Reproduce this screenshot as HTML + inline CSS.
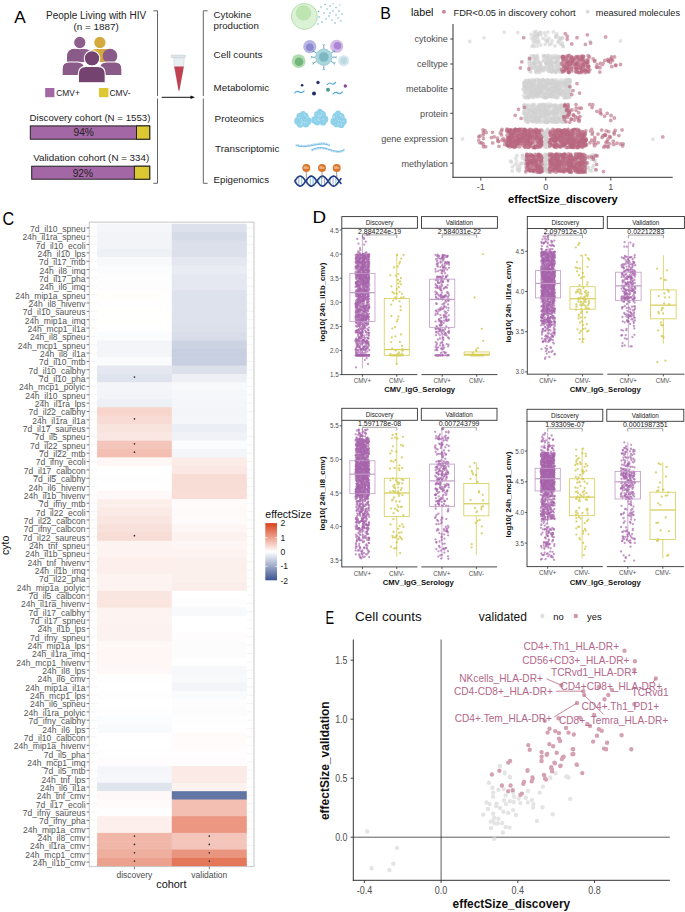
<!DOCTYPE html>
<html><head><meta charset="utf-8"><style>
html,body{margin:0;padding:0;background:#fff;}
svg{display:block;font-family:"Liberation Sans", sans-serif;}
</style></head><body>
<svg width="685" height="912" viewBox="0 0 685 912">
<rect width="685" height="912" fill="#fff"/>
<text x="14.2" y="23.2" font-size="17.2" text-anchor="start" fill="#000" >A</text>
<text x="96.1" y="19.2" font-size="10.0" text-anchor="middle" fill="#222" >People Living with HIV</text>
<text x="96.2" y="29.6" font-size="9.9" text-anchor="middle" fill="#222" >(n = 1887)</text>
<path d="M67.0 62.0 V56.4 Q67.0 48.9 74.5 48.9 H84.5 Q92.0 48.9 92.0 56.4 V62.0 Z" fill="#8e5e8c" />
<path d="M89.0 62.0 V56.4 Q89.0 48.9 96.5 48.9 H105.0 Q112.5 48.9 112.5 56.4 V62.0 Z" fill="#d5a93c" />
<circle cx="79.80" cy="42.50" r="6.20" fill="#8e5e8c" stroke="#fff" stroke-width="1.1"/>
<circle cx="99.90" cy="42.50" r="6.20" fill="#d5a93c" stroke="#fff" stroke-width="1.1"/>
<circle cx="74.60" cy="56.00" r="7.30" fill="#8a5a88" />
<circle cx="110.00" cy="56.00" r="7.30" fill="#8a5a88" />
<path d="M62.1 75.5 V69.0 Q62.1 62.0 69.1 62.0 H77.5 Q84.5 62.0 84.5 69.0 V75.5 Z" fill="#8a5a88" stroke="#fff" stroke-width="1.1"/>
<path d="M99.5 75.5 V69.0 Q99.5 62.0 106.5 62.0 H114.9 Q121.9 62.0 121.9 69.0 V75.5 Z" fill="#8a5a88" stroke="#fff" stroke-width="1.1"/>
<circle cx="92.00" cy="58.40" r="7.70" fill="#744370" stroke="#fff" stroke-width="1.1"/>
<path d="M78.4 82.7 V73.9 Q78.4 66.4 85.9 66.4 H97.7 Q105.2 66.4 105.2 73.9 V82.7 Z" fill="#744370" stroke="#fff" stroke-width="1.1"/>
<rect x="45.20" y="88.00" width="9.20" height="9.20" fill="#a467a5" />
<text x="56.3" y="96.0" font-size="8.4" text-anchor="start" fill="#222" >CMV+</text>
<rect x="99.00" y="88.00" width="9.40" height="9.20" fill="#dbc833" />
<text x="109.5" y="96.0" font-size="8.4" text-anchor="start" fill="#222" >CMV-</text>
<text x="90.0" y="120.5" font-size="9.7" text-anchor="middle" fill="#222" >Discovery cohort (N = 1553)</text>
<rect x="30.30" y="125.90" width="119.40" height="13.30" fill="#a467a5" stroke="#222" stroke-width="1"/>
<rect x="136.50" y="125.90" width="13.20" height="13.30" fill="#dbc833" stroke="#222" stroke-width="1"/>
<text x="83.7" y="135.7" font-size="10.2" text-anchor="middle" fill="#222" >94%</text>
<text x="91.2" y="160.8" font-size="9.8" text-anchor="middle" fill="#222" >Validation cohort (N = 334)</text>
<rect x="31.70" y="166.20" width="118.00" height="13.00" fill="#a467a5" stroke="#222" stroke-width="1"/>
<rect x="134.40" y="166.20" width="15.30" height="13.00" fill="#dbc833" stroke="#222" stroke-width="1"/>
<text x="82.9" y="176.5" font-size="10.2" text-anchor="middle" fill="#222" >92%</text>
<path d="M153.3 10.8 H157.5 V96 M157.5 98.5 V183.3 H153.3" fill="none" stroke="#555" stroke-width="0.9"/>
<path d="M173.8 57.6 L184.3 57.6 L183.8 67 L179.3 90.5 L178.6 90.5 L174.3 67 Z" fill="#e9eef1" stroke="#c9d2d6" stroke-width="0.5"/>
<path d="M174.3 66.5 L183.8 66.5 L179.4 90.6 L178.6 90.6 Z" fill="#c0414f"/>
<rect x="171.0" y="55.1" width="14.6" height="2.6" rx="0.8" fill="#dde5ea" stroke="#b9c3c8" stroke-width="0.4"/>
<line x1="161.70" y1="97.30" x2="191.50" y2="97.30" stroke="#111" stroke-width="1.0" />
<path d="M195 97.3 L190.5 95.6 L190.5 99 Z" fill="#111"/>
<path d="M207.6 10.8 H203.3 V96 M203.3 98.5 V183.3 H207.6" fill="none" stroke="#555" stroke-width="0.9"/>
<text x="213.6" y="18.2" font-size="9.7" text-anchor="start" fill="#222" >Cytokine</text>
<text x="213.6" y="28.6" font-size="9.7" text-anchor="start" fill="#222" >production</text>
<text x="213.6" y="58.2" font-size="9.9" text-anchor="start" fill="#222" >Cell counts</text>
<text x="213.6" y="91.3" font-size="9.8" text-anchor="start" fill="#222" >Metabolomic</text>
<text x="214.6" y="121.8" font-size="9.9" text-anchor="start" fill="#222" >Proteomics</text>
<text x="215.1" y="152.3" font-size="9.9" text-anchor="start" fill="#222" >Transcriptomic</text>
<text x="213.6" y="183.4" font-size="9.7" text-anchor="start" fill="#222" >Epigenomics</text>
<circle cx="304.40" cy="16.40" r="13.00" fill="#dcf2d6" stroke="#a9d9a0" stroke-width="0.8"/>
<circle cx="303.50" cy="12.90" r="7.70" fill="#bde4b1" />
<circle cx="318.50" cy="11.50" r="0.75" fill="#56a9c9" />
<circle cx="321.00" cy="7.00" r="0.65" fill="#56a9c9" />
<circle cx="324.00" cy="13.00" r="0.75" fill="#56a9c9" />
<circle cx="327.00" cy="9.00" r="0.65" fill="#56a9c9" />
<circle cx="330.00" cy="6.00" r="0.75" fill="#56a9c9" />
<circle cx="333.00" cy="11.00" r="0.65" fill="#56a9c9" />
<circle cx="336.00" cy="7.50" r="0.65" fill="#56a9c9" />
<circle cx="339.00" cy="11.00" r="0.75" fill="#56a9c9" />
<circle cx="342.00" cy="14.00" r="0.65" fill="#56a9c9" />
<circle cx="319.00" cy="17.00" r="0.75" fill="#56a9c9" />
<circle cx="322.00" cy="22.00" r="0.75" fill="#56a9c9" />
<circle cx="326.00" cy="19.00" r="0.65" fill="#56a9c9" />
<circle cx="329.00" cy="16.00" r="0.75" fill="#56a9c9" />
<circle cx="332.00" cy="20.00" r="0.65" fill="#56a9c9" />
<circle cx="335.00" cy="23.00" r="0.75" fill="#56a9c9" />
<circle cx="338.00" cy="18.00" r="0.65" fill="#56a9c9" />
<circle cx="341.00" cy="21.00" r="0.65" fill="#56a9c9" />
<circle cx="318.00" cy="24.00" r="0.75" fill="#56a9c9" />
<circle cx="330.00" cy="13.00" r="0.65" fill="#56a9c9" />
<circle cx="336.00" cy="15.00" r="0.65" fill="#56a9c9" />
<circle cx="325.00" cy="4.50" r="0.65" fill="#56a9c9" />
<circle cx="333.00" cy="3.80" r="0.55" fill="#56a9c9" />
<circle cx="340.00" cy="5.00" r="0.55" fill="#56a9c9" />
<circle cx="309.80" cy="46.70" r="6.60" fill="#b7b5e4" />
<circle cx="309.80" cy="47.30" r="3.80" fill="#8d89d1" />
<circle cx="336.70" cy="46.30" r="6.50" fill="#d3b9e6" />
<circle cx="337.50" cy="45.80" r="3.80" fill="#a985d3" />
<circle cx="298.60" cy="61.20" r="6.90" fill="#b1dcb0" />
<circle cx="299.00" cy="61.80" r="4.30" fill="#72b67d" />
<circle cx="343.70" cy="60.70" r="5.50" fill="#d3e7ee" />
<circle cx="343.70" cy="60.70" r="3.20" fill="#bcd9e2" />
<line x1="330.90" y1="61.30" x2="333.76" y2="62.95" stroke="#5b9fb4" stroke-width="0.9" />
<line x1="333.76" y1="62.95" x2="335.55" y2="62.79" stroke="#5b9fb4" stroke-width="0.8" />
<line x1="333.76" y1="62.95" x2="334.52" y2="64.58" stroke="#5b9fb4" stroke-width="0.8" />
<line x1="323.80" y1="65.40" x2="323.80" y2="68.70" stroke="#5b9fb4" stroke-width="0.9" />
<line x1="323.80" y1="68.70" x2="324.83" y2="70.17" stroke="#5b9fb4" stroke-width="0.8" />
<line x1="323.80" y1="68.70" x2="322.77" y2="70.17" stroke="#5b9fb4" stroke-width="0.8" />
<line x1="316.70" y1="61.30" x2="313.84" y2="62.95" stroke="#5b9fb4" stroke-width="0.9" />
<line x1="313.84" y1="62.95" x2="313.08" y2="64.58" stroke="#5b9fb4" stroke-width="0.8" />
<line x1="313.84" y1="62.95" x2="312.05" y2="62.79" stroke="#5b9fb4" stroke-width="0.8" />
<line x1="316.70" y1="53.10" x2="313.84" y2="51.45" stroke="#5b9fb4" stroke-width="0.9" />
<line x1="313.84" y1="51.45" x2="312.05" y2="51.61" stroke="#5b9fb4" stroke-width="0.8" />
<line x1="313.84" y1="51.45" x2="313.08" y2="49.82" stroke="#5b9fb4" stroke-width="0.8" />
<line x1="323.80" y1="49.00" x2="323.80" y2="45.70" stroke="#5b9fb4" stroke-width="0.9" />
<line x1="323.80" y1="45.70" x2="322.77" y2="44.23" stroke="#5b9fb4" stroke-width="0.8" />
<line x1="323.80" y1="45.70" x2="324.83" y2="44.23" stroke="#5b9fb4" stroke-width="0.8" />
<line x1="330.90" y1="53.10" x2="333.76" y2="51.45" stroke="#5b9fb4" stroke-width="0.9" />
<line x1="333.76" y1="51.45" x2="334.52" y2="49.82" stroke="#5b9fb4" stroke-width="0.8" />
<line x1="333.76" y1="51.45" x2="335.55" y2="51.61" stroke="#5b9fb4" stroke-width="0.8" />
<line x1="332.00" y1="57.20" x2="335.30" y2="57.20" stroke="#5b9fb4" stroke-width="0.9" />
<line x1="335.30" y1="57.20" x2="336.77" y2="56.17" stroke="#5b9fb4" stroke-width="0.8" />
<line x1="335.30" y1="57.20" x2="336.77" y2="58.23" stroke="#5b9fb4" stroke-width="0.8" />
<line x1="315.60" y1="57.20" x2="312.30" y2="57.20" stroke="#5b9fb4" stroke-width="0.9" />
<line x1="312.30" y1="57.20" x2="310.83" y2="58.23" stroke="#5b9fb4" stroke-width="0.8" />
<line x1="312.30" y1="57.20" x2="310.83" y2="56.17" stroke="#5b9fb4" stroke-width="0.8" />
<circle cx="323.80" cy="57.20" r="8.20" fill="#a9d6dc" stroke="#86c0c9" stroke-width="0.6"/>
<circle cx="323.80" cy="57.00" r="4.80" fill="#7db8c2" />
<circle cx="302.10" cy="85.30" r="1.30" fill="#1d2a6a" />
<circle cx="318.00" cy="82.50" r="1.70" fill="#2c3479" />
<circle cx="314.00" cy="93.50" r="2.00" fill="#1f2d6b" />
<circle cx="328.00" cy="89.70" r="2.00" fill="#4f9a95" />
<circle cx="345.30" cy="86.00" r="1.70" fill="#8a4a93" />
<path d="M294.6 93.0 q2.375 -2.6 4.75 -1 t4.75 -1.2" fill="none" stroke="#4aa5d4" stroke-width="1.1" stroke-linecap="round"/>
<path d="M327.3 84.6 q2.05 -2.6 4.1 -1 t4.1 -1.2" fill="none" stroke="#4aa5d4" stroke-width="1.1" stroke-linecap="round"/>
<path d="M333.0 94.0 q2.375 -2.6 4.75 -1 t4.75 -1.2" fill="none" stroke="#4aa5d4" stroke-width="1.1" stroke-linecap="round"/>
<circle cx="302.97" cy="113.85" r="2.90" fill="#90d2ea" />
<circle cx="300.20" cy="116.58" r="3.80" fill="#90d2ea" />
<circle cx="304.94" cy="116.52" r="3.80" fill="#90d2ea" />
<circle cx="298.20" cy="121.08" r="4.00" fill="#90d2ea" />
<circle cx="307.56" cy="121.12" r="4.00" fill="#90d2ea" />
<circle cx="303.12" cy="121.24" r="5.00" fill="#90d2ea" />
<circle cx="300.11" cy="124.34" r="3.40" fill="#90d2ea" />
<circle cx="305.88" cy="124.09" r="3.40" fill="#90d2ea" />
<circle cx="303.06" cy="118.87" r="0.70" fill="#b9e3f3" />
<circle cx="304.77" cy="114.97" r="0.70" fill="#b9e3f3" />
<circle cx="301.35" cy="119.73" r="0.70" fill="#b9e3f3" />
<circle cx="301.70" cy="124.73" r="0.70" fill="#b9e3f3" />
<circle cx="300.73" cy="121.08" r="0.70" fill="#b9e3f3" />
<circle cx="299.46" cy="117.45" r="0.70" fill="#b9e3f3" />
<circle cx="306.34" cy="122.35" r="0.70" fill="#b9e3f3" />
<circle cx="302.70" cy="120.77" r="0.70" fill="#b9e3f3" />
<circle cx="303.85" cy="119.68" r="0.70" fill="#b9e3f3" />
<circle cx="307.30" cy="117.57" r="0.70" fill="#b9e3f3" />
<circle cx="303.08" cy="121.85" r="0.70" fill="#b9e3f3" />
<circle cx="304.68" cy="122.47" r="0.70" fill="#b9e3f3" />
<circle cx="302.07" cy="123.21" r="0.70" fill="#b9e3f3" />
<circle cx="300.91" cy="124.10" r="0.70" fill="#b9e3f3" />
<circle cx="303.46" cy="120.65" r="0.60" fill="#7fc4e0" />
<circle cx="302.54" cy="119.51" r="0.60" fill="#7fc4e0" />
<circle cx="304.53" cy="117.70" r="0.60" fill="#7fc4e0" />
<circle cx="298.59" cy="119.89" r="0.60" fill="#7fc4e0" />
<circle cx="300.68" cy="118.11" r="0.60" fill="#7fc4e0" />
<circle cx="302.88" cy="119.77" r="0.60" fill="#7fc4e0" />
<circle cx="302.96" cy="118.30" r="0.60" fill="#7fc4e0" />
<circle cx="299.86" cy="120.58" r="0.60" fill="#7fc4e0" />
<circle cx="319.91" cy="111.53" r="2.90" fill="#90d2ea" />
<circle cx="317.66" cy="114.75" r="3.80" fill="#90d2ea" />
<circle cx="322.14" cy="114.66" r="3.80" fill="#90d2ea" />
<circle cx="315.18" cy="120.00" r="4.00" fill="#90d2ea" />
<circle cx="324.26" cy="119.13" r="4.00" fill="#90d2ea" />
<circle cx="319.95" cy="118.90" r="5.00" fill="#90d2ea" />
<circle cx="317.21" cy="122.11" r="3.40" fill="#90d2ea" />
<circle cx="323.04" cy="122.19" r="3.40" fill="#90d2ea" />
<circle cx="322.11" cy="112.75" r="0.70" fill="#b9e3f3" />
<circle cx="314.85" cy="115.96" r="0.70" fill="#b9e3f3" />
<circle cx="315.39" cy="120.85" r="0.70" fill="#b9e3f3" />
<circle cx="315.10" cy="114.11" r="0.70" fill="#b9e3f3" />
<circle cx="319.83" cy="117.70" r="0.70" fill="#b9e3f3" />
<circle cx="318.28" cy="115.37" r="0.70" fill="#b9e3f3" />
<circle cx="319.26" cy="117.86" r="0.70" fill="#b9e3f3" />
<circle cx="318.72" cy="116.02" r="0.70" fill="#b9e3f3" />
<circle cx="318.14" cy="119.49" r="0.70" fill="#b9e3f3" />
<circle cx="318.92" cy="120.66" r="0.70" fill="#b9e3f3" />
<circle cx="323.07" cy="119.57" r="0.70" fill="#b9e3f3" />
<circle cx="316.55" cy="113.80" r="0.70" fill="#b9e3f3" />
<circle cx="320.28" cy="116.21" r="0.70" fill="#b9e3f3" />
<circle cx="321.61" cy="115.07" r="0.70" fill="#b9e3f3" />
<circle cx="321.47" cy="122.45" r="0.60" fill="#7fc4e0" />
<circle cx="316.01" cy="115.19" r="0.60" fill="#7fc4e0" />
<circle cx="317.80" cy="117.07" r="0.60" fill="#7fc4e0" />
<circle cx="322.34" cy="116.42" r="0.60" fill="#7fc4e0" />
<circle cx="319.90" cy="117.58" r="0.60" fill="#7fc4e0" />
<circle cx="324.96" cy="115.37" r="0.60" fill="#7fc4e0" />
<circle cx="321.85" cy="118.12" r="0.60" fill="#7fc4e0" />
<circle cx="317.15" cy="113.74" r="0.60" fill="#7fc4e0" />
<circle cx="337.99" cy="113.36" r="2.90" fill="#90d2ea" />
<circle cx="336.12" cy="116.64" r="3.80" fill="#90d2ea" />
<circle cx="340.84" cy="116.83" r="3.80" fill="#90d2ea" />
<circle cx="334.43" cy="121.44" r="4.00" fill="#90d2ea" />
<circle cx="342.79" cy="121.22" r="4.00" fill="#90d2ea" />
<circle cx="338.45" cy="120.54" r="5.00" fill="#90d2ea" />
<circle cx="336.55" cy="123.95" r="3.40" fill="#90d2ea" />
<circle cx="341.23" cy="124.65" r="3.40" fill="#90d2ea" />
<circle cx="340.65" cy="115.57" r="0.70" fill="#b9e3f3" />
<circle cx="338.30" cy="119.56" r="0.70" fill="#b9e3f3" />
<circle cx="337.75" cy="124.10" r="0.70" fill="#b9e3f3" />
<circle cx="341.18" cy="124.43" r="0.70" fill="#b9e3f3" />
<circle cx="342.51" cy="116.93" r="0.70" fill="#b9e3f3" />
<circle cx="338.36" cy="120.39" r="0.70" fill="#b9e3f3" />
<circle cx="334.45" cy="117.31" r="0.70" fill="#b9e3f3" />
<circle cx="338.94" cy="119.38" r="0.70" fill="#b9e3f3" />
<circle cx="342.93" cy="121.19" r="0.70" fill="#b9e3f3" />
<circle cx="338.72" cy="123.34" r="0.70" fill="#b9e3f3" />
<circle cx="338.61" cy="119.35" r="0.70" fill="#b9e3f3" />
<circle cx="340.50" cy="120.73" r="0.70" fill="#b9e3f3" />
<circle cx="339.70" cy="116.82" r="0.70" fill="#b9e3f3" />
<circle cx="333.52" cy="116.95" r="0.70" fill="#b9e3f3" />
<circle cx="335.83" cy="118.16" r="0.60" fill="#7fc4e0" />
<circle cx="339.16" cy="115.84" r="0.60" fill="#7fc4e0" />
<circle cx="340.71" cy="118.63" r="0.60" fill="#7fc4e0" />
<circle cx="338.46" cy="119.23" r="0.60" fill="#7fc4e0" />
<circle cx="339.30" cy="117.39" r="0.60" fill="#7fc4e0" />
<circle cx="342.28" cy="119.82" r="0.60" fill="#7fc4e0" />
<circle cx="337.12" cy="122.27" r="0.60" fill="#7fc4e0" />
<circle cx="338.96" cy="119.72" r="0.60" fill="#7fc4e0" />
<path d="M295.50 145.30 L296.25 145.48 L297.00 145.67 L297.75 145.85 L298.50 146.03 L299.25 146.22 L300.00 146.40 L300.71 146.43 L301.43 146.46 L302.14 146.49 L302.86 146.51 L303.57 146.54 L304.29 146.57 L305.00 146.60 L305.71 146.51 L306.43 146.43 L307.14 146.34 L307.86 146.26 L308.57 146.17 L309.29 146.09 L310.00 146.00 L310.71 145.86 L311.43 145.71 L312.14 145.57 L312.86 145.43 L313.57 145.29 L314.29 145.14 L315.00 145.00 L315.71 144.89 L316.43 144.77 L317.14 144.66 L317.86 144.54 L318.57 144.43 L319.29 144.31 L320.00 144.20 L320.80 144.16 L321.60 144.12 L322.40 144.08 L323.20 144.04 L324.00 144.00 L324.75 144.15 L325.50 144.30 L326.25 144.45 L327.00 144.60 L327.83 145.00 L328.67 145.40 L329.50 145.80" fill="none" stroke="#4ea8dc" stroke-width="0.9" stroke-linejoin="round"/>
<path d="M297.00 145.67v-1.70M298.50 146.03v-1.70M300.00 146.40v-1.70M301.43 146.46v-1.70M302.86 146.51v-1.70M304.29 146.57v-1.70M305.71 146.51v-1.70M307.14 146.34v-1.70M308.57 146.17v-1.70M310.00 146.00v-1.70M311.43 145.71v-1.70M312.86 145.43v-1.70M314.29 145.14v-1.70M315.71 144.89v-1.70M317.14 144.66v-1.70M318.57 144.43v-1.70M320.00 144.20v-1.70M321.60 144.12v-1.70M323.20 144.04v-1.70M324.75 144.15v-1.70M326.25 144.45v-1.70M327.83 145.00v-1.70M329.50 145.80v-1.70" stroke="#62b4e2" stroke-width="0.6" fill="none"/>
<path d="M311.00 150.20 L311.75 149.85 L312.50 149.50 L313.25 149.15 L314.00 148.80 L314.80 148.58 L315.60 148.36 L316.40 148.14 L317.20 147.92 L318.00 147.70 L318.80 147.68 L319.60 147.66 L320.40 147.64 L321.20 147.62 L322.00 147.60 L322.80 147.74 L323.60 147.88 L324.40 148.02 L325.20 148.16 L326.00 148.30 L326.80 148.56 L327.60 148.82 L328.40 149.08 L329.20 149.34 L330.00 149.60 L330.80 149.84 L331.60 150.08 L332.40 150.32 L333.20 150.56 L334.00 150.80 L334.80 150.92 L335.60 151.04 L336.40 151.16 L337.20 151.28 L338.00 151.40 L338.75 151.30 L339.50 151.20 L340.25 151.10 L341.00 151.00 L341.70 150.68 L342.40 150.36 L343.10 150.04 L343.80 149.72 L344.50 149.40" fill="none" stroke="#4ea8dc" stroke-width="0.9" stroke-linejoin="round"/>
<path d="M312.50 149.50v1.70M314.00 148.80v1.70M315.60 148.36v1.70M317.20 147.92v1.70M318.80 147.68v1.70M320.40 147.64v1.70M322.00 147.60v1.70M323.60 147.88v1.70M325.20 148.16v1.70M326.80 148.56v1.70M328.40 149.08v1.70M330.00 149.60v1.70M331.60 150.08v1.70M333.20 150.56v1.70M334.80 150.92v1.70M336.40 151.16v1.70M338.00 151.40v1.70M339.50 151.20v1.70M341.00 151.00v1.70M342.40 150.36v1.70M343.80 149.72v1.70" stroke="#62b4e2" stroke-width="0.6" fill="none"/>
<line x1="296.00" y1="183.02" x2="296.00" y2="179.18" stroke="#5aa7d6" stroke-width="0.8" />
<line x1="298.85" y1="185.76" x2="298.85" y2="176.44" stroke="#9b86c9" stroke-width="0.8" />
<line x1="301.70" y1="185.64" x2="301.70" y2="176.56" stroke="#5fc0c8" stroke-width="0.8" />
<line x1="304.55" y1="182.75" x2="304.55" y2="179.45" stroke="#5aa7d6" stroke-width="0.8" />
<line x1="307.40" y1="178.85" x2="307.40" y2="183.35" stroke="#9b86c9" stroke-width="0.8" />
<line x1="310.25" y1="176.32" x2="310.25" y2="185.88" stroke="#5fc0c8" stroke-width="0.8" />
<line x1="313.10" y1="176.72" x2="313.10" y2="185.48" stroke="#5aa7d6" stroke-width="0.8" />
<line x1="315.95" y1="179.80" x2="315.95" y2="182.40" stroke="#9b86c9" stroke-width="0.8" />
<line x1="318.80" y1="183.67" x2="318.80" y2="178.53" stroke="#5fc0c8" stroke-width="0.8" />
<line x1="321.65" y1="185.97" x2="321.65" y2="176.23" stroke="#5aa7d6" stroke-width="0.8" />
<line x1="324.50" y1="185.29" x2="324.50" y2="176.91" stroke="#9b86c9" stroke-width="0.8" />
<line x1="327.35" y1="182.05" x2="327.35" y2="180.15" stroke="#5fc0c8" stroke-width="0.8" />
<line x1="330.20" y1="178.23" x2="330.20" y2="183.97" stroke="#5aa7d6" stroke-width="0.8" />
<line x1="333.05" y1="176.16" x2="333.05" y2="186.04" stroke="#9b86c9" stroke-width="0.8" />
<line x1="335.90" y1="177.11" x2="335.90" y2="185.09" stroke="#5fc0c8" stroke-width="0.8" />
<line x1="338.75" y1="180.51" x2="338.75" y2="181.69" stroke="#5aa7d6" stroke-width="0.8" />
<path d="M294.6 181.1 L295.4 182.2 L296.2 183.2 L296.9 184.2 L297.7 185.0 L298.5 185.6 L299.3 185.9 L300.1 186.1 L300.8 186.0 L301.6 185.7 L302.4 185.1 L303.2 184.4 L304.0 183.5 L304.7 182.5 L305.5 181.4 L306.3 180.3 L307.1 179.3 L307.9 178.3 L308.6 177.5 L309.4 176.8 L310.2 176.3 L311.0 176.1 L311.8 176.1 L312.5 176.4 L313.3 176.9 L314.1 177.6 L314.9 178.4 L315.7 179.4 L316.4 180.5 L317.2 181.6 L318.0 182.6 L318.8 183.6 L319.6 184.5 L320.3 185.2 L321.1 185.7 L321.9 186.0 L322.7 186.1 L323.5 185.9 L324.2 185.5 L325.0 184.9 L325.8 184.0 L326.6 183.1 L327.4 182.0 L328.1 180.9 L328.9 179.9 L329.7 178.8 L330.5 177.9 L331.3 177.1 L332.0 176.6 L332.8 176.2 L333.6 176.1 L334.4 176.2 L335.2 176.6 L335.9 177.1 L336.7 177.9 L337.5 178.8 L338.3 179.9 L339.1 180.9 L339.8 182.0 L340.6 183.1 L341.4 184.0" fill="none" stroke="#1e3a8a" stroke-width="1.6"/>
<path d="M294.6 181.1 L295.4 180.0 L296.2 179.0 L296.9 178.0 L297.7 177.2 L298.5 176.6 L299.3 176.3 L300.1 176.1 L300.8 176.2 L301.6 176.5 L302.4 177.1 L303.2 177.8 L304.0 178.7 L304.7 179.7 L305.5 180.8 L306.3 181.9 L307.1 182.9 L307.9 183.9 L308.6 184.7 L309.4 185.4 L310.2 185.9 L311.0 186.1 L311.8 186.1 L312.5 185.8 L313.3 185.3 L314.1 184.6 L314.9 183.8 L315.7 182.8 L316.4 181.7 L317.2 180.6 L318.0 179.6 L318.8 178.6 L319.6 177.7 L320.3 177.0 L321.1 176.5 L321.9 176.2 L322.7 176.1 L323.5 176.3 L324.2 176.7 L325.0 177.3 L325.8 178.2 L326.6 179.1 L327.4 180.2 L328.1 181.3 L328.9 182.3 L329.7 183.4 L330.5 184.3 L331.3 185.1 L332.0 185.6 L332.8 186.0 L333.6 186.1 L334.4 186.0 L335.2 185.6 L335.9 185.1 L336.7 184.3 L337.5 183.4 L338.3 182.3 L339.1 181.3 L339.8 180.2 L340.6 179.1 L341.4 178.2" fill="none" stroke="#23407f" stroke-width="1.6"/>
<line x1="306.30" y1="171.50" x2="306.30" y2="178.50" stroke="#555" stroke-width="0.6" />
<circle cx="306.30" cy="167.90" r="4.00" fill="#d9772e" />
<text x="306.3" y="169.4" font-size="3.6" text-anchor="middle" fill="#fbe7d6" >Me</text>
<line x1="322.00" y1="171.50" x2="322.00" y2="178.50" stroke="#555" stroke-width="0.6" />
<circle cx="322.00" cy="167.90" r="4.00" fill="#d9772e" />
<text x="322.0" y="169.4" font-size="3.6" text-anchor="middle" fill="#fbe7d6" >Me</text>
<line x1="336.70" y1="171.50" x2="336.70" y2="178.50" stroke="#555" stroke-width="0.6" />
<circle cx="336.70" cy="167.90" r="4.00" fill="#d9772e" />
<text x="336.7" y="169.4" font-size="3.6" text-anchor="middle" fill="#fbe7d6" >Me</text>
<text x="380.3" y="19.2" font-size="17.4" textLength="10.6" lengthAdjust="spacingAndGlyphs">B</text>
<text x="410.9" y="15.7" font-size="10.7" text-anchor="start" fill="#111" >label</text>
<circle cx="443.90" cy="11.80" r="2.00" fill="#c98aa0" />
<text x="453.5" y="15.5" font-size="9.25" text-anchor="start" fill="#222" >FDR&lt;0.05 in discovery cohort</text>
<circle cx="587.60" cy="11.80" r="2.00" fill="#dcdcdc" />
<text x="595.8" y="15.5" font-size="9.15" text-anchor="start" fill="#222" >measured molecules</text>
<path d="M528.3 93.9h0M549.9 94.3h0M531.6 116.9h0M557.0 84.3h0M533.6 120.3h0M547.1 96.7h0M529.6 66.4h0M530.1 114.2h0M532.1 114.8h0M531.3 55.8h0M561.2 70.6h0M530.2 119.2h0M556.1 108.9h0M549.5 44.7h0M528.8 109.7h0M546.4 141.9h0M560.9 88.8h0M554.7 113.9h0M564.3 121.2h0M552.8 110.8h0M539.3 109.6h0M563.7 109.3h0M556.9 120.2h0M547.4 141.6h0M517.8 32.6h0M589.9 155.7h0M526.5 163.2h0M541.2 105.1h0M559.4 94.5h0M564.7 109.3h0M540.5 32.3h0M530.8 83.1h0M544.4 157.5h0M532.4 96.8h0M549.2 71.1h0M562.9 91.3h0M539.8 84.5h0M561.8 90.5h0M549.0 80.8h0M560.8 72.3h0M557.3 108.3h0M537.9 58.2h0M533.2 118.3h0M539.4 109.9h0M532.9 64.2h0M537.3 57.0h0M558.7 118.8h0M544.7 55.8h0M527.0 95.6h0M551.7 72.1h0M563.7 107.6h0M553.2 108.4h0M555.9 113.8h0M462.6 138.9h0M524.6 82.7h0M560.8 170.4h0M538.6 42.2h0M565.1 87.9h0M529.0 86.3h0M591.5 170.9h0M552.3 95.7h0M550.7 104.5h0M530.3 113.9h0M541.1 34.8h0M556.0 88.0h0M546.3 171.5h0M563.8 115.9h0M546.4 69.1h0M534.7 35.0h0M535.5 66.3h0M545.7 114.8h0M549.5 120.9h0M540.4 81.2h0M528.7 110.0h0M532.9 112.4h0M561.3 86.7h0M526.1 118.1h0M543.7 104.4h0M551.2 60.9h0M543.7 132.2h0M556.7 110.1h0M653.0 139.2h0M559.0 157.1h0M527.2 94.5h0M539.5 92.3h0M552.8 87.6h0M554.4 109.0h0M516.9 155.4h0M555.7 122.2h0M569.1 97.4h0M556.8 83.0h0M566.2 79.8h0M548.2 80.2h0M556.5 84.0h0M548.9 81.9h0M543.5 97.1h0M551.2 80.7h0M526.4 116.4h0M546.3 133.1h0M569.8 81.3h0M539.0 118.6h0M566.2 80.1h0M562.0 95.0h0M560.8 69.3h0M553.8 119.0h0M556.4 71.0h0M546.1 58.1h0M548.3 60.4h0M535.4 159.6h0M556.8 110.2h0M541.2 111.6h0M551.3 118.4h0M561.8 108.7h0M532.1 113.9h0M544.1 132.9h0M532.4 120.3h0M510.5 161.1h0M531.5 66.4h0M549.6 108.2h0M528.9 97.3h0M537.3 69.6h0M544.7 121.1h0M563.6 113.4h0M545.2 67.2h0M528.9 113.8h0M546.1 62.9h0M544.3 80.6h0M546.2 136.2h0M547.6 110.5h0M519.0 171.0h0M546.0 87.0h0M547.7 109.5h0M538.3 93.3h0M527.7 94.0h0M525.1 85.2h0M534.8 63.2h0M559.7 56.8h0M544.3 137.7h0M555.5 111.1h0M557.5 69.2h0M570.8 155.0h0M548.7 113.7h0M538.6 88.5h0M517.5 170.1h0M528.4 121.0h0M565.6 83.0h0M545.8 113.1h0M542.2 85.3h0M558.3 89.5h0M537.1 119.2h0M564.2 106.3h0M539.3 71.1h0M530.6 92.1h0M544.5 134.5h0M547.7 130.6h0M566.0 85.3h0M533.3 85.8h0M538.4 79.8h0M558.7 58.8h0M555.9 155.7h0M547.0 95.0h0M530.0 91.0h0M538.5 82.7h0M594.8 160.6h0M564.1 94.7h0M545.5 164.7h0M546.3 155.0h0M531.7 84.2h0M546.6 122.5h0M533.0 118.8h0M525.4 92.5h0M536.5 86.6h0M546.6 155.7h0M547.6 139.2h0M565.0 118.6h0M539.8 69.0h0M563.7 114.5h0M544.3 166.5h0M535.2 58.2h0M533.5 56.1h0M549.7 64.5h0M541.2 90.3h0M524.3 109.7h0M577.2 163.3h0M547.4 81.7h0M525.5 108.9h0M524.9 83.8h0M551.1 89.4h0M555.3 83.7h0M530.0 85.1h0M547.7 41.2h0M528.9 94.6h0M530.7 155.6h0M536.0 119.9h0M542.1 116.1h0M545.3 68.5h0M537.8 106.9h0M526.7 107.5h0M545.5 83.2h0M534.3 117.1h0M542.1 88.1h0M540.0 83.0h0M561.5 166.2h0M547.6 106.3h0M551.5 105.4h0M532.6 104.5h0M565.7 96.9h0M555.2 114.8h0M540.6 120.4h0M532.4 56.0h0M563.7 91.0h0M563.0 94.6h0M563.2 119.8h0M535.1 88.7h0M558.1 109.7h0M543.3 70.8h0M535.4 113.5h0M568.1 86.8h0M577.0 162.3h0M549.5 171.7h0M541.4 85.5h0M547.5 58.8h0M531.8 163.2h0M531.9 95.9h0M569.6 93.9h0M557.1 118.5h0M542.6 112.1h0M556.0 114.8h0M552.9 67.5h0M535.8 71.0h0M519.9 167.2h0M545.2 44.3h0M534.5 94.1h0M554.7 97.0h0M577.7 165.7h0M556.1 96.7h0M520.7 163.5h0M545.1 169.6h0M546.3 93.4h0M550.1 82.6h0M555.4 62.4h0M526.5 89.6h0M536.8 33.6h0M531.6 82.2h0M547.3 112.6h0M534.4 81.1h0M531.3 64.8h0M529.2 81.0h0M549.1 96.1h0M541.9 112.4h0M551.7 70.0h0M562.3 93.5h0M565.0 90.3h0M549.8 110.9h0M549.0 38.2h0M549.3 112.6h0M558.2 83.3h0M545.0 163.0h0M525.0 106.2h0M539.2 85.2h0M563.6 93.6h0M545.4 143.2h0M534.2 104.5h0M545.3 169.4h0M570.2 160.8h0M556.2 72.5h0M569.1 81.9h0M561.0 94.8h0" stroke="#d1d1d1" stroke-width="3.8" stroke-linecap="round" fill="none" stroke-opacity="0.6"/>
<path d="M542.9 112.8h0M559.2 67.9h0M552.0 71.8h0M534.0 108.1h0M564.1 83.6h0M524.7 97.7h0M553.5 112.5h0M537.0 113.3h0M541.7 83.8h0M534.5 120.2h0M547.5 155.1h0M540.6 171.2h0M536.5 118.3h0M546.6 156.2h0M536.7 119.7h0M554.7 71.2h0M557.5 91.7h0M536.2 96.7h0M538.3 80.4h0M556.2 35.4h0M570.0 82.1h0M560.4 121.7h0M546.5 91.4h0M534.2 80.7h0M544.5 32.8h0M484.0 37.8h0M548.9 71.3h0M554.3 121.6h0M529.1 97.6h0M550.4 112.6h0M543.7 87.5h0M534.9 58.8h0M558.8 110.1h0M515.9 158.5h0M620.5 41.0h0M539.5 95.7h0M534.3 109.1h0M524.2 91.0h0M525.8 119.5h0M564.5 104.2h0M532.6 95.4h0M546.4 119.5h0M570.3 92.1h0M511.5 162.2h0M569.4 82.2h0M545.2 111.7h0M554.7 105.4h0M529.5 71.1h0M537.9 92.6h0M557.0 84.0h0M558.7 111.1h0M547.7 114.2h0M562.8 46.3h0M556.0 92.0h0M569.6 90.6h0M529.8 92.5h0M547.5 156.7h0M543.8 132.6h0M531.5 108.4h0M534.3 84.0h0M551.6 64.0h0M542.0 94.2h0M558.0 86.0h0M537.0 35.0h0M550.1 111.7h0M556.0 89.4h0M532.8 95.6h0M541.3 114.0h0M528.4 121.4h0M549.5 106.3h0M539.2 112.0h0M553.0 112.2h0M541.7 83.8h0M558.9 111.6h0M560.0 119.8h0M555.9 62.6h0M562.2 122.3h0M535.2 121.4h0M547.2 138.7h0M533.9 35.9h0M524.3 113.3h0M534.7 117.5h0M555.5 89.0h0M523.7 105.3h0M526.0 86.8h0M567.8 168.8h0M562.2 43.0h0M524.9 86.8h0M569.0 85.5h0M524.2 91.0h0M537.9 117.0h0M567.3 84.0h0M544.5 59.3h0M537.8 61.3h0M541.3 83.6h0M531.0 117.6h0M550.4 92.2h0M544.3 58.4h0M567.5 86.0h0M530.6 110.5h0M554.7 117.2h0M544.1 115.9h0M557.9 158.3h0M545.1 85.2h0M541.5 95.0h0M538.3 68.0h0M538.7 40.6h0M557.6 163.8h0M567.3 82.2h0M543.4 107.5h0M527.3 83.6h0M570.1 86.7h0M531.8 89.5h0M523.1 89.4h0M536.0 91.9h0M553.0 69.4h0M560.0 111.5h0M552.1 40.8h0M592.7 167.3h0M552.2 97.0h0M554.9 93.0h0M546.2 140.5h0M516.6 161.8h0M547.4 171.6h0M561.8 106.0h0M525.0 161.7h0M539.1 69.9h0M563.8 121.1h0M544.1 94.7h0M548.0 89.1h0M540.8 92.7h0M537.0 167.1h0M546.9 164.4h0M543.6 133.2h0M593.8 155.5h0M531.2 84.1h0M540.0 63.5h0M568.6 79.6h0M529.8 86.5h0M553.0 113.6h0M554.4 90.6h0M538.9 69.1h0M540.7 70.8h0M535.9 62.5h0M541.9 111.0h0M540.6 84.7h0M530.0 83.2h0M550.1 58.9h0M564.3 92.5h0M553.0 86.7h0M558.0 97.6h0M538.7 79.9h0M588.9 158.1h0M565.1 110.1h0M534.1 46.6h0M528.3 122.2h0M536.8 121.7h0M566.2 97.7h0M540.3 83.4h0M539.3 92.2h0M543.7 115.6h0M590.0 41.3h0M551.1 58.8h0M560.6 161.3h0M538.4 114.4h0M557.5 108.4h0M557.3 111.9h0M552.9 84.5h0M525.2 120.0h0M556.6 65.9h0M541.5 86.2h0M547.7 121.5h0M539.7 117.3h0M566.3 97.2h0M543.5 60.1h0M535.4 62.8h0M544.6 116.8h0M541.6 86.1h0M536.9 39.2h0M557.0 65.3h0M557.2 122.0h0M537.6 113.1h0M544.7 93.1h0M543.9 89.1h0M546.3 112.8h0M569.3 169.0h0M560.4 64.3h0M587.0 167.3h0M550.6 156.0h0M534.4 112.9h0M548.8 88.3h0M554.8 111.8h0M533.7 36.4h0M559.0 93.2h0M531.1 106.9h0M543.6 96.0h0M560.4 44.0h0M549.1 90.9h0M560.2 121.8h0M519.6 170.0h0M522.9 155.6h0M547.4 160.2h0M551.5 84.6h0M554.8 85.7h0M532.0 120.9h0M554.6 57.5h0M536.3 89.5h0M539.1 115.1h0M525.0 159.4h0M569.8 170.9h0M543.8 168.2h0M535.5 91.7h0M525.6 88.5h0M540.7 116.1h0M524.7 113.5h0M549.2 63.9h0M550.0 89.4h0M549.4 66.7h0M527.5 113.3h0M547.0 89.8h0M545.6 62.8h0M518.0 165.3h0M558.6 89.2h0M539.3 87.2h0M530.8 95.3h0M545.7 35.5h0M543.2 80.8h0M528.7 88.0h0M545.8 135.4h0M547.5 130.0h0M528.7 80.8h0M543.2 94.5h0M554.5 155.3h0M536.4 121.9h0M554.8 83.7h0M531.6 68.4h0M570.2 81.6h0M527.2 86.1h0M524.7 107.1h0M552.6 93.1h0M595.6 170.0h0M552.9 71.0h0M539.4 106.3h0M550.8 96.7h0M543.7 55.7h0M545.9 110.3h0M529.5 57.7h0M537.7 88.6h0M561.2 79.7h0M593.0 156.7h0M534.1 32.1h0M562.4 43.7h0M553.9 80.5h0M560.9 82.2h0M548.0 32.1h0M545.4 169.0h0M542.8 109.9h0M533.0 86.2h0M548.0 83.8h0M527.9 92.4h0M545.0 157.8h0M531.6 116.0h0M543.0 94.2h0M567.3 97.6h0M542.9 38.3h0M542.4 80.7h0M540.3 90.0h0M544.2 80.9h0" stroke="#d1d1d1" stroke-width="3.8" stroke-linecap="round" fill="none" stroke-opacity="0.6"/>
<path d="M523.5 83.3h0M551.8 114.2h0M528.1 86.3h0M540.5 122.4h0M560.2 88.9h0M564.0 119.8h0M562.8 90.3h0M596.3 155.3h0M533.5 86.9h0M531.6 81.8h0M551.1 71.2h0M555.8 37.4h0M548.4 55.5h0M560.6 107.0h0M554.3 85.1h0M531.0 91.6h0M530.5 110.2h0M547.8 65.9h0M539.3 91.4h0M535.5 58.3h0M532.5 88.0h0M547.7 141.5h0M541.4 106.8h0M556.2 67.3h0M541.3 159.7h0M536.6 92.9h0M565.4 89.8h0M555.9 86.1h0M554.4 121.6h0M544.3 114.9h0M545.2 139.4h0M528.4 87.7h0M552.5 115.4h0M551.3 120.4h0M549.7 66.2h0M556.8 108.1h0M564.1 97.7h0M556.1 70.1h0M525.2 117.0h0M554.2 90.9h0M563.1 116.0h0M551.4 116.4h0M545.9 136.2h0M524.6 113.1h0M525.9 105.8h0M564.8 114.4h0M528.1 82.0h0M544.1 108.3h0M546.4 62.5h0M533.9 84.9h0M545.7 67.9h0M593.6 165.5h0M548.4 64.1h0M549.4 114.1h0M531.0 91.3h0M567.8 93.6h0M529.6 162.9h0M536.3 91.2h0M531.6 83.7h0M558.2 80.9h0M529.4 60.0h0M562.5 93.9h0M569.9 88.9h0M553.2 86.4h0M544.4 137.4h0M555.2 108.7h0M558.4 56.8h0M533.0 62.8h0M554.9 58.3h0M588.3 168.6h0M529.4 109.6h0M553.8 118.1h0M556.5 108.6h0M540.1 91.5h0M557.4 82.6h0M546.8 111.5h0M551.4 56.4h0M537.0 109.1h0M536.6 95.5h0M517.5 168.5h0M529.2 61.5h0M552.8 65.4h0M535.1 66.1h0M536.0 119.6h0M541.3 96.5h0M545.5 146.8h0M544.5 166.9h0M538.3 86.5h0M540.1 118.4h0M556.3 79.8h0M559.6 106.0h0M549.9 96.1h0M554.9 108.9h0M524.1 111.6h0M562.5 82.8h0M531.8 79.7h0M525.9 107.1h0M557.6 107.3h0M556.6 82.7h0M553.4 31.9h0M547.0 142.5h0M542.0 116.7h0M545.0 111.9h0M538.4 105.0h0M526.2 114.8h0M549.6 115.4h0M533.2 41.0h0M546.5 132.6h0M538.7 67.1h0M556.7 59.3h0M546.6 160.8h0M590.0 170.3h0M560.4 88.4h0M543.5 106.0h0M528.4 158.3h0M533.8 88.3h0M552.7 121.4h0M543.1 115.2h0M559.6 63.4h0M548.9 60.2h0M540.4 66.1h0M543.7 143.9h0M534.2 90.1h0M545.8 168.9h0M551.9 83.7h0M562.7 37.4h0M558.1 85.2h0M527.3 122.2h0M529.4 116.6h0M528.9 89.3h0M537.2 46.0h0M539.0 34.2h0M558.3 66.8h0M532.9 91.0h0M580.0 165.0h0M533.4 97.6h0M554.6 93.9h0M524.2 85.8h0M542.0 106.1h0M540.1 93.3h0M531.9 88.0h0M541.7 96.4h0M523.9 85.5h0M553.7 163.3h0M539.3 166.5h0M562.8 95.1h0M535.2 59.3h0M544.3 108.4h0M541.2 80.7h0M540.2 115.0h0M554.9 83.9h0M551.5 68.7h0M565.5 84.0h0M560.9 38.5h0M557.7 105.9h0M525.0 82.2h0M554.2 94.3h0M561.4 116.3h0M541.7 94.9h0M548.8 117.7h0M555.2 92.4h0M552.7 84.4h0M547.1 142.1h0M582.8 162.3h0M551.4 92.6h0M544.1 162.1h0M529.1 111.9h0M548.1 94.3h0M542.1 91.5h0M533.6 112.4h0M552.6 62.1h0M545.2 122.2h0M545.7 134.9h0M522.0 163.4h0M538.2 118.7h0M526.2 87.9h0M564.6 92.8h0M529.5 58.8h0M553.8 62.4h0M504.2 32.2h0M558.7 85.0h0M555.1 72.0h0M560.6 92.9h0M558.9 118.9h0M538.5 93.6h0M543.9 164.3h0M547.1 70.1h0M551.4 65.5h0M469.7 41.5h0M558.8 116.8h0M553.5 80.1h0M548.8 121.8h0M569.9 80.0h0M545.9 146.5h0M535.8 154.2h0M544.4 60.8h0M550.8 121.4h0M530.9 71.9h0M543.9 93.6h0M533.8 43.8h0M528.6 82.7h0M567.7 90.6h0M544.9 146.8h0M557.1 114.0h0M546.8 68.7h0M537.9 110.5h0M541.9 69.2h0M536.8 165.0h0M547.3 156.3h0M524.4 111.8h0M540.2 32.3h0M547.2 121.5h0M544.3 162.5h0M545.0 110.4h0M535.5 94.1h0M544.7 163.6h0M554.3 108.4h0M534.3 155.9h0M528.1 117.8h0M594.8 161.0h0M541.2 122.3h0M546.9 86.7h0M544.6 68.0h0M547.7 84.3h0M562.2 90.7h0M533.8 40.3h0M540.3 85.6h0M541.2 104.3h0M533.1 105.5h0M549.4 114.9h0M547.2 147.4h0M535.0 94.2h0M553.2 168.8h0M534.0 121.0h0M563.2 167.9h0M565.5 109.8h0M539.4 117.5h0M548.5 89.2h0M565.9 89.5h0M530.2 90.1h0M543.8 119.2h0M542.1 95.4h0M544.1 165.3h0M556.7 61.4h0M525.5 92.2h0M564.1 90.3h0M535.0 56.5h0M563.3 46.7h0M533.3 63.9h0M545.3 97.7h0M541.1 93.8h0M536.4 110.2h0M551.7 158.3h0M525.7 117.2h0M547.0 132.6h0M562.5 94.1h0M533.3 80.1h0M544.8 116.1h0M535.2 109.3h0M555.3 82.7h0M544.6 89.3h0M558.2 70.5h0M535.9 118.9h0M547.4 57.9h0M553.5 111.8h0M537.8 109.2h0M552.9 116.8h0M569.8 82.1h0" stroke="#d1d1d1" stroke-width="3.8" stroke-linecap="round" fill="none" stroke-opacity="0.6"/>
<path d="M540.2 82.2h0M528.7 80.2h0M568.2 79.4h0M569.7 171.9h0M542.5 87.0h0M544.2 136.4h0M515.0 164.7h0M533.6 85.1h0M528.1 165.4h0M544.4 113.0h0M538.0 118.6h0M560.9 112.5h0M528.5 94.8h0M512.4 166.8h0M546.2 134.0h0M560.8 66.7h0M557.5 62.0h0M532.4 91.7h0M546.8 82.7h0M529.7 117.2h0M539.6 120.6h0M585.1 168.8h0M565.0 104.5h0M563.9 118.2h0M534.6 37.8h0M564.4 118.3h0M565.2 116.7h0M537.7 87.6h0M564.8 86.4h0M532.3 68.0h0M548.4 107.0h0M565.3 82.0h0M542.0 115.5h0M549.3 63.1h0M556.1 116.0h0M533.5 57.9h0M558.3 90.5h0M526.7 105.1h0M545.6 147.0h0M552.4 69.5h0M564.0 83.2h0M563.1 165.3h0M538.9 93.4h0M542.6 79.7h0M557.0 115.9h0M565.4 106.6h0M557.0 94.8h0M569.3 84.9h0M555.9 114.3h0M551.3 80.0h0M527.3 97.5h0M539.8 88.6h0M547.3 122.1h0M562.3 106.7h0M533.3 92.1h0M537.6 63.5h0M524.5 95.9h0M527.8 116.7h0M566.1 79.8h0M544.9 134.0h0M568.2 82.6h0M529.8 86.7h0M530.0 109.8h0M565.8 95.4h0M562.7 113.4h0M591.4 159.5h0M536.0 31.4h0M546.1 97.7h0M550.8 80.2h0M537.1 96.4h0M527.8 95.9h0M533.1 105.9h0M537.4 88.7h0M523.9 88.5h0M526.5 96.1h0M559.0 57.0h0M551.2 90.3h0M524.2 85.9h0M540.1 106.6h0M544.4 164.8h0M547.7 80.4h0M552.4 122.2h0M544.0 97.0h0M535.1 114.7h0M561.2 105.1h0M560.4 94.0h0M525.8 89.5h0M562.8 85.9h0M533.0 120.0h0M551.3 43.6h0M526.7 109.1h0M536.6 95.1h0M562.4 91.4h0M562.0 169.1h0M546.6 138.3h0M535.1 41.2h0M536.0 72.7h0M545.3 86.1h0M549.9 96.0h0M557.7 57.6h0M535.8 116.6h0M539.5 66.9h0M555.4 71.0h0M553.6 112.4h0M548.0 108.8h0M559.7 88.2h0M526.8 82.8h0M546.5 122.1h0M540.9 115.4h0M557.3 165.8h0M540.2 87.9h0M545.6 55.6h0M569.6 86.6h0M560.5 159.7h0M563.9 117.3h0M530.6 93.5h0M549.4 91.3h0M560.4 64.4h0M555.2 87.8h0M559.4 159.9h0M523.5 88.6h0M538.6 118.1h0M531.8 38.4h0M543.4 56.4h0M534.6 118.7h0M567.4 97.4h0M538.7 96.5h0M540.4 109.6h0M526.1 80.7h0M545.5 155.3h0M528.5 106.3h0M559.4 92.7h0M592.5 154.9h0M539.3 72.7h0M545.3 109.5h0M549.2 62.0h0M555.5 106.0h0M537.3 71.2h0M534.5 90.0h0M560.8 86.6h0M550.9 88.0h0M533.8 116.1h0M543.9 165.8h0M526.0 121.3h0M547.1 41.5h0M570.2 91.9h0M541.9 86.0h0M536.3 82.3h0M559.6 106.9h0M535.2 117.3h0M553.1 81.1h0M545.4 111.1h0M565.5 94.4h0M546.4 104.5h0M544.9 120.7h0M547.8 121.6h0M558.6 41.2h0M556.1 105.1h0M539.1 71.4h0M562.0 44.4h0M544.8 107.7h0M546.7 80.1h0M534.7 113.7h0M546.0 139.9h0M534.9 94.3h0M574.0 160.5h0M558.9 83.9h0M523.8 95.2h0M569.1 80.2h0M542.3 86.5h0M543.8 110.7h0M534.6 61.7h0M552.9 62.4h0M561.0 82.1h0M562.3 158.4h0M552.8 83.0h0M526.2 157.3h0M559.3 110.7h0M531.8 121.5h0M546.4 108.8h0M557.9 69.2h0M539.5 63.4h0M552.6 118.8h0M557.5 85.2h0M555.7 87.1h0M537.1 110.7h0M540.7 91.6h0M568.0 85.3h0M547.4 144.6h0M544.3 114.4h0M549.2 83.8h0M537.7 86.0h0M537.8 35.2h0M568.6 90.4h0M545.9 131.1h0M553.1 68.8h0M532.2 83.6h0M532.2 110.5h0M539.9 110.6h0M563.3 165.5h0M554.6 87.1h0M537.7 121.2h0M552.5 89.1h0M556.3 65.0h0M524.9 106.1h0M536.1 64.5h0M542.0 67.2h0M549.4 62.3h0M527.0 108.9h0M547.0 121.2h0M547.9 117.8h0M529.2 63.5h0M554.4 116.5h0M546.0 97.7h0M551.0 165.9h0M546.7 130.3h0M540.8 85.1h0M551.8 70.3h0M546.2 131.2h0M560.4 38.5h0M548.8 89.7h0M546.8 64.3h0M540.4 84.2h0M559.4 112.7h0M557.5 96.0h0M565.0 121.0h0M543.8 133.7h0M529.0 87.6h0M551.7 92.2h0M546.0 113.2h0M549.7 94.7h0M554.9 96.3h0M533.5 55.9h0M543.8 121.7h0M559.6 63.9h0M560.0 82.4h0M532.0 108.1h0M557.3 56.0h0M548.2 104.2h0M533.6 112.8h0M546.5 114.5h0M535.7 70.1h0M554.6 95.3h0M554.9 90.5h0M537.8 35.4h0M529.2 81.5h0M563.7 105.6h0M566.7 87.3h0M558.4 119.5h0M532.1 46.2h0M548.7 116.7h0M545.8 155.7h0M525.9 86.5h0M524.3 82.5h0M552.1 58.4h0M546.2 170.9h0M547.5 57.6h0M524.7 104.7h0M539.7 87.3h0M563.1 105.7h0M551.9 105.3h0M539.2 112.1h0M537.0 92.2h0M526.0 87.0h0M560.0 121.3h0M537.2 55.5h0M547.9 60.8h0M549.8 67.8h0" stroke="#d1d1d1" stroke-width="3.8" stroke-linecap="round" fill="none" stroke-opacity="0.6"/>
<path d="M551.6 121.0h0M536.2 91.2h0M527.5 85.6h0M550.0 87.1h0M561.7 121.1h0M543.2 69.9h0M554.4 105.2h0M555.8 87.7h0M545.5 118.0h0M522.4 158.0h0M537.8 86.9h0M535.3 114.5h0M547.2 63.8h0M569.9 96.7h0M534.6 84.9h0M548.6 55.8h0M552.3 96.0h0M552.2 112.5h0M555.1 71.2h0M529.0 164.9h0M547.5 80.0h0M540.3 67.2h0M556.6 90.9h0M549.7 154.3h0M559.8 118.5h0M532.6 111.7h0M547.3 141.6h0M542.6 81.8h0M547.4 159.3h0M563.4 122.1h0M546.0 107.6h0M539.5 116.2h0M557.7 93.7h0M512.2 170.9h0M562.2 109.4h0M547.2 144.6h0M546.8 167.5h0M540.4 91.1h0M527.2 84.6h0M541.7 69.1h0M552.4 56.5h0M538.5 84.1h0M533.5 121.6h0M548.9 68.5h0M553.6 83.3h0M533.1 63.2h0M533.5 90.1h0M529.3 113.0h0M561.0 114.8h0M538.7 113.8h0M546.0 110.6h0M544.7 162.3h0M533.2 88.0h0M550.9 119.7h0M545.0 154.1h0M555.7 119.0h0M544.2 155.4h0M540.6 167.9h0M543.9 68.6h0M538.1 117.2h0M550.0 85.5h0M540.3 156.6h0M563.9 115.5h0M523.8 113.2h0M542.5 69.1h0M536.1 108.8h0M560.5 109.8h0M577.3 160.5h0M562.3 108.4h0M537.8 155.0h0M540.1 114.7h0M546.7 137.6h0M552.2 121.2h0M535.6 90.2h0M546.1 165.3h0M525.7 115.6h0M545.5 82.6h0M564.7 113.8h0M556.5 108.9h0M531.1 59.3h0M550.5 61.2h0M580.8 171.0h0M545.7 105.5h0M551.6 89.9h0M550.2 95.5h0M560.5 105.2h0M560.4 118.2h0M536.7 107.5h0M543.6 170.1h0M564.1 83.0h0M537.6 86.7h0M536.2 94.7h0M527.0 118.1h0M542.5 87.4h0M531.6 86.8h0M556.0 36.3h0M535.1 94.3h0M564.2 167.6h0M564.3 83.7h0M558.2 60.8h0M567.4 86.5h0M543.5 79.7h0M564.3 155.7h0M543.9 159.8h0M532.6 91.0h0M555.2 56.4h0M531.6 63.0h0M543.7 104.7h0M552.6 92.1h0M540.7 116.4h0M560.6 83.8h0M567.9 95.9h0M559.3 92.9h0M559.5 40.6h0M548.4 112.9h0M528.2 97.6h0M525.0 158.8h0M526.4 119.3h0M543.0 85.7h0M547.2 93.9h0M558.0 70.6h0M556.8 34.0h0M529.9 65.8h0M534.8 114.9h0M557.0 85.4h0M559.0 57.6h0M547.3 91.3h0M568.8 94.6h0M539.0 61.9h0M536.7 67.9h0M525.6 111.8h0M570.2 80.6h0M555.0 109.6h0M550.7 113.2h0M544.5 134.3h0M547.4 40.4h0M563.8 112.4h0M575.7 156.2h0M547.4 114.1h0M555.9 59.4h0M536.8 118.1h0M569.9 167.6h0M549.7 64.4h0M556.3 97.8h0M555.4 113.1h0M535.3 110.7h0M558.2 42.2h0M538.5 80.6h0M529.0 89.8h0M534.6 67.8h0M542.4 105.7h0M555.9 111.5h0M563.2 118.0h0M529.5 96.0h0M547.0 133.8h0M556.6 84.2h0M537.0 122.2h0M522.4 155.5h0M545.3 87.0h0M547.4 121.1h0M546.1 122.3h0M534.2 88.4h0M524.8 85.8h0M558.4 37.2h0M546.3 64.1h0M556.3 89.6h0M554.9 82.1h0M556.6 157.9h0M543.3 86.6h0M539.8 105.3h0M545.8 166.0h0M528.6 119.4h0M545.6 39.9h0M530.5 81.7h0M535.9 107.2h0M547.7 129.4h0M565.4 85.1h0M564.3 80.4h0M552.4 93.5h0M541.7 84.9h0M531.4 81.4h0M526.5 97.6h0M548.5 96.9h0M541.1 65.2h0M551.9 65.2h0M546.3 89.8h0M594.5 155.7h0M567.5 94.7h0M554.9 45.9h0M524.3 118.3h0M546.0 107.5h0M593.5 159.4h0M525.5 80.6h0M525.4 81.4h0M557.8 90.4h0M537.0 58.7h0M557.3 122.0h0M546.0 140.8h0M533.9 110.1h0M542.5 87.8h0M528.9 120.2h0M530.8 115.6h0M542.9 84.6h0M543.8 143.2h0M536.4 71.7h0M564.8 97.7h0M560.8 63.2h0M550.4 83.6h0M543.1 110.2h0M562.0 38.7h0M542.1 92.3h0M527.0 83.9h0M531.8 86.0h0M537.8 88.9h0M525.0 114.6h0M560.4 57.3h0M532.1 95.6h0M539.7 109.4h0M549.9 82.0h0M544.2 105.5h0M545.6 121.8h0M526.8 111.3h0M561.0 107.1h0M538.1 121.2h0M534.5 120.7h0M584.0 157.9h0M541.1 62.5h0M537.7 37.4h0M588.6 167.4h0M562.4 105.5h0M530.7 114.9h0M562.1 112.5h0M547.6 169.0h0M554.4 110.0h0M537.9 87.2h0M567.0 91.7h0M533.6 93.1h0M561.0 117.5h0M545.3 160.1h0M537.0 42.6h0M536.1 79.7h0M550.0 106.4h0M536.7 95.9h0M546.1 156.4h0M534.0 84.1h0M563.7 157.6h0M530.9 34.5h0M539.4 110.7h0M526.9 109.6h0M565.0 154.0h0M540.7 45.0h0M556.7 112.2h0M556.9 81.9h0M545.0 93.2h0M552.8 90.8h0M529.1 105.1h0M536.4 92.5h0M546.4 83.7h0M549.6 84.3h0M554.2 55.7h0M551.6 64.4h0M529.5 88.7h0M560.0 71.4h0M545.0 96.6h0M526.3 113.8h0M530.6 90.8h0M536.9 85.7h0M546.2 81.6h0" stroke="#d1d1d1" stroke-width="3.8" stroke-linecap="round" fill="none" stroke-opacity="0.6"/>
<path d="M564.0 70.5h0M536.9 159.8h0M603.5 171.6h0M515.7 143.2h0M516.3 141.6h0M560.4 141.4h0M517.3 131.7h0M551.0 161.0h0M605.6 36.9h0M559.9 146.5h0M560.1 164.6h0M538.7 154.4h0M574.5 162.8h0M557.1 164.6h0M521.8 61.8h0M566.7 65.1h0M588.1 69.5h0M530.6 154.7h0M575.8 57.5h0M563.1 63.3h0M554.3 135.2h0M588.7 66.5h0M528.9 138.0h0M572.2 62.0h0M573.7 129.6h0M550.5 133.9h0M559.6 161.9h0M622.1 129.9h0M583.5 56.6h0M573.1 63.6h0M560.3 135.4h0M541.9 168.2h0M561.6 141.6h0M582.6 169.8h0M550.3 143.3h0M579.5 171.9h0M525.6 147.2h0M615.2 130.4h0M572.9 57.8h0M577.7 68.5h0M552.9 129.3h0M579.6 160.9h0M557.7 129.7h0M509.1 132.4h0M582.4 59.0h0M532.6 156.2h0M568.2 72.3h0M562.4 57.2h0M569.7 134.0h0M509.6 136.9h0M576.0 104.6h0M565.3 136.6h0M557.0 130.1h0M582.0 140.6h0M510.0 140.5h0M564.1 130.1h0M573.1 90.6h0M566.9 141.1h0M579.8 138.1h0M520.9 138.5h0M531.2 167.3h0M567.1 163.3h0M526.7 154.5h0M541.4 157.3h0M518.6 133.9h0M567.4 68.6h0M563.0 60.7h0M551.6 134.3h0M536.9 139.7h0M514.1 130.1h0M518.2 143.1h0M559.4 130.0h0M586.4 70.6h0M523.3 138.2h0M534.6 169.7h0M567.9 142.1h0M568.9 137.2h0M552.3 156.3h0M535.5 162.2h0M592.7 104.7h0M583.6 138.6h0M555.5 135.7h0M584.8 158.7h0M566.3 168.2h0M539.1 155.2h0M550.1 159.4h0M563.3 136.9h0M610.4 137.3h0M571.4 172.1h0M536.9 132.1h0M569.6 112.2h0M519.7 129.9h0M521.4 139.5h0M567.4 164.6h0M575.5 166.6h0M566.3 147.5h0M569.0 115.0h0M552.2 161.6h0M581.1 142.5h0M528.6 130.7h0M572.4 131.1h0M528.9 69.0h0M568.4 131.8h0M565.7 68.4h0M579.6 166.5h0M526.7 156.0h0M575.5 116.9h0M538.5 139.6h0M575.5 164.2h0M513.9 139.5h0M514.3 142.6h0M562.7 156.8h0M577.2 133.1h0M567.5 110.8h0M570.2 161.8h0M615.5 65.1h0M552.9 130.6h0M541.4 140.4h0M552.5 160.7h0M585.1 72.6h0M557.2 161.0h0M562.0 142.6h0M506.9 139.3h0M513.6 133.4h0M555.9 161.0h0M536.9 157.3h0M571.5 166.1h0M557.8 170.8h0M563.4 57.4h0M570.6 136.5h0M550.7 132.1h0M528.6 164.0h0M559.5 169.9h0M522.1 130.7h0M620.5 64.5h0M507.1 139.4h0M602.1 137.4h0M505.3 140.8h0M554.9 134.5h0M512.7 137.0h0M576.7 169.3h0M586.6 144.9h0M530.0 143.0h0M536.9 169.8h0M532.1 135.0h0M530.7 146.1h0M575.2 141.7h0M564.8 161.9h0M541.9 171.0h0M511.3 143.3h0M511.9 141.6h0M557.1 139.3h0M540.7 161.8h0M539.6 169.6h0M515.7 132.9h0M526.2 167.3h0M601.7 130.1h0M540.3 140.3h0M533.3 170.1h0M534.7 169.5h0M531.3 163.4h0M540.7 159.2h0M567.4 115.5h0M526.0 131.0h0M565.3 162.6h0M538.4 138.0h0M526.5 140.2h0M569.9 64.8h0M607.9 139.2h0M576.8 63.7h0M563.7 56.7h0M529.6 154.3h0M550.1 135.4h0M579.2 72.5h0M559.3 166.6h0M563.2 171.7h0M567.3 162.9h0M565.8 63.5h0M564.6 168.0h0M538.1 157.9h0M605.7 135.1h0M553.3 169.4h0M586.3 139.5h0M500.3 133.0h0M583.9 137.5h0M557.9 165.9h0M566.2 68.5h0M539.1 131.9h0M507.0 135.2h0M528.0 169.2h0M551.3 154.1h0M578.0 134.0h0M573.2 166.0h0M520.9 130.8h0M573.3 143.7h0M526.5 139.4h0M540.9 168.2h0M557.4 145.1h0M581.4 139.1h0M585.2 172.2h0M571.8 164.9h0M517.3 136.3h0M528.7 134.5h0M563.8 67.1h0M576.5 139.2h0M572.9 167.3h0M587.2 62.6h0M537.3 139.0h0M568.3 160.1h0M562.8 145.9h0M508.0 140.5h0M518.1 140.9h0M538.7 166.1h0M520.9 143.7h0M506.9 143.8h0M520.9 142.7h0M580.2 160.3h0M507.7 135.2h0M541.1 142.7h0M534.5 157.9h0M566.0 134.4h0M561.2 132.0h0M533.7 147.2h0M572.3 147.2h0M535.3 156.7h0M540.3 168.3h0M555.2 145.2h0M562.9 155.9h0M521.9 129.2h0M557.4 168.3h0M562.6 137.1h0M569.3 165.0h0M552.6 138.8h0M535.6 157.3h0M523.3 141.0h0M570.3 162.6h0M566.6 109.1h0M511.5 138.3h0M582.1 146.2h0M571.1 155.8h0M563.6 60.6h0M527.7 140.3h0M584.1 171.8h0M564.8 144.7h0M564.9 145.0h0M539.2 146.3h0M595.8 155.6h0M533.6 131.1h0M510.0 134.4h0M561.1 154.9h0M574.4 163.9h0M537.4 141.0h0M589.8 104.5h0M518.3 130.0h0M564.8 165.6h0M566.3 167.2h0M562.2 163.4h0M570.3 144.4h0M549.4 142.4h0M567.5 139.6h0M515.1 129.5h0M614.4 118.0h0M555.7 141.3h0M573.5 163.9h0M593.4 157.2h0M563.7 116.9h0M541.3 140.2h0M552.5 133.7h0M566.4 169.4h0M578.1 135.6h0M501.4 131.2h0M582.6 56.6h0M536.4 165.2h0M567.5 131.3h0M526.9 134.7h0M524.7 129.5h0M550.3 155.3h0M518.4 139.7h0M538.3 133.7h0M584.9 159.7h0M523.0 145.7h0" stroke="#b8657f" stroke-width="3.8" stroke-linecap="round" fill="none" stroke-opacity="0.6"/>
<path d="M558.9 167.1h0M574.4 170.3h0M537.0 169.7h0M537.3 130.8h0M552.6 162.8h0M563.5 132.3h0M575.3 159.3h0M514.5 130.9h0M516.6 137.3h0M551.9 169.0h0M534.1 143.0h0M569.8 122.2h0M574.1 145.4h0M561.7 63.5h0M533.8 133.4h0M541.9 141.7h0M583.2 64.7h0M579.9 155.0h0M609.7 136.3h0M570.0 157.0h0M508.3 145.4h0M537.0 169.2h0M509.1 138.3h0M585.4 164.9h0M580.1 132.6h0M568.3 132.1h0M572.4 143.4h0M541.8 145.2h0M580.0 116.6h0M580.1 65.1h0M580.6 165.5h0M523.0 137.2h0M561.8 167.7h0M529.6 132.1h0M551.9 138.5h0M534.0 141.2h0M584.7 140.4h0M581.8 56.2h0M527.0 154.4h0M511.5 131.6h0M586.1 139.2h0M579.0 141.6h0M536.8 134.2h0M584.5 142.8h0M572.4 166.3h0M555.5 146.0h0M533.5 161.9h0M613.3 141.1h0M530.7 145.7h0M511.7 132.2h0M554.1 158.0h0M570.8 154.5h0M556.5 159.1h0M511.8 130.1h0M568.9 72.5h0M581.2 67.4h0M576.4 154.2h0M583.3 62.6h0M533.2 147.5h0M604.6 134.8h0M541.9 171.5h0M562.0 64.3h0M583.3 62.0h0M570.1 62.3h0M517.7 134.8h0M581.1 63.4h0M549.8 156.1h0M516.2 129.7h0M539.1 155.4h0M611.1 115.5h0M581.0 169.5h0M568.1 104.4h0M556.2 154.3h0M576.4 66.3h0M507.7 138.0h0M557.4 137.7h0M586.9 70.9h0M514.4 139.0h0M524.7 145.3h0M554.5 146.1h0M550.6 170.7h0M525.8 136.1h0M534.7 139.9h0M580.6 162.6h0M537.7 147.3h0M558.5 162.0h0M572.5 144.6h0M594.8 137.7h0M549.5 142.1h0M520.4 67.9h0M581.4 146.3h0M510.9 136.0h0M557.9 169.9h0M556.6 144.9h0M584.8 162.5h0M559.0 134.5h0M531.9 136.0h0M509.6 137.7h0M580.8 65.2h0M575.7 67.7h0M541.9 157.8h0M592.5 132.1h0M522.9 137.7h0M507.2 144.5h0M581.7 159.5h0M575.2 158.8h0M526.5 160.0h0M541.0 171.7h0M541.8 130.2h0M514.2 145.5h0M573.6 139.0h0M576.1 170.4h0M570.7 157.0h0M508.0 137.5h0M567.0 62.7h0M568.2 113.1h0M562.5 56.4h0M577.9 162.8h0M533.6 159.8h0M552.9 140.0h0M564.6 145.5h0M580.3 156.5h0M527.6 135.9h0M585.1 144.6h0M583.7 138.1h0M579.1 168.4h0M513.1 135.3h0M538.0 167.8h0M520.0 138.6h0M511.3 137.3h0M549.6 168.6h0M573.4 141.3h0M511.0 135.0h0M511.4 131.0h0M569.6 144.6h0M540.0 167.6h0M531.8 143.3h0M590.6 130.9h0M564.5 66.6h0M573.5 66.9h0M530.3 133.5h0M577.6 59.2h0M567.0 133.9h0M568.1 162.7h0M589.4 56.9h0M572.9 142.6h0M571.9 159.4h0M561.4 133.2h0M554.3 168.4h0M512.0 135.6h0M530.9 156.2h0M537.7 170.2h0M579.4 59.4h0M555.3 169.8h0M576.1 154.4h0M553.4 136.4h0M518.5 141.7h0M526.1 139.0h0M610.8 120.5h0M532.7 139.6h0M511.6 146.4h0M559.3 135.2h0M591.7 129.5h0M512.0 137.7h0M608.7 131.6h0M516.2 131.0h0M552.0 160.8h0M581.5 167.9h0M565.5 68.7h0M564.1 138.3h0M511.8 131.4h0M565.5 105.7h0M539.6 138.9h0M580.7 170.2h0M559.8 154.5h0M566.4 59.1h0M508.1 129.7h0M570.2 171.2h0M584.2 70.8h0M577.6 155.2h0M585.7 163.7h0M558.5 169.5h0M531.5 131.7h0M576.3 65.2h0M580.1 154.6h0M522.8 134.5h0M580.9 65.8h0M584.5 140.3h0M570.3 64.8h0M515.3 131.7h0M564.5 171.7h0M533.0 131.9h0M516.4 146.4h0M516.6 137.4h0M526.7 135.0h0M611.7 58.9h0M578.2 171.8h0M562.9 156.9h0M537.0 130.8h0M529.5 170.8h0M582.7 135.6h0M561.6 131.0h0M532.0 132.3h0M541.4 156.0h0M510.5 144.8h0M571.2 161.2h0M515.2 115.3h0M578.7 112.7h0M536.5 129.7h0M517.7 144.4h0M541.6 136.6h0M579.2 146.3h0M539.7 171.7h0M611.7 56.9h0M554.8 131.7h0M570.3 140.3h0M569.4 166.0h0M539.1 166.9h0M567.9 169.2h0M528.7 144.6h0M549.8 146.5h0M571.2 147.4h0M582.5 159.8h0M578.8 72.6h0M514.8 143.9h0M601.1 113.9h0M583.0 160.5h0M563.6 154.7h0M530.2 162.3h0M597.1 155.9h0M608.6 61.0h0M551.4 156.9h0M567.7 138.3h0M536.4 163.2h0M533.3 157.2h0M576.3 159.0h0M536.9 165.7h0M569.5 55.5h0M583.5 61.7h0M508.0 130.2h0M536.6 132.0h0M537.5 169.5h0M569.1 67.8h0M533.6 171.5h0M581.6 157.0h0M516.7 140.2h0M569.8 110.7h0M518.5 142.7h0M569.9 160.5h0M512.3 135.9h0M524.3 131.9h0M558.9 166.7h0M568.9 147.0h0M571.8 145.0h0M607.2 146.5h0M570.5 164.2h0M555.4 134.6h0M531.5 155.3h0M568.0 135.9h0M574.6 59.1h0M577.0 163.3h0M508.4 145.4h0M575.7 71.6h0M550.0 172.2h0M550.6 133.5h0M576.5 167.3h0M578.2 145.9h0M511.8 141.7h0M574.1 132.9h0M554.8 139.4h0M535.8 141.1h0M555.4 165.7h0M509.0 142.1h0M581.4 59.4h0M521.8 137.8h0M567.2 36.2h0M566.7 134.2h0M579.6 93.1h0M568.6 114.4h0M563.4 141.9h0" stroke="#b8657f" stroke-width="3.8" stroke-linecap="round" fill="none" stroke-opacity="0.6"/>
<path d="M581.3 108.2h0M566.6 156.4h0M561.6 170.2h0M574.3 163.8h0M513.2 136.9h0M560.2 137.7h0M565.2 154.4h0M560.6 158.9h0M528.3 140.5h0M532.4 155.5h0M519.8 133.5h0M511.2 133.7h0M578.0 139.8h0M558.8 158.3h0M577.4 147.6h0M519.1 136.3h0M577.3 132.5h0M524.8 133.3h0M529.3 146.6h0M555.3 135.9h0M577.7 142.6h0M491.3 137.6h0M509.0 145.2h0M561.1 142.3h0M563.3 157.3h0M553.4 130.9h0M568.5 141.5h0M540.2 155.5h0M577.5 130.7h0M594.4 145.7h0M573.5 157.6h0M520.4 141.0h0M567.0 56.2h0M580.1 156.1h0M539.5 168.6h0M594.5 61.2h0M578.3 140.4h0M580.6 169.4h0M555.2 168.8h0M506.9 129.2h0M560.2 156.3h0M581.0 135.4h0M557.6 132.3h0M570.2 156.5h0M564.1 145.0h0M526.5 143.6h0M525.8 171.8h0M556.5 164.3h0M556.3 147.3h0M573.5 144.8h0M578.9 162.8h0M583.5 66.2h0M579.9 133.9h0M532.0 136.5h0M572.1 167.3h0M558.9 167.7h0M509.9 138.9h0M577.0 83.6h0M579.6 165.6h0M554.8 130.1h0M573.8 133.7h0M570.0 165.4h0M582.3 138.5h0M567.4 160.8h0M531.0 136.5h0M537.3 130.5h0M526.8 160.6h0M596.0 169.7h0M569.9 162.3h0M534.9 166.1h0M609.2 143.7h0M584.5 69.6h0M519.9 139.6h0M571.9 136.4h0M485.7 146.7h0M573.7 140.6h0M531.4 131.3h0M553.3 171.3h0M536.2 156.6h0M587.5 66.4h0M596.5 67.3h0M572.2 130.9h0M561.8 132.7h0M582.0 138.0h0M579.1 59.6h0M571.4 119.0h0M519.3 139.0h0M515.5 146.2h0M535.1 154.6h0M538.3 169.8h0M534.5 147.4h0M578.2 168.7h0M585.7 140.4h0M578.4 143.8h0M552.7 138.9h0M527.7 143.3h0M517.1 143.0h0M515.0 129.7h0M567.6 130.4h0M551.1 163.3h0M582.2 155.3h0M538.0 160.8h0M574.9 167.5h0M540.6 146.5h0M529.3 160.6h0M559.7 167.0h0M576.3 72.0h0M568.6 166.8h0M530.3 156.2h0M582.6 64.5h0M567.2 39.3h0M565.2 134.8h0M540.3 167.4h0M573.1 61.7h0M532.4 170.6h0M558.3 156.4h0M550.5 131.1h0M510.9 143.0h0M564.6 129.8h0M552.0 143.7h0M518.3 130.1h0M571.8 94.6h0M575.6 169.8h0M539.6 138.7h0M567.3 169.4h0M519.6 130.4h0M583.6 164.7h0M578.5 157.6h0M524.1 134.8h0M541.3 159.4h0M586.3 62.9h0M565.9 143.2h0M581.6 72.5h0M531.1 161.5h0M567.9 109.5h0M532.7 132.7h0M509.4 130.7h0M555.5 167.9h0M580.5 164.3h0M538.5 130.9h0M580.8 156.0h0M571.7 57.0h0M536.5 136.8h0M554.9 155.9h0M585.4 145.6h0M584.2 165.8h0M584.1 134.5h0M572.4 139.0h0M539.2 141.2h0M606.0 142.5h0M538.4 171.4h0M569.5 134.3h0M588.6 66.4h0M541.0 145.1h0M507.7 145.5h0M536.3 159.5h0M567.9 162.5h0M563.5 56.7h0M558.2 138.2h0M528.1 147.2h0M553.9 144.9h0M524.4 131.5h0M571.2 171.7h0M662.8 136.9h0M551.0 162.5h0M538.3 160.9h0M587.8 66.6h0M525.3 143.5h0M557.5 168.5h0M523.1 143.2h0M512.2 134.7h0M530.2 136.0h0M568.4 166.3h0M568.4 62.3h0M591.7 140.1h0M558.6 163.3h0M507.7 141.1h0M588.2 55.7h0M533.0 160.9h0M565.5 157.2h0M551.8 140.7h0M577.8 117.7h0M556.1 159.6h0M573.8 59.9h0M539.6 140.1h0M560.0 165.9h0M525.0 129.7h0M540.5 154.8h0M513.1 141.7h0M536.1 169.6h0M584.0 66.9h0M582.1 163.1h0M583.3 60.6h0M583.3 136.0h0M527.3 166.2h0M559.6 131.8h0M540.7 138.9h0M534.8 135.7h0M584.2 163.8h0M559.9 171.1h0M536.3 131.3h0M559.2 133.8h0M558.3 162.0h0M563.4 158.0h0M519.7 129.9h0M536.1 160.4h0M538.8 158.5h0M554.3 135.1h0M569.9 135.7h0M614.2 134.1h0M567.8 170.2h0M537.2 156.5h0M553.2 141.1h0M507.1 131.5h0M572.6 136.9h0M588.0 59.5h0M554.9 141.7h0M582.0 58.6h0M593.1 58.8h0M522.1 135.4h0M509.9 140.4h0M571.0 142.5h0M579.7 162.9h0M533.6 164.0h0M526.0 163.9h0M536.0 168.7h0M567.9 169.0h0M568.9 159.6h0M559.9 134.0h0M510.0 138.5h0M557.2 139.6h0M539.4 169.0h0M540.1 172.1h0M578.4 170.7h0M575.6 68.6h0M510.5 136.6h0M566.9 164.6h0M537.6 137.9h0M515.5 129.9h0M538.8 139.6h0M577.0 37.7h0M538.0 143.8h0M537.5 158.4h0M554.5 146.8h0M524.3 107.3h0M561.2 164.8h0M568.0 162.9h0M550.3 139.5h0M581.7 69.9h0M577.5 135.6h0M483.4 132.8h0M567.4 137.4h0M563.1 159.1h0M575.3 142.5h0M574.4 168.4h0M553.6 144.6h0M577.9 146.8h0M571.7 58.2h0M563.7 158.2h0M595.5 144.4h0M552.1 164.6h0M517.0 142.1h0M570.0 157.8h0M569.4 139.7h0M576.2 56.6h0M572.5 144.0h0M483.2 143.9h0M529.9 129.5h0M559.5 166.0h0M620.6 144.0h0M576.9 129.3h0M535.1 147.6h0M592.2 134.3h0M599.8 72.1h0M560.8 131.1h0M529.9 162.6h0M516.3 130.6h0M539.3 137.9h0M604.9 146.0h0M528.1 162.9h0" stroke="#b8657f" stroke-width="3.8" stroke-linecap="round" fill="none" stroke-opacity="0.6"/>
<path d="M567.9 163.7h0M580.5 68.6h0M576.3 147.0h0M576.6 147.3h0M579.4 65.2h0M554.6 137.9h0M568.7 64.6h0M583.6 136.3h0M559.8 140.4h0M573.2 114.8h0M615.9 65.5h0M561.7 130.7h0M578.4 63.2h0M532.7 159.6h0M563.4 71.1h0M617.0 143.2h0M582.6 165.6h0M562.3 154.7h0M580.2 141.7h0M572.9 160.7h0M567.3 163.2h0M610.5 62.6h0M550.1 163.1h0M567.2 61.3h0M513.4 144.0h0M555.9 155.1h0M577.7 154.1h0M590.6 43.0h0M569.7 161.9h0M602.5 64.4h0M573.2 167.6h0M536.5 166.3h0M581.8 71.3h0M529.8 136.4h0M539.1 141.1h0M569.4 72.2h0M561.3 135.0h0M600.2 112.7h0M539.8 142.0h0M510.5 146.6h0M564.5 119.6h0M580.2 165.0h0M527.8 166.1h0M557.6 160.7h0M584.5 160.9h0M481.4 142.9h0M562.7 144.7h0M523.3 131.4h0M514.0 141.6h0M540.0 167.7h0M534.8 147.1h0M528.5 161.4h0M562.8 158.3h0M585.8 130.8h0M508.7 131.1h0M582.3 141.8h0M600.0 67.7h0M585.5 162.7h0M549.3 154.2h0M569.0 164.5h0M575.4 129.8h0M558.2 157.2h0M536.2 137.6h0M584.1 140.3h0M582.4 167.6h0M583.8 142.4h0M583.5 146.0h0M581.0 146.5h0M532.8 140.6h0M512.7 142.7h0M578.2 143.7h0M520.3 142.6h0M554.7 157.3h0M563.7 66.3h0M527.2 141.1h0M585.1 167.1h0M526.9 136.6h0M583.8 154.4h0M527.9 155.6h0M563.3 132.3h0M564.4 156.5h0M569.9 166.0h0M523.1 137.5h0M553.7 134.0h0M573.6 140.8h0M527.0 143.2h0M562.4 135.3h0M515.0 131.6h0M604.6 116.2h0M564.1 160.6h0M529.1 139.4h0M515.5 135.3h0M583.0 131.8h0M551.5 159.4h0M622.6 145.9h0M584.6 155.7h0M566.1 121.8h0M582.5 147.3h0M603.1 63.3h0M585.5 139.8h0M522.5 139.0h0M565.3 68.3h0M502.0 129.4h0M550.5 140.2h0M584.7 69.3h0M569.3 157.6h0M584.2 65.1h0M568.0 147.4h0M567.9 140.4h0M550.7 139.9h0M520.9 143.1h0M581.8 156.1h0M582.1 145.1h0M514.7 146.7h0M527.4 163.7h0M573.2 129.8h0M523.2 133.0h0M563.4 170.9h0M572.1 144.5h0M550.2 166.5h0M576.3 157.3h0M571.2 60.0h0M575.8 154.5h0M572.1 130.9h0M581.2 164.4h0M556.9 166.7h0M576.8 146.2h0M529.5 169.4h0M536.9 172.2h0M539.8 130.1h0M576.2 108.1h0M563.8 140.5h0M519.5 146.8h0M571.1 161.6h0M525.7 132.7h0M571.4 60.3h0M526.2 132.1h0M540.9 161.5h0M569.1 139.4h0M509.8 131.3h0M575.2 169.2h0M572.2 61.2h0M518.5 109.3h0M529.5 132.7h0M576.6 172.0h0M613.9 144.6h0M583.8 133.1h0M611.8 66.7h0M557.8 140.4h0M509.7 146.9h0M514.3 136.2h0M578.3 119.9h0M571.6 134.5h0M579.3 65.1h0M554.8 146.8h0M613.2 143.9h0M553.9 141.0h0M553.9 164.2h0M565.1 134.8h0M577.1 146.6h0M509.5 138.0h0M564.2 116.9h0M554.9 135.1h0M618.9 135.6h0M515.9 129.7h0M566.5 60.2h0M552.7 166.5h0M538.0 144.9h0M556.6 154.1h0M577.7 147.4h0M520.2 144.4h0M539.2 166.8h0M556.1 146.8h0M569.5 171.2h0M565.0 158.8h0M576.1 110.3h0M584.2 162.2h0M562.6 160.4h0M583.7 156.8h0M521.1 138.4h0M575.4 154.1h0M563.9 143.5h0M575.5 171.4h0M584.9 170.8h0M593.4 159.0h0M564.5 106.0h0M556.7 131.4h0M578.7 156.4h0M581.2 141.6h0M570.7 134.2h0M527.2 141.6h0M535.0 161.7h0M568.2 170.4h0M549.9 160.1h0M600.4 63.5h0M603.8 147.2h0M568.2 106.2h0M575.6 130.1h0M570.9 134.0h0M511.7 140.8h0M573.9 143.9h0M562.6 71.5h0M530.4 143.6h0M504.7 144.7h0M569.7 160.5h0M571.1 146.1h0M504.5 141.2h0M582.4 165.7h0M550.6 143.8h0M568.7 166.0h0M550.2 145.0h0M572.0 168.2h0M524.6 142.7h0M575.8 64.3h0M532.2 142.5h0M569.3 160.5h0M536.1 160.6h0M565.7 58.0h0M513.1 137.0h0M561.0 161.6h0M483.4 146.7h0M579.0 130.4h0M527.9 139.0h0M571.9 139.6h0M579.9 134.8h0M584.3 145.9h0M568.0 163.5h0M532.5 164.7h0M558.5 137.8h0M566.7 170.8h0M539.8 172.2h0M526.0 143.7h0M540.5 143.6h0M510.7 129.7h0M574.8 147.4h0M529.9 138.2h0M584.7 136.0h0M582.0 142.0h0M558.4 164.5h0M497.5 138.2h0M572.2 141.8h0M592.1 107.6h0M584.1 140.5h0M569.5 167.6h0M583.6 143.1h0M513.3 135.8h0M530.8 160.9h0M566.7 143.3h0M538.0 155.8h0M517.9 139.3h0M561.5 139.4h0M585.1 64.3h0M585.4 169.0h0M582.5 172.1h0M554.0 145.1h0M558.0 131.1h0M596.9 111.3h0M562.8 58.7h0M598.0 134.1h0M586.4 62.4h0M569.2 112.7h0M528.2 140.6h0M533.7 130.5h0M554.9 132.7h0M555.1 142.7h0M555.1 145.3h0M563.1 142.7h0M521.1 118.3h0M607.1 141.6h0M571.5 69.2h0M540.5 134.3h0M555.4 139.3h0M570.2 163.2h0M540.3 144.0h0M535.2 132.2h0M570.8 145.2h0M568.9 171.5h0M557.7 154.2h0M508.8 145.9h0M508.2 140.1h0" stroke="#b8657f" stroke-width="3.8" stroke-linecap="round" fill="none" stroke-opacity="0.6"/>
<path d="M567.5 117.3h0M526.4 169.9h0M507.5 145.5h0M612.7 60.6h0M508.8 137.8h0M553.8 165.8h0M579.2 121.3h0M561.8 163.5h0M525.9 132.6h0M577.3 171.0h0M540.7 165.7h0M507.8 142.7h0M549.2 169.7h0M585.4 132.9h0M535.0 137.9h0M558.2 164.9h0M519.0 129.5h0M580.0 162.3h0M529.9 163.6h0M577.4 143.0h0M524.6 129.7h0M531.3 137.3h0M577.3 164.1h0M539.6 132.6h0M563.7 60.0h0M576.5 143.5h0M530.7 161.4h0M560.8 139.3h0M540.9 170.3h0M535.4 137.4h0M575.8 65.7h0M578.8 144.5h0M515.8 139.1h0M516.9 142.4h0M571.2 168.5h0M541.7 171.0h0M528.3 139.3h0M529.5 58.7h0M517.7 131.7h0M585.4 44.4h0M536.1 132.4h0M483.2 135.1h0M527.8 157.0h0M557.9 135.9h0M581.0 136.9h0M557.7 163.9h0M582.5 162.1h0M506.9 130.3h0M558.0 136.8h0M567.2 117.0h0M578.2 68.2h0M513.4 132.7h0M583.4 56.4h0M583.9 171.3h0M567.2 66.8h0M527.8 145.2h0M565.7 169.9h0M509.6 130.7h0M529.5 143.6h0M550.0 164.4h0M564.7 139.7h0M537.5 135.8h0M576.0 62.1h0M577.1 162.4h0M575.7 141.7h0M525.2 137.3h0M580.3 162.6h0M554.4 140.7h0M527.1 145.0h0M550.1 167.6h0M578.1 56.3h0M539.3 164.5h0M525.4 140.6h0M501.6 134.9h0M559.2 165.3h0M574.6 140.1h0M576.3 169.8h0M533.5 170.9h0M559.7 139.5h0M585.3 155.7h0M607.9 59.4h0M509.1 145.3h0M537.5 164.6h0M556.0 167.3h0M525.9 141.1h0M528.9 132.9h0M569.8 86.6h0M527.0 142.3h0M556.8 166.5h0M580.1 60.5h0M507.4 143.1h0M528.6 166.7h0M528.3 134.9h0M494.2 136.8h0M529.4 144.2h0M585.7 140.6h0M573.7 146.6h0M553.1 166.3h0M579.4 120.1h0M573.4 157.4h0M521.1 134.6h0M555.0 162.3h0M566.3 156.2h0M536.6 146.7h0M555.9 161.6h0M578.5 168.2h0M614.1 132.3h0M517.0 140.3h0M518.7 131.9h0M525.2 141.8h0M552.3 158.8h0M562.2 155.1h0M530.3 160.7h0M510.8 134.5h0M562.8 71.8h0M478.8 140.5h0M530.8 137.3h0M614.6 56.9h0M572.0 109.9h0M523.7 37.7h0M503.4 138.7h0M555.3 158.6h0M570.9 146.9h0M510.7 140.5h0M582.0 154.3h0M561.4 140.0h0M582.6 163.2h0M514.1 147.4h0M571.4 61.6h0M568.2 170.3h0M530.4 131.3h0M566.5 110.6h0M607.2 113.3h0M559.3 162.3h0M564.2 143.8h0M539.0 156.4h0M571.4 57.3h0M563.2 162.5h0M534.8 166.0h0M485.0 130.7h0M582.0 157.1h0M564.3 130.6h0M549.7 163.6h0M541.7 161.0h0M555.6 154.6h0M587.6 157.1h0M530.6 159.9h0M520.9 134.8h0M528.3 138.9h0M570.2 59.8h0M582.5 140.2h0M552.4 170.0h0M572.5 159.4h0M540.3 165.2h0M573.9 144.0h0M523.8 137.4h0M561.8 136.0h0M577.6 66.3h0M539.5 139.3h0M535.6 146.4h0M560.8 146.0h0M558.5 170.8h0M579.8 170.3h0M575.1 166.5h0M571.7 162.9h0M528.6 147.4h0M571.8 44.0h0M532.9 166.9h0M480.0 135.9h0M582.2 135.0h0M582.5 162.2h0M571.0 166.1h0M594.9 60.7h0M575.5 157.3h0M541.1 139.1h0M535.1 136.4h0M535.9 137.2h0M498.5 141.5h0M531.6 129.6h0M575.5 135.9h0M587.4 163.0h0M578.7 164.1h0M535.7 129.4h0M581.4 161.5h0M585.7 143.7h0M510.1 134.6h0M571.2 119.3h0M563.6 133.5h0M531.3 170.7h0M526.4 131.1h0M551.8 154.9h0M551.7 154.4h0M479.8 142.7h0M523.9 135.6h0M588.4 71.7h0M541.0 141.8h0M549.8 132.8h0M581.5 70.9h0M572.2 135.5h0M568.2 140.8h0M576.6 135.7h0M564.5 70.8h0M530.4 170.8h0M563.8 132.6h0M557.8 160.2h0M565.6 130.2h0M585.3 143.8h0M530.2 130.0h0M571.7 138.3h0M578.4 147.1h0M566.1 68.5h0M581.7 137.5h0M556.0 159.1h0M555.0 162.6h0M569.0 142.1h0M574.3 120.0h0M486.2 132.6h0M533.6 156.8h0M514.9 147.0h0M568.2 71.1h0M578.5 157.0h0M529.5 169.3h0M518.2 138.2h0M565.8 157.1h0M532.0 166.8h0M559.7 164.4h0M554.9 137.1h0M511.6 145.5h0M532.8 163.6h0M564.4 157.1h0M528.3 139.4h0M584.7 140.3h0M584.1 145.4h0M577.9 136.5h0M564.9 154.5h0M555.3 168.0h0M569.8 161.4h0M533.5 136.9h0M574.9 64.6h0M588.2 62.2h0M554.2 140.5h0M577.3 135.6h0M520.2 139.1h0M567.5 133.4h0M562.9 136.0h0M538.1 134.3h0M526.3 142.7h0M576.8 169.0h0M515.4 129.3h0M575.6 139.8h0M529.6 163.8h0M530.1 139.8h0M510.9 134.7h0M540.8 140.8h0M587.8 67.0h0M575.3 160.6h0M528.0 163.2h0M566.9 132.1h0M551.2 166.0h0M593.9 142.9h0M577.0 146.4h0M591.1 157.0h0M492.7 142.9h0M499.0 146.3h0M532.4 162.1h0M564.9 140.3h0M517.2 143.6h0M550.6 161.6h0M539.5 165.3h0M531.3 161.9h0M557.5 131.9h0M559.0 146.2h0M578.8 154.4h0M531.1 160.1h0M580.0 172.2h0M581.0 140.7h0M582.1 142.9h0M581.7 158.9h0M569.0 155.6h0M539.4 132.1h0" stroke="#b8657f" stroke-width="3.8" stroke-linecap="round" fill="none" stroke-opacity="0.6"/>
<path d="M478.8 136.8h0M583.6 141.1h0M559.1 156.1h0M522.9 140.5h0M512.3 134.1h0M571.6 63.6h0M529.7 136.1h0M551.0 138.8h0M519.8 135.7h0M524.7 146.9h0M518.5 141.5h0M594.6 140.4h0M552.8 158.7h0M570.9 157.0h0M559.5 145.9h0M558.5 135.0h0M556.2 165.3h0M577.9 57.3h0M568.6 154.0h0M573.1 144.6h0M492.5 132.3h0M571.6 160.3h0M569.9 160.6h0M577.8 163.8h0M585.1 158.7h0M568.8 62.7h0M556.1 169.3h0M553.0 159.0h0M519.1 130.6h0M583.4 157.9h0M558.4 165.2h0M541.5 137.6h0M559.7 136.8h0M572.0 133.7h0M565.0 143.4h0M555.5 154.8h0M604.8 60.4h0M606.3 130.8h0M582.5 172.0h0M538.2 143.1h0M580.7 154.8h0M610.8 58.9h0M583.8 167.9h0M588.6 71.9h0M564.2 167.2h0M483.0 130.0h0M585.2 61.9h0M531.6 142.8h0M596.6 164.4h0M514.0 133.1h0M573.9 139.3h0M565.1 104.9h0M532.1 159.9h0M523.2 130.0h0M573.4 159.4h0M532.1 170.3h0M600.5 109.8h0M573.4 147.4h0M559.5 130.2h0M538.0 167.9h0M541.4 141.8h0M508.4 145.2h0M574.5 166.4h0M516.9 135.7h0M516.0 142.5h0M564.0 165.6h0M574.9 129.3h0M578.2 142.5h0M582.5 139.9h0M569.1 57.8h0M581.2 169.0h0M562.1 145.5h0M538.5 154.3h0M510.1 133.6h0M574.1 166.6h0M579.9 158.0h0M585.7 140.6h0M587.3 60.6h0M566.8 158.8h0M553.0 135.2h0M566.3 163.5h0M582.6 141.7h0M510.8 142.1h0M565.8 143.2h0M579.3 108.1h0M568.5 70.7h0M541.6 168.6h0M581.5 133.0h0M581.2 132.3h0M565.0 140.0h0M557.4 130.4h0M524.5 132.9h0M571.7 134.3h0M584.3 168.7h0M535.3 146.2h0M582.0 164.4h0M526.4 141.0h0M581.0 57.0h0M553.8 146.0h0M567.8 67.8h0M556.9 161.4h0M536.8 131.4h0M569.3 169.7h0M562.3 163.1h0M581.5 140.1h0M586.4 61.3h0M501.9 140.2h0M563.5 163.2h0M537.1 132.4h0M562.9 161.2h0M573.7 115.3h0M571.7 142.8h0M598.1 142.7h0M513.9 142.0h0M573.3 141.7h0M583.3 168.4h0M538.3 164.4h0M569.9 169.1h0M560.4 144.7h0M569.8 172.2h0M597.5 66.9h0M513.1 131.8h0M583.2 143.0h0M576.3 69.0h0M539.7 168.3h0M583.7 63.6h0M584.7 140.0h0M582.8 66.2h0M578.0 169.6h0M497.8 140.9h0M568.1 129.3h0M529.3 158.8h0M608.3 61.1h0M541.2 144.2h0M578.8 130.1h0M550.1 161.5h0M534.7 147.5h0M578.9 172.3h0M521.7 138.8h0M581.7 161.9h0M577.3 62.6h0M563.4 158.8h0M571.7 167.3h0M516.8 144.1h0M569.9 144.0h0M563.7 166.6h0M528.5 163.5h0M567.8 140.1h0M527.9 158.8h0M510.3 130.3h0M527.1 130.3h0M557.5 130.4h0M572.0 70.9h0M560.6 139.5h0M563.0 170.2h0M561.4 69.6h0M531.8 155.4h0M582.2 131.7h0M568.0 139.8h0M526.6 156.7h0M536.6 163.5h0M566.0 63.9h0M565.6 140.3h0M578.4 57.1h0M570.4 137.7h0M540.9 167.8h0M570.6 131.4h0M575.4 138.6h0M540.4 140.3h0M566.4 160.5h0M565.4 132.1h0M522.6 137.1h0M483.5 138.6h0M556.8 154.6h0M576.3 158.7h0M563.3 137.1h0M521.5 130.5h0M554.1 137.7h0M521.2 134.5h0M576.9 163.9h0M581.8 170.0h0M518.2 143.6h0M564.7 138.2h0M568.6 157.8h0M566.0 143.3h0M560.5 162.5h0M529.0 170.2h0M554.0 162.6h0M528.5 141.6h0M509.1 138.0h0M570.4 154.8h0M538.5 131.5h0M571.7 146.4h0M522.7 138.2h0M550.3 170.8h0M563.8 154.4h0M571.2 67.9h0M567.6 161.8h0M551.2 165.0h0M555.7 140.2h0M560.9 144.1h0M556.0 172.2h0M561.0 171.3h0M623.2 143.8h0M554.8 163.7h0M520.4 141.0h0M564.0 165.9h0M526.6 156.4h0M608.5 146.9h0M554.9 138.0h0M585.4 60.2h0M580.0 139.2h0M582.6 58.4h0M556.0 156.1h0M534.8 137.9h0M565.3 33.6h0M554.0 158.0h0M603.0 135.9h0M533.4 170.2h0M538.1 171.6h0M567.9 107.4h0M529.0 135.1h0M586.5 71.7h0M512.6 146.2h0M590.0 142.7h0M515.9 141.0h0M569.6 140.3h0M550.9 135.4h0M559.5 161.1h0M530.0 136.9h0M522.3 139.0h0M589.9 69.8h0M585.0 134.5h0M536.3 164.1h0M538.2 159.9h0M540.1 136.0h0M558.5 159.6h0M553.4 154.7h0M568.1 56.0h0M578.4 154.8h0M604.9 135.5h0M561.3 133.4h0M581.1 67.6h0M551.9 145.3h0M528.1 158.4h0M533.2 160.8h0M577.3 71.1h0M534.8 161.6h0M535.5 132.2h0M510.5 139.5h0M553.4 159.9h0M579.1 144.6h0M572.2 131.9h0M571.8 163.9h0M560.3 147.0h0M525.8 134.8h0M584.1 171.7h0M573.0 59.8h0M568.2 61.6h0M567.6 133.5h0M587.8 65.2h0M540.3 171.2h0M574.5 137.6h0M587.4 34.8h0M519.9 129.4h0M539.6 146.8h0M536.8 135.4h0M524.9 133.7h0M554.7 169.9h0M597.0 64.7h0M539.5 165.6h0M579.2 141.7h0M541.9 164.1h0M576.4 64.1h0M529.8 137.6h0M553.6 164.7h0M580.1 154.0h0M571.8 130.5h0M568.5 135.3h0M557.5 144.0h0" stroke="#b8657f" stroke-width="3.8" stroke-linecap="round" fill="none" stroke-opacity="0.6"/>
<line x1="453.00" y1="24.00" x2="453.00" y2="177.80" stroke="#333" stroke-width="1.0" />
<line x1="452.50" y1="177.30" x2="672.70" y2="177.30" stroke="#333" stroke-width="1.0" />
<line x1="450.20" y1="39.00" x2="453.00" y2="39.00" stroke="#333" stroke-width="0.9" />
<text x="447.9" y="42.4" font-size="9.1" text-anchor="end" fill="#4d4d4d" >cytokine</text>
<line x1="450.20" y1="64.00" x2="453.00" y2="64.00" stroke="#333" stroke-width="0.9" />
<text x="447.9" y="67.4" font-size="9.1" text-anchor="end" fill="#4d4d4d" >celltype</text>
<line x1="450.20" y1="88.60" x2="453.00" y2="88.60" stroke="#333" stroke-width="0.9" />
<text x="447.9" y="92.0" font-size="9.1" text-anchor="end" fill="#4d4d4d" >metabolite</text>
<line x1="450.20" y1="113.30" x2="453.00" y2="113.30" stroke="#333" stroke-width="0.9" />
<text x="447.9" y="116.7" font-size="9.1" text-anchor="end" fill="#4d4d4d" >protein</text>
<line x1="450.20" y1="138.40" x2="453.00" y2="138.40" stroke="#333" stroke-width="0.9" />
<text x="447.9" y="141.8" font-size="9.1" text-anchor="end" fill="#4d4d4d" >gene expression</text>
<line x1="450.20" y1="163.20" x2="453.00" y2="163.20" stroke="#333" stroke-width="0.9" />
<text x="447.9" y="166.6" font-size="9.1" text-anchor="end" fill="#4d4d4d" >methylation</text>
<line x1="480.80" y1="177.30" x2="480.80" y2="180.60" stroke="#333" stroke-width="0.9" />
<text x="480.8" y="190.0" font-size="9.1" text-anchor="middle" fill="#4d4d4d" >-1</text>
<line x1="545.80" y1="177.30" x2="545.80" y2="180.60" stroke="#333" stroke-width="0.9" />
<text x="545.8" y="190.0" font-size="9.1" text-anchor="middle" fill="#4d4d4d" >0</text>
<line x1="610.80" y1="177.30" x2="610.80" y2="180.60" stroke="#333" stroke-width="0.9" />
<text x="610.8" y="190.0" font-size="9.1" text-anchor="middle" fill="#4d4d4d" >1</text>
<text x="562.9" y="203.4" font-size="11.1" text-anchor="middle" fill="#000" font-weight="bold" >effectSize_discovery</text>
<text x="2.6" y="224.9" font-size="18" textLength="11.6" lengthAdjust="spacingAndGlyphs">C</text>
<line x1="89.20" y1="227.87" x2="254.00" y2="227.87" stroke="#ebebeb" stroke-width="0.55" />
<line x1="89.20" y1="236.22" x2="254.00" y2="236.22" stroke="#ebebeb" stroke-width="0.55" />
<line x1="89.20" y1="244.56" x2="254.00" y2="244.56" stroke="#ebebeb" stroke-width="0.55" />
<line x1="89.20" y1="252.91" x2="254.00" y2="252.91" stroke="#ebebeb" stroke-width="0.55" />
<line x1="89.20" y1="261.25" x2="254.00" y2="261.25" stroke="#ebebeb" stroke-width="0.55" />
<line x1="89.20" y1="269.60" x2="254.00" y2="269.60" stroke="#ebebeb" stroke-width="0.55" />
<line x1="89.20" y1="277.94" x2="254.00" y2="277.94" stroke="#ebebeb" stroke-width="0.55" />
<line x1="89.20" y1="286.29" x2="254.00" y2="286.29" stroke="#ebebeb" stroke-width="0.55" />
<line x1="89.20" y1="294.63" x2="254.00" y2="294.63" stroke="#ebebeb" stroke-width="0.55" />
<line x1="89.20" y1="302.98" x2="254.00" y2="302.98" stroke="#ebebeb" stroke-width="0.55" />
<line x1="89.20" y1="311.32" x2="254.00" y2="311.32" stroke="#ebebeb" stroke-width="0.55" />
<line x1="89.20" y1="319.67" x2="254.00" y2="319.67" stroke="#ebebeb" stroke-width="0.55" />
<line x1="89.20" y1="328.01" x2="254.00" y2="328.01" stroke="#ebebeb" stroke-width="0.55" />
<line x1="89.20" y1="336.36" x2="254.00" y2="336.36" stroke="#ebebeb" stroke-width="0.55" />
<line x1="89.20" y1="344.70" x2="254.00" y2="344.70" stroke="#ebebeb" stroke-width="0.55" />
<line x1="89.20" y1="353.05" x2="254.00" y2="353.05" stroke="#ebebeb" stroke-width="0.55" />
<line x1="89.20" y1="361.39" x2="254.00" y2="361.39" stroke="#ebebeb" stroke-width="0.55" />
<line x1="89.20" y1="369.74" x2="254.00" y2="369.74" stroke="#ebebeb" stroke-width="0.55" />
<line x1="89.20" y1="378.08" x2="254.00" y2="378.08" stroke="#ebebeb" stroke-width="0.55" />
<line x1="89.20" y1="386.43" x2="254.00" y2="386.43" stroke="#ebebeb" stroke-width="0.55" />
<line x1="89.20" y1="394.77" x2="254.00" y2="394.77" stroke="#ebebeb" stroke-width="0.55" />
<line x1="89.20" y1="403.12" x2="254.00" y2="403.12" stroke="#ebebeb" stroke-width="0.55" />
<line x1="89.20" y1="411.46" x2="254.00" y2="411.46" stroke="#ebebeb" stroke-width="0.55" />
<line x1="89.20" y1="419.81" x2="254.00" y2="419.81" stroke="#ebebeb" stroke-width="0.55" />
<line x1="89.20" y1="428.15" x2="254.00" y2="428.15" stroke="#ebebeb" stroke-width="0.55" />
<line x1="89.20" y1="436.50" x2="254.00" y2="436.50" stroke="#ebebeb" stroke-width="0.55" />
<line x1="89.20" y1="444.84" x2="254.00" y2="444.84" stroke="#ebebeb" stroke-width="0.55" />
<line x1="89.20" y1="453.19" x2="254.00" y2="453.19" stroke="#ebebeb" stroke-width="0.55" />
<line x1="89.20" y1="461.53" x2="254.00" y2="461.53" stroke="#ebebeb" stroke-width="0.55" />
<line x1="89.20" y1="469.88" x2="254.00" y2="469.88" stroke="#ebebeb" stroke-width="0.55" />
<line x1="89.20" y1="478.22" x2="254.00" y2="478.22" stroke="#ebebeb" stroke-width="0.55" />
<line x1="89.20" y1="486.57" x2="254.00" y2="486.57" stroke="#ebebeb" stroke-width="0.55" />
<line x1="89.20" y1="494.91" x2="254.00" y2="494.91" stroke="#ebebeb" stroke-width="0.55" />
<line x1="89.20" y1="503.26" x2="254.00" y2="503.26" stroke="#ebebeb" stroke-width="0.55" />
<line x1="89.20" y1="511.60" x2="254.00" y2="511.60" stroke="#ebebeb" stroke-width="0.55" />
<line x1="89.20" y1="519.95" x2="254.00" y2="519.95" stroke="#ebebeb" stroke-width="0.55" />
<line x1="89.20" y1="528.29" x2="254.00" y2="528.29" stroke="#ebebeb" stroke-width="0.55" />
<line x1="89.20" y1="536.64" x2="254.00" y2="536.64" stroke="#ebebeb" stroke-width="0.55" />
<line x1="89.20" y1="544.98" x2="254.00" y2="544.98" stroke="#ebebeb" stroke-width="0.55" />
<line x1="89.20" y1="553.33" x2="254.00" y2="553.33" stroke="#ebebeb" stroke-width="0.55" />
<line x1="89.20" y1="561.67" x2="254.00" y2="561.67" stroke="#ebebeb" stroke-width="0.55" />
<line x1="89.20" y1="570.02" x2="254.00" y2="570.02" stroke="#ebebeb" stroke-width="0.55" />
<line x1="89.20" y1="578.36" x2="254.00" y2="578.36" stroke="#ebebeb" stroke-width="0.55" />
<line x1="89.20" y1="586.71" x2="254.00" y2="586.71" stroke="#ebebeb" stroke-width="0.55" />
<line x1="89.20" y1="595.05" x2="254.00" y2="595.05" stroke="#ebebeb" stroke-width="0.55" />
<line x1="89.20" y1="603.40" x2="254.00" y2="603.40" stroke="#ebebeb" stroke-width="0.55" />
<line x1="89.20" y1="611.74" x2="254.00" y2="611.74" stroke="#ebebeb" stroke-width="0.55" />
<line x1="89.20" y1="620.09" x2="254.00" y2="620.09" stroke="#ebebeb" stroke-width="0.55" />
<line x1="89.20" y1="628.43" x2="254.00" y2="628.43" stroke="#ebebeb" stroke-width="0.55" />
<line x1="89.20" y1="636.78" x2="254.00" y2="636.78" stroke="#ebebeb" stroke-width="0.55" />
<line x1="89.20" y1="645.12" x2="254.00" y2="645.12" stroke="#ebebeb" stroke-width="0.55" />
<line x1="89.20" y1="653.47" x2="254.00" y2="653.47" stroke="#ebebeb" stroke-width="0.55" />
<line x1="89.20" y1="661.81" x2="254.00" y2="661.81" stroke="#ebebeb" stroke-width="0.55" />
<line x1="89.20" y1="670.16" x2="254.00" y2="670.16" stroke="#ebebeb" stroke-width="0.55" />
<line x1="89.20" y1="678.50" x2="254.00" y2="678.50" stroke="#ebebeb" stroke-width="0.55" />
<line x1="89.20" y1="686.85" x2="254.00" y2="686.85" stroke="#ebebeb" stroke-width="0.55" />
<line x1="89.20" y1="695.19" x2="254.00" y2="695.19" stroke="#ebebeb" stroke-width="0.55" />
<line x1="89.20" y1="703.54" x2="254.00" y2="703.54" stroke="#ebebeb" stroke-width="0.55" />
<line x1="89.20" y1="711.88" x2="254.00" y2="711.88" stroke="#ebebeb" stroke-width="0.55" />
<line x1="89.20" y1="720.23" x2="254.00" y2="720.23" stroke="#ebebeb" stroke-width="0.55" />
<line x1="89.20" y1="728.57" x2="254.00" y2="728.57" stroke="#ebebeb" stroke-width="0.55" />
<line x1="89.20" y1="736.92" x2="254.00" y2="736.92" stroke="#ebebeb" stroke-width="0.55" />
<line x1="89.20" y1="745.26" x2="254.00" y2="745.26" stroke="#ebebeb" stroke-width="0.55" />
<line x1="89.20" y1="753.61" x2="254.00" y2="753.61" stroke="#ebebeb" stroke-width="0.55" />
<line x1="89.20" y1="761.95" x2="254.00" y2="761.95" stroke="#ebebeb" stroke-width="0.55" />
<line x1="89.20" y1="770.30" x2="254.00" y2="770.30" stroke="#ebebeb" stroke-width="0.55" />
<line x1="89.20" y1="778.64" x2="254.00" y2="778.64" stroke="#ebebeb" stroke-width="0.55" />
<line x1="89.20" y1="786.99" x2="254.00" y2="786.99" stroke="#ebebeb" stroke-width="0.55" />
<line x1="89.20" y1="795.33" x2="254.00" y2="795.33" stroke="#ebebeb" stroke-width="0.55" />
<line x1="89.20" y1="803.68" x2="254.00" y2="803.68" stroke="#ebebeb" stroke-width="0.55" />
<line x1="89.20" y1="812.02" x2="254.00" y2="812.02" stroke="#ebebeb" stroke-width="0.55" />
<line x1="89.20" y1="820.37" x2="254.00" y2="820.37" stroke="#ebebeb" stroke-width="0.55" />
<line x1="89.20" y1="828.71" x2="254.00" y2="828.71" stroke="#ebebeb" stroke-width="0.55" />
<line x1="89.20" y1="837.06" x2="254.00" y2="837.06" stroke="#ebebeb" stroke-width="0.55" />
<line x1="89.20" y1="845.40" x2="254.00" y2="845.40" stroke="#ebebeb" stroke-width="0.55" />
<line x1="89.20" y1="853.75" x2="254.00" y2="853.75" stroke="#ebebeb" stroke-width="0.55" />
<line x1="89.20" y1="862.09" x2="254.00" y2="862.09" stroke="#ebebeb" stroke-width="0.55" />
<rect x="97.10" y="223.70" width="75.20" height="8.95" fill="#f5f6f9" />
<rect x="171.80" y="223.70" width="75.00" height="8.95" fill="#dde1ec" />
<rect x="97.10" y="232.04" width="75.20" height="8.95" fill="#f2f4f8" />
<rect x="171.80" y="232.04" width="75.00" height="8.95" fill="#d6dbe8" />
<rect x="97.10" y="240.39" width="75.20" height="8.95" fill="#f2f4f8" />
<rect x="171.80" y="240.39" width="75.00" height="8.95" fill="#dce0eb" />
<rect x="97.10" y="248.73" width="75.20" height="8.95" fill="#edf0f5" />
<rect x="171.80" y="248.73" width="75.00" height="8.95" fill="#dce0eb" />
<rect x="97.10" y="257.08" width="75.20" height="8.95" fill="#f8f9fb" />
<rect x="171.80" y="257.08" width="75.00" height="8.95" fill="#e4e7ef" />
<rect x="97.10" y="265.43" width="75.20" height="8.95" fill="#fbfcfd" />
<rect x="171.80" y="265.43" width="75.00" height="8.95" fill="#e9ecf3" />
<rect x="97.10" y="273.77" width="75.20" height="8.95" fill="#fdfdfe" />
<rect x="171.80" y="273.77" width="75.00" height="8.95" fill="#e5e8f0" />
<rect x="97.10" y="282.12" width="75.20" height="8.95" fill="#fdfdfe" />
<rect x="171.80" y="282.12" width="75.00" height="8.95" fill="#e5e8f0" />
<rect x="97.10" y="290.46" width="75.20" height="8.95" fill="#fffefd" />
<rect x="171.80" y="290.46" width="75.00" height="8.95" fill="#dee2ec" />
<rect x="97.10" y="298.81" width="75.20" height="8.95" fill="#fffefe" />
<rect x="171.80" y="298.81" width="75.00" height="8.95" fill="#dee2ec" />
<rect x="97.10" y="307.15" width="75.20" height="8.95" fill="#fffffe" />
<rect x="171.80" y="307.15" width="75.00" height="8.95" fill="#dee2ec" />
<rect x="97.10" y="315.50" width="75.20" height="8.95" fill="#fffffe" />
<rect x="171.80" y="315.50" width="75.00" height="8.95" fill="#dee2ec" />
<rect x="97.10" y="323.84" width="75.20" height="8.95" fill="#ffffff" />
<rect x="171.80" y="323.84" width="75.00" height="8.95" fill="#dce0eb" />
<rect x="97.10" y="332.19" width="75.20" height="8.95" fill="#fbfcfd" />
<rect x="171.80" y="332.19" width="75.00" height="8.95" fill="#d8dde9" />
<rect x="97.10" y="340.53" width="75.20" height="8.95" fill="#f3f5f8" />
<rect x="171.80" y="340.53" width="75.00" height="8.95" fill="#ccd3e2" />
<rect x="97.10" y="348.88" width="75.20" height="8.95" fill="#f3f5f8" />
<rect x="171.80" y="348.88" width="75.00" height="8.95" fill="#c8cfe0" />
<rect x="97.10" y="357.22" width="75.20" height="8.95" fill="#fafbfc" />
<rect x="171.80" y="357.22" width="75.00" height="8.95" fill="#c8cfe0" />
<rect x="97.10" y="365.56" width="75.20" height="8.95" fill="#e5e8f0" />
<rect x="171.80" y="365.56" width="75.00" height="8.95" fill="#dce0eb" />
<rect x="97.10" y="373.91" width="75.20" height="8.95" fill="#dfe3ed" />
<rect x="171.80" y="373.91" width="75.00" height="8.95" fill="#eef0f6" />
<rect x="97.10" y="382.25" width="75.20" height="8.95" fill="#f3f5f8" />
<rect x="171.80" y="382.25" width="75.00" height="8.95" fill="#f8f9fb" />
<rect x="97.10" y="390.60" width="75.20" height="8.95" fill="#f2f4f8" />
<rect x="171.80" y="390.60" width="75.00" height="8.95" fill="#f6f7fa" />
<rect x="97.10" y="398.94" width="75.20" height="8.95" fill="#edf0f5" />
<rect x="171.80" y="398.94" width="75.00" height="8.95" fill="#f4f6f9" />
<rect x="97.10" y="407.29" width="75.20" height="8.95" fill="#f7d4cc" />
<rect x="171.80" y="407.29" width="75.00" height="8.95" fill="#f3f5f8" />
<rect x="97.10" y="415.63" width="75.20" height="8.95" fill="#f8dbd4" />
<rect x="171.80" y="415.63" width="75.00" height="8.95" fill="#f5f6f9" />
<rect x="97.10" y="423.98" width="75.20" height="8.95" fill="#f9e3dd" />
<rect x="171.80" y="423.98" width="75.00" height="8.95" fill="#ebeef4" />
<rect x="97.10" y="432.33" width="75.20" height="8.95" fill="#fae7e3" />
<rect x="171.80" y="432.33" width="75.00" height="8.95" fill="#f0f2f7" />
<rect x="97.10" y="440.67" width="75.20" height="8.95" fill="#f4c6bb" />
<rect x="171.80" y="440.67" width="75.00" height="8.95" fill="#fbfcfd" />
<rect x="97.10" y="449.01" width="75.20" height="8.95" fill="#f2bfb2" />
<rect x="171.80" y="449.01" width="75.00" height="8.95" fill="#f3f5f8" />
<rect x="97.10" y="457.36" width="75.20" height="8.95" fill="#fef7f6" />
<rect x="171.80" y="457.36" width="75.00" height="8.95" fill="#fbece8" />
<rect x="97.10" y="465.71" width="75.20" height="8.95" fill="#ffffff" />
<rect x="171.80" y="465.71" width="75.00" height="8.95" fill="#fbe8e4" />
<rect x="97.10" y="474.05" width="75.20" height="8.95" fill="#fefefe" />
<rect x="171.80" y="474.05" width="75.00" height="8.95" fill="#f8ddd6" />
<rect x="97.10" y="482.39" width="75.20" height="8.95" fill="#ffffff" />
<rect x="171.80" y="482.39" width="75.00" height="8.95" fill="#f8ddd6" />
<rect x="97.10" y="490.74" width="75.20" height="8.95" fill="#fef9f8" />
<rect x="171.80" y="490.74" width="75.00" height="8.95" fill="#f9ded7" />
<rect x="97.10" y="499.09" width="75.20" height="8.95" fill="#fceeeb" />
<rect x="171.80" y="499.09" width="75.00" height="8.95" fill="#fefbfa" />
<rect x="97.10" y="507.43" width="75.20" height="8.95" fill="#fbeae6" />
<rect x="171.80" y="507.43" width="75.00" height="8.95" fill="#fefaf9" />
<rect x="97.10" y="515.78" width="75.20" height="8.95" fill="#fae6e1" />
<rect x="171.80" y="515.78" width="75.00" height="8.95" fill="#fefbfa" />
<rect x="97.10" y="524.12" width="75.20" height="8.95" fill="#f9e1db" />
<rect x="171.80" y="524.12" width="75.00" height="8.95" fill="#fdf6f4" />
<rect x="97.10" y="532.47" width="75.20" height="8.95" fill="#f8ddd6" />
<rect x="171.80" y="532.47" width="75.00" height="8.95" fill="#fcf2ef" />
<rect x="97.10" y="540.81" width="75.20" height="8.95" fill="#fdf3f0" />
<rect x="171.80" y="540.81" width="75.00" height="8.95" fill="#fdf6f4" />
<rect x="97.10" y="549.15" width="75.20" height="8.95" fill="#fdf4f1" />
<rect x="171.80" y="549.15" width="75.00" height="8.95" fill="#fdf4f1" />
<rect x="97.10" y="557.50" width="75.20" height="8.95" fill="#fcefec" />
<rect x="171.80" y="557.50" width="75.00" height="8.95" fill="#fcf0ed" />
<rect x="97.10" y="565.85" width="75.20" height="8.95" fill="#fcefec" />
<rect x="171.80" y="565.85" width="75.00" height="8.95" fill="#fcf0ed" />
<rect x="97.10" y="574.19" width="75.20" height="8.95" fill="#fdf3f0" />
<rect x="171.80" y="574.19" width="75.00" height="8.95" fill="#fcf0ed" />
<rect x="97.10" y="582.54" width="75.20" height="8.95" fill="#fdf4f1" />
<rect x="171.80" y="582.54" width="75.00" height="8.95" fill="#fbede9" />
<rect x="97.10" y="590.88" width="75.20" height="8.95" fill="#fae6e1" />
<rect x="171.80" y="590.88" width="75.00" height="8.95" fill="#ffffff" />
<rect x="97.10" y="599.23" width="75.20" height="8.95" fill="#fae5df" />
<rect x="171.80" y="599.23" width="75.00" height="8.95" fill="#fdfdfe" />
<rect x="97.10" y="607.57" width="75.20" height="8.95" fill="#fdf3f0" />
<rect x="171.80" y="607.57" width="75.00" height="8.95" fill="#f8f9fb" />
<rect x="97.10" y="615.91" width="75.20" height="8.95" fill="#fdf3f0" />
<rect x="171.80" y="615.91" width="75.00" height="8.95" fill="#ffffff" />
<rect x="97.10" y="624.26" width="75.20" height="8.95" fill="#fcf2ef" />
<rect x="171.80" y="624.26" width="75.00" height="8.95" fill="#ffffff" />
<rect x="97.10" y="632.61" width="75.20" height="8.95" fill="#fcf2ef" />
<rect x="171.80" y="632.61" width="75.00" height="8.95" fill="#fefcfc" />
<rect x="97.10" y="640.95" width="75.20" height="8.95" fill="#fef8f7" />
<rect x="171.80" y="640.95" width="75.00" height="8.95" fill="#fcfcfd" />
<rect x="97.10" y="649.30" width="75.20" height="8.95" fill="#fef7f6" />
<rect x="171.80" y="649.30" width="75.00" height="8.95" fill="#fcfcfd" />
<rect x="97.10" y="657.64" width="75.20" height="8.95" fill="#fef7f6" />
<rect x="171.80" y="657.64" width="75.00" height="8.95" fill="#fefefe" />
<rect x="97.10" y="665.99" width="75.20" height="8.95" fill="#fef9f8" />
<rect x="171.80" y="665.99" width="75.00" height="8.95" fill="#f7f8fb" />
<rect x="97.10" y="674.33" width="75.20" height="8.95" fill="#fffefe" />
<rect x="171.80" y="674.33" width="75.00" height="8.95" fill="#f8f9fb" />
<rect x="97.10" y="682.67" width="75.20" height="8.95" fill="#ffffff" />
<rect x="171.80" y="682.67" width="75.00" height="8.95" fill="#f3f5f8" />
<rect x="97.10" y="691.02" width="75.20" height="8.95" fill="#fffefe" />
<rect x="171.80" y="691.02" width="75.00" height="8.95" fill="#fafbfc" />
<rect x="97.10" y="699.37" width="75.20" height="8.95" fill="#ffffff" />
<rect x="171.80" y="699.37" width="75.00" height="8.95" fill="#fdfdfe" />
<rect x="97.10" y="707.71" width="75.20" height="8.95" fill="#fefefe" />
<rect x="171.80" y="707.71" width="75.00" height="8.95" fill="#fcfcfd" />
<rect x="97.10" y="716.06" width="75.20" height="8.95" fill="#fbfcfd" />
<rect x="171.80" y="716.06" width="75.00" height="8.95" fill="#fefefe" />
<rect x="97.10" y="724.40" width="75.20" height="8.95" fill="#f9fafc" />
<rect x="171.80" y="724.40" width="75.00" height="8.95" fill="#ffffff" />
<rect x="97.10" y="732.75" width="75.20" height="8.95" fill="#ffffff" />
<rect x="171.80" y="732.75" width="75.00" height="8.95" fill="#fefbfa" />
<rect x="97.10" y="741.09" width="75.20" height="8.95" fill="#ffffff" />
<rect x="171.80" y="741.09" width="75.00" height="8.95" fill="#fefbfa" />
<rect x="97.10" y="749.43" width="75.20" height="8.95" fill="#fefefe" />
<rect x="171.80" y="749.43" width="75.00" height="8.95" fill="#fffdfd" />
<rect x="97.10" y="757.78" width="75.20" height="8.95" fill="#fefcfc" />
<rect x="171.80" y="757.78" width="75.00" height="8.95" fill="#fefcfc" />
<rect x="97.10" y="766.12" width="75.20" height="8.95" fill="#f4f6f9" />
<rect x="171.80" y="766.12" width="75.00" height="8.95" fill="#fbeae6" />
<rect x="97.10" y="774.47" width="75.20" height="8.95" fill="#f6f7fa" />
<rect x="171.80" y="774.47" width="75.00" height="8.95" fill="#fbeae6" />
<rect x="97.10" y="782.82" width="75.20" height="8.95" fill="#e0e4ed" />
<rect x="171.80" y="782.82" width="75.00" height="8.95" fill="#fcf2ef" />
<rect x="97.10" y="791.16" width="75.20" height="8.95" fill="#fef9f8" />
<rect x="171.80" y="791.16" width="75.00" height="8.95" fill="#6276a6" />
<rect x="97.10" y="799.51" width="75.20" height="8.95" fill="#fefbfa" />
<rect x="171.80" y="799.51" width="75.00" height="8.95" fill="#f2bfb2" />
<rect x="97.10" y="807.85" width="75.20" height="8.95" fill="#fffefe" />
<rect x="171.80" y="807.85" width="75.00" height="8.95" fill="#f2bfb2" />
<rect x="97.10" y="816.19" width="75.20" height="8.95" fill="#fcefec" />
<rect x="171.80" y="816.19" width="75.00" height="8.95" fill="#eb9782" />
<rect x="97.10" y="824.54" width="75.20" height="8.95" fill="#fcefec" />
<rect x="171.80" y="824.54" width="75.00" height="8.95" fill="#eb9782" />
<rect x="97.10" y="832.88" width="75.20" height="8.95" fill="#f1b8aa" />
<rect x="171.80" y="832.88" width="75.00" height="8.95" fill="#f4c6bb" />
<rect x="97.10" y="841.23" width="75.20" height="8.95" fill="#f1b8aa" />
<rect x="171.80" y="841.23" width="75.00" height="8.95" fill="#f4c6bb" />
<rect x="97.10" y="849.58" width="75.20" height="8.95" fill="#efaf9f" />
<rect x="171.80" y="849.58" width="75.00" height="8.95" fill="#ea9580" />
<rect x="97.10" y="857.92" width="75.20" height="8.35" fill="#eca08e" />
<rect x="171.80" y="857.92" width="75.00" height="8.35" fill="#e4765a" />
<circle cx="134.45" cy="377.08" r="0.85" fill="#333" />
<circle cx="134.45" cy="418.81" r="0.85" fill="#333" />
<circle cx="134.45" cy="443.84" r="0.85" fill="#333" />
<circle cx="134.45" cy="452.19" r="0.85" fill="#333" />
<circle cx="134.45" cy="535.64" r="0.85" fill="#333" />
<circle cx="134.45" cy="836.06" r="0.85" fill="#333" />
<circle cx="209.30" cy="836.06" r="0.85" fill="#333" />
<circle cx="134.45" cy="844.40" r="0.85" fill="#333" />
<circle cx="209.30" cy="844.40" r="0.85" fill="#333" />
<circle cx="134.45" cy="852.75" r="0.85" fill="#333" />
<circle cx="209.30" cy="852.75" r="0.85" fill="#333" />
<circle cx="134.45" cy="861.09" r="0.85" fill="#333" />
<circle cx="209.30" cy="861.09" r="0.85" fill="#333" />
<rect x="89.2" y="222.1" width="164.8" height="644.6" fill="none" stroke="#b8b8b8" stroke-width="0.8"/>
<line x1="86.60" y1="227.87" x2="89.20" y2="227.87" stroke="#444" stroke-width="0.7" />
<text x="85.6" y="231.8" font-size="8.55" text-anchor="end" fill="#555555" >7d_il10_spneu</text>
<line x1="86.60" y1="236.22" x2="89.20" y2="236.22" stroke="#444" stroke-width="0.7" />
<text x="85.6" y="240.1" font-size="8.55" text-anchor="end" fill="#555555" >24h_il1ra_spneu</text>
<line x1="86.60" y1="244.56" x2="89.20" y2="244.56" stroke="#444" stroke-width="0.7" />
<text x="85.6" y="248.5" font-size="8.55" text-anchor="end" fill="#555555" >7d_il10_ecoli</text>
<line x1="86.60" y1="252.91" x2="89.20" y2="252.91" stroke="#444" stroke-width="0.7" />
<text x="85.6" y="256.8" font-size="8.55" text-anchor="end" fill="#555555" >24h_il10_lps</text>
<line x1="86.60" y1="261.25" x2="89.20" y2="261.25" stroke="#444" stroke-width="0.7" />
<text x="85.6" y="265.2" font-size="8.55" text-anchor="end" fill="#555555" >7d_il17_mtb</text>
<line x1="86.60" y1="269.60" x2="89.20" y2="269.60" stroke="#444" stroke-width="0.7" />
<text x="85.6" y="273.5" font-size="8.55" text-anchor="end" fill="#555555" >24h_il8_imq</text>
<line x1="86.60" y1="277.94" x2="89.20" y2="277.94" stroke="#444" stroke-width="0.7" />
<text x="85.6" y="281.8" font-size="8.55" text-anchor="end" fill="#555555" >7d_il17_pha</text>
<line x1="86.60" y1="286.29" x2="89.20" y2="286.29" stroke="#444" stroke-width="0.7" />
<text x="85.6" y="290.2" font-size="8.55" text-anchor="end" fill="#555555" >24h_il6_imq</text>
<line x1="86.60" y1="294.63" x2="89.20" y2="294.63" stroke="#444" stroke-width="0.7" />
<text x="85.6" y="298.5" font-size="8.55" text-anchor="end" fill="#555555" >24h_mip1a_spneu</text>
<line x1="86.60" y1="302.98" x2="89.20" y2="302.98" stroke="#444" stroke-width="0.7" />
<text x="85.6" y="306.9" font-size="8.55" text-anchor="end" fill="#555555" >24h_il8_hivenv</text>
<line x1="86.60" y1="311.32" x2="89.20" y2="311.32" stroke="#444" stroke-width="0.7" />
<text x="85.6" y="315.2" font-size="8.55" text-anchor="end" fill="#555555" >7d_il10_saureus</text>
<line x1="86.60" y1="319.67" x2="89.20" y2="319.67" stroke="#444" stroke-width="0.7" />
<text x="85.6" y="323.6" font-size="8.55" text-anchor="end" fill="#555555" >24h_mip1a_imq</text>
<line x1="86.60" y1="328.01" x2="89.20" y2="328.01" stroke="#444" stroke-width="0.7" />
<text x="85.6" y="331.9" font-size="8.55" text-anchor="end" fill="#555555" >24h_mcp1_il1a</text>
<line x1="86.60" y1="336.36" x2="89.20" y2="336.36" stroke="#444" stroke-width="0.7" />
<text x="85.6" y="340.3" font-size="8.55" text-anchor="end" fill="#555555" >24h_il8_spneu</text>
<line x1="86.60" y1="344.70" x2="89.20" y2="344.70" stroke="#444" stroke-width="0.7" />
<text x="85.6" y="348.6" font-size="8.55" text-anchor="end" fill="#555555" >24h_mcp1_spneu</text>
<line x1="86.60" y1="353.05" x2="89.20" y2="353.05" stroke="#444" stroke-width="0.7" />
<text x="85.6" y="356.9" font-size="8.55" text-anchor="end" fill="#555555" >24h_il8_il1a</text>
<line x1="86.60" y1="361.39" x2="89.20" y2="361.39" stroke="#444" stroke-width="0.7" />
<text x="85.6" y="365.3" font-size="8.55" text-anchor="end" fill="#555555" >7d_il10_mtb</text>
<line x1="86.60" y1="369.74" x2="89.20" y2="369.74" stroke="#444" stroke-width="0.7" />
<text x="85.6" y="373.6" font-size="8.55" text-anchor="end" fill="#555555" >7d_il10_calbhy</text>
<line x1="86.60" y1="378.08" x2="89.20" y2="378.08" stroke="#444" stroke-width="0.7" />
<text x="85.6" y="382.0" font-size="8.55" text-anchor="end" fill="#555555" >7d_il10_pha</text>
<line x1="86.60" y1="386.43" x2="89.20" y2="386.43" stroke="#444" stroke-width="0.7" />
<text x="85.6" y="390.3" font-size="8.55" text-anchor="end" fill="#555555" >24h_mcp1_polyic</text>
<line x1="86.60" y1="394.77" x2="89.20" y2="394.77" stroke="#444" stroke-width="0.7" />
<text x="85.6" y="398.7" font-size="8.55" text-anchor="end" fill="#555555" >24h_il10_spneu</text>
<line x1="86.60" y1="403.12" x2="89.20" y2="403.12" stroke="#444" stroke-width="0.7" />
<text x="85.6" y="407.0" font-size="8.55" text-anchor="end" fill="#555555" >24h_il1ra_lps</text>
<line x1="86.60" y1="411.46" x2="89.20" y2="411.46" stroke="#444" stroke-width="0.7" />
<text x="85.6" y="415.4" font-size="8.55" text-anchor="end" fill="#555555" >7d_il22_calbhy</text>
<line x1="86.60" y1="419.81" x2="89.20" y2="419.81" stroke="#444" stroke-width="0.7" />
<text x="85.6" y="423.7" font-size="8.55" text-anchor="end" fill="#555555" >24h_il1ra_il1a</text>
<line x1="86.60" y1="428.15" x2="89.20" y2="428.15" stroke="#444" stroke-width="0.7" />
<text x="85.6" y="432.1" font-size="8.55" text-anchor="end" fill="#555555" >7d_il17_saureus</text>
<line x1="86.60" y1="436.50" x2="89.20" y2="436.50" stroke="#444" stroke-width="0.7" />
<text x="85.6" y="440.4" font-size="8.55" text-anchor="end" fill="#555555" >7d_il5_spneu</text>
<line x1="86.60" y1="444.84" x2="89.20" y2="444.84" stroke="#444" stroke-width="0.7" />
<text x="85.6" y="448.7" font-size="8.55" text-anchor="end" fill="#555555" >7d_il22_spneu</text>
<line x1="86.60" y1="453.19" x2="89.20" y2="453.19" stroke="#444" stroke-width="0.7" />
<text x="85.6" y="457.1" font-size="8.55" text-anchor="end" fill="#555555" >7d_il22_mtb</text>
<line x1="86.60" y1="461.53" x2="89.20" y2="461.53" stroke="#444" stroke-width="0.7" />
<text x="85.6" y="465.4" font-size="8.55" text-anchor="end" fill="#555555" >7d_ifny_ecoli</text>
<line x1="86.60" y1="469.88" x2="89.20" y2="469.88" stroke="#444" stroke-width="0.7" />
<text x="85.6" y="473.8" font-size="8.55" text-anchor="end" fill="#555555" >7d_il17_calbcon</text>
<line x1="86.60" y1="478.22" x2="89.20" y2="478.22" stroke="#444" stroke-width="0.7" />
<text x="85.6" y="482.1" font-size="8.55" text-anchor="end" fill="#555555" >7d_il5_calbhy</text>
<line x1="86.60" y1="486.57" x2="89.20" y2="486.57" stroke="#444" stroke-width="0.7" />
<text x="85.6" y="490.5" font-size="8.55" text-anchor="end" fill="#555555" >24h_il6_hivenv</text>
<line x1="86.60" y1="494.91" x2="89.20" y2="494.91" stroke="#444" stroke-width="0.7" />
<text x="85.6" y="498.8" font-size="8.55" text-anchor="end" fill="#555555" >24h_il1b_hivenv</text>
<line x1="86.60" y1="503.26" x2="89.20" y2="503.26" stroke="#444" stroke-width="0.7" />
<text x="85.6" y="507.2" font-size="8.55" text-anchor="end" fill="#555555" >7d_ifny_mtb</text>
<line x1="86.60" y1="511.60" x2="89.20" y2="511.60" stroke="#444" stroke-width="0.7" />
<text x="85.6" y="515.5" font-size="8.55" text-anchor="end" fill="#555555" >7d_il22_ecoli</text>
<line x1="86.60" y1="519.95" x2="89.20" y2="519.95" stroke="#444" stroke-width="0.7" />
<text x="85.6" y="523.8" font-size="8.55" text-anchor="end" fill="#555555" >7d_il22_calbcon</text>
<line x1="86.60" y1="528.29" x2="89.20" y2="528.29" stroke="#444" stroke-width="0.7" />
<text x="85.6" y="532.2" font-size="8.55" text-anchor="end" fill="#555555" >7d_ifny_calbcon</text>
<line x1="86.60" y1="536.64" x2="89.20" y2="536.64" stroke="#444" stroke-width="0.7" />
<text x="85.6" y="540.5" font-size="8.55" text-anchor="end" fill="#555555" >7d_il22_saureus</text>
<line x1="86.60" y1="544.98" x2="89.20" y2="544.98" stroke="#444" stroke-width="0.7" />
<text x="85.6" y="548.9" font-size="8.55" text-anchor="end" fill="#555555" >24h_tnf_spneu</text>
<line x1="86.60" y1="553.33" x2="89.20" y2="553.33" stroke="#444" stroke-width="0.7" />
<text x="85.6" y="557.2" font-size="8.55" text-anchor="end" fill="#555555" >24h_il1b_spneu</text>
<line x1="86.60" y1="561.67" x2="89.20" y2="561.67" stroke="#444" stroke-width="0.7" />
<text x="85.6" y="565.6" font-size="8.55" text-anchor="end" fill="#555555" >24h_tnf_hivenv</text>
<line x1="86.60" y1="570.02" x2="89.20" y2="570.02" stroke="#444" stroke-width="0.7" />
<text x="85.6" y="573.9" font-size="8.55" text-anchor="end" fill="#555555" >24h_il1b_imq</text>
<line x1="86.60" y1="578.36" x2="89.20" y2="578.36" stroke="#444" stroke-width="0.7" />
<text x="85.6" y="582.3" font-size="8.55" text-anchor="end" fill="#555555" >7d_il22_pha</text>
<line x1="86.60" y1="586.71" x2="89.20" y2="586.71" stroke="#444" stroke-width="0.7" />
<text x="85.6" y="590.6" font-size="8.55" text-anchor="end" fill="#555555" >24h_mip1a_polyic</text>
<line x1="86.60" y1="595.05" x2="89.20" y2="595.05" stroke="#444" stroke-width="0.7" />
<text x="85.6" y="599.0" font-size="8.55" text-anchor="end" fill="#555555" >7d_il5_calbcon</text>
<line x1="86.60" y1="603.40" x2="89.20" y2="603.40" stroke="#444" stroke-width="0.7" />
<text x="85.6" y="607.3" font-size="8.55" text-anchor="end" fill="#555555" >24h_il1ra_hivenv</text>
<line x1="86.60" y1="611.74" x2="89.20" y2="611.74" stroke="#444" stroke-width="0.7" />
<text x="85.6" y="615.6" font-size="8.55" text-anchor="end" fill="#555555" >7d_il17_calbhy</text>
<line x1="86.60" y1="620.09" x2="89.20" y2="620.09" stroke="#444" stroke-width="0.7" />
<text x="85.6" y="624.0" font-size="8.55" text-anchor="end" fill="#555555" >7d_il17_spneu</text>
<line x1="86.60" y1="628.43" x2="89.20" y2="628.43" stroke="#444" stroke-width="0.7" />
<text x="85.6" y="632.3" font-size="8.55" text-anchor="end" fill="#555555" >24h_il1b_lps</text>
<line x1="86.60" y1="636.78" x2="89.20" y2="636.78" stroke="#444" stroke-width="0.7" />
<text x="85.6" y="640.7" font-size="8.55" text-anchor="end" fill="#555555" >7d_ifny_spneu</text>
<line x1="86.60" y1="645.12" x2="89.20" y2="645.12" stroke="#444" stroke-width="0.7" />
<text x="85.6" y="649.0" font-size="8.55" text-anchor="end" fill="#555555" >24h_mip1a_lps</text>
<line x1="86.60" y1="653.47" x2="89.20" y2="653.47" stroke="#444" stroke-width="0.7" />
<text x="85.6" y="657.4" font-size="8.55" text-anchor="end" fill="#555555" >24h_il1ra_imq</text>
<line x1="86.60" y1="661.81" x2="89.20" y2="661.81" stroke="#444" stroke-width="0.7" />
<text x="85.6" y="665.7" font-size="8.55" text-anchor="end" fill="#555555" >24h_mcp1_hivenv</text>
<line x1="86.60" y1="670.16" x2="89.20" y2="670.16" stroke="#444" stroke-width="0.7" />
<text x="85.6" y="674.1" font-size="8.55" text-anchor="end" fill="#555555" >24h_il8_lps</text>
<line x1="86.60" y1="678.50" x2="89.20" y2="678.50" stroke="#444" stroke-width="0.7" />
<text x="85.6" y="682.4" font-size="8.55" text-anchor="end" fill="#555555" >24h_il6_cmv</text>
<line x1="86.60" y1="686.85" x2="89.20" y2="686.85" stroke="#444" stroke-width="0.7" />
<text x="85.6" y="690.7" font-size="8.55" text-anchor="end" fill="#555555" >24h_mip1a_il1a</text>
<line x1="86.60" y1="695.19" x2="89.20" y2="695.19" stroke="#444" stroke-width="0.7" />
<text x="85.6" y="699.1" font-size="8.55" text-anchor="end" fill="#555555" >24h_mcp1_lps</text>
<line x1="86.60" y1="703.54" x2="89.20" y2="703.54" stroke="#444" stroke-width="0.7" />
<text x="85.6" y="707.4" font-size="8.55" text-anchor="end" fill="#555555" >24h_il6_spneu</text>
<line x1="86.60" y1="711.88" x2="89.20" y2="711.88" stroke="#444" stroke-width="0.7" />
<text x="85.6" y="715.8" font-size="8.55" text-anchor="end" fill="#555555" >24h_il1ra_polyic</text>
<line x1="86.60" y1="720.23" x2="89.20" y2="720.23" stroke="#444" stroke-width="0.7" />
<text x="85.6" y="724.1" font-size="8.55" text-anchor="end" fill="#555555" >7d_ifny_calbhy</text>
<line x1="86.60" y1="728.57" x2="89.20" y2="728.57" stroke="#444" stroke-width="0.7" />
<text x="85.6" y="732.5" font-size="8.55" text-anchor="end" fill="#555555" >24h_il6_lps</text>
<line x1="86.60" y1="736.92" x2="89.20" y2="736.92" stroke="#444" stroke-width="0.7" />
<text x="85.6" y="740.8" font-size="8.55" text-anchor="end" fill="#555555" >7d_il10_calbcon</text>
<line x1="86.60" y1="745.26" x2="89.20" y2="745.26" stroke="#444" stroke-width="0.7" />
<text x="85.6" y="749.2" font-size="8.55" text-anchor="end" fill="#555555" >24h_mip1a_hivenv</text>
<line x1="86.60" y1="753.61" x2="89.20" y2="753.61" stroke="#444" stroke-width="0.7" />
<text x="85.6" y="757.5" font-size="8.55" text-anchor="end" fill="#555555" >7d_il5_pha</text>
<line x1="86.60" y1="761.95" x2="89.20" y2="761.95" stroke="#444" stroke-width="0.7" />
<text x="85.6" y="765.9" font-size="8.55" text-anchor="end" fill="#555555" >24h_mcp1_imq</text>
<line x1="86.60" y1="770.30" x2="89.20" y2="770.30" stroke="#444" stroke-width="0.7" />
<text x="85.6" y="774.2" font-size="8.55" text-anchor="end" fill="#555555" >7d_il5_mtb</text>
<line x1="86.60" y1="778.64" x2="89.20" y2="778.64" stroke="#444" stroke-width="0.7" />
<text x="85.6" y="782.5" font-size="8.55" text-anchor="end" fill="#555555" >24h_tnf_lps</text>
<line x1="86.60" y1="786.99" x2="89.20" y2="786.99" stroke="#444" stroke-width="0.7" />
<text x="85.6" y="790.9" font-size="8.55" text-anchor="end" fill="#555555" >24h_il6_il1a</text>
<line x1="86.60" y1="795.33" x2="89.20" y2="795.33" stroke="#444" stroke-width="0.7" />
<text x="85.6" y="799.2" font-size="8.55" text-anchor="end" fill="#555555" >24h_tnf_cmv</text>
<line x1="86.60" y1="803.68" x2="89.20" y2="803.68" stroke="#444" stroke-width="0.7" />
<text x="85.6" y="807.6" font-size="8.55" text-anchor="end" fill="#555555" >7d_il17_ecoli</text>
<line x1="86.60" y1="812.02" x2="89.20" y2="812.02" stroke="#444" stroke-width="0.7" />
<text x="85.6" y="815.9" font-size="8.55" text-anchor="end" fill="#555555" >7d_ifny_saureus</text>
<line x1="86.60" y1="820.37" x2="89.20" y2="820.37" stroke="#444" stroke-width="0.7" />
<text x="85.6" y="824.3" font-size="8.55" text-anchor="end" fill="#555555" >7d_ifny_pha</text>
<line x1="86.60" y1="828.71" x2="89.20" y2="828.71" stroke="#444" stroke-width="0.7" />
<text x="85.6" y="832.6" font-size="8.55" text-anchor="end" fill="#555555" >24h_mip1a_cmv</text>
<line x1="86.60" y1="837.06" x2="89.20" y2="837.06" stroke="#444" stroke-width="0.7" />
<text x="85.6" y="841.0" font-size="8.55" text-anchor="end" fill="#555555" >24h_il8_cmv</text>
<line x1="86.60" y1="845.40" x2="89.20" y2="845.40" stroke="#444" stroke-width="0.7" />
<text x="85.6" y="849.3" font-size="8.55" text-anchor="end" fill="#555555" >24h_il1ra_cmv</text>
<line x1="86.60" y1="853.75" x2="89.20" y2="853.75" stroke="#444" stroke-width="0.7" />
<text x="85.6" y="857.6" font-size="8.55" text-anchor="end" fill="#555555" >24h_mcp1_cmv</text>
<line x1="86.60" y1="862.09" x2="89.20" y2="862.09" stroke="#444" stroke-width="0.7" />
<text x="85.6" y="866.0" font-size="8.55" text-anchor="end" fill="#555555" >24h_il1b_cmv</text>
<line x1="134.45" y1="866.70" x2="134.45" y2="869.20" stroke="#444" stroke-width="0.7" />
<text x="134.4" y="877.6" font-size="8.5" text-anchor="middle" fill="#4d4d4d" >discovery</text>
<line x1="209.30" y1="866.70" x2="209.30" y2="869.20" stroke="#444" stroke-width="0.7" />
<text x="209.3" y="877.6" font-size="8.5" text-anchor="middle" fill="#4d4d4d" >validation</text>
<text x="171.4" y="888.2" font-size="10.9" text-anchor="middle" fill="#111" >cohort</text>
<text x="9.4" y="545.4" font-size="10.5" text-anchor="middle" fill="#111" transform="rotate(-90 9.4 545.4)">cyto</text>
<text x="265.3" y="517.8" font-size="10.6" text-anchor="start" fill="#111" >effectSize</text>
<defs><linearGradient id="cg" x1="0" y1="0" x2="0" y2="1"><stop offset="0.00" stop-color="#da421c"/><stop offset="0.05" stop-color="#de5533"/><stop offset="0.10" stop-color="#e16849"/><stop offset="0.15" stop-color="#e57b60"/><stop offset="0.20" stop-color="#e98e77"/><stop offset="0.25" stop-color="#eca08e"/><stop offset="0.30" stop-color="#f0b3a4"/><stop offset="0.35" stop-color="#f4c6bb"/><stop offset="0.40" stop-color="#f8d9d2"/><stop offset="0.45" stop-color="#fbece8"/><stop offset="0.50" stop-color="#ffffff"/><stop offset="0.55" stop-color="#ebeef4"/><stop offset="0.60" stop-color="#d8dde9"/><stop offset="0.65" stop-color="#c4ccde"/><stop offset="0.70" stop-color="#b1bbd3"/><stop offset="0.75" stop-color="#9daac8"/><stop offset="0.80" stop-color="#8998bc"/><stop offset="0.85" stop-color="#7687b1"/><stop offset="0.90" stop-color="#6276a6"/><stop offset="0.95" stop-color="#4f659b"/><stop offset="1.00" stop-color="#3b5490"/></linearGradient></defs>
<rect x="265.30" y="523.10" width="11.70" height="57.20" fill="url(#cg)" />
<text x="280.5" y="526.3" font-size="8.6" text-anchor="start" fill="#222" >2</text>
<line x1="265.30" y1="537.65" x2="267.60" y2="537.65" stroke="#fff" stroke-width="0.6" />
<line x1="274.70" y1="537.65" x2="277.00" y2="537.65" stroke="#fff" stroke-width="0.6" />
<text x="280.5" y="540.6" font-size="8.6" text-anchor="start" fill="#222" >1</text>
<line x1="265.30" y1="552.00" x2="267.60" y2="552.00" stroke="#fff" stroke-width="0.6" />
<line x1="274.70" y1="552.00" x2="277.00" y2="552.00" stroke="#fff" stroke-width="0.6" />
<text x="280.5" y="555.0" font-size="8.6" text-anchor="start" fill="#222" >0</text>
<line x1="265.30" y1="566.35" x2="267.60" y2="566.35" stroke="#fff" stroke-width="0.6" />
<line x1="274.70" y1="566.35" x2="277.00" y2="566.35" stroke="#fff" stroke-width="0.6" />
<text x="280.5" y="569.4" font-size="8.6" text-anchor="start" fill="#222" >-1</text>
<text x="280.5" y="583.7" font-size="8.6" text-anchor="start" fill="#222" >-2</text>
<text x="312.6" y="223.4" font-size="17.4" textLength="13.6" lengthAdjust="spacingAndGlyphs">D</text>
<line x1="362.42" y1="233.86" x2="362.42" y2="273.38" stroke="#c29ac6" stroke-width="0.8"/>
<line x1="362.42" y1="321.58" x2="362.42" y2="368.33" stroke="#c29ac6" stroke-width="0.8"/>
<path d="M362.7 279.4h0M364.6 317.6h0M357.2 273.9h0M361.3 332.5h0M359.8 271.1h0M368.7 261.0h0M358.6 267.2h0M358.2 355.3h0M366.3 272.3h0M359.8 308.4h0M358.1 355.3h0M360.0 274.4h0M366.3 293.6h0M367.0 270.6h0M355.9 262.1h0M363.6 270.1h0M364.1 346.3h0M368.9 276.1h0M357.4 274.8h0M362.7 278.8h0M360.4 343.2h0M358.1 255.8h0M368.9 256.6h0M361.5 274.8h0M364.4 266.4h0M357.7 272.1h0M361.6 331.7h0M366.6 334.6h0M358.6 284.0h0M356.3 308.1h0M362.3 281.9h0M363.9 261.7h0M363.6 343.1h0M365.0 282.7h0M359.8 271.1h0M360.2 355.3h0M363.8 261.3h0M358.7 284.0h0M366.5 313.1h0M356.0 332.5h0M362.3 266.8h0M364.8 290.8h0M355.8 339.5h0M366.3 342.0h0M360.7 291.4h0M364.0 265.2h0M366.9 285.4h0M361.4 341.1h0M365.9 321.1h0M366.3 307.6h0M367.8 282.7h0M361.0 276.7h0M360.0 296.7h0M360.7 281.6h0M361.0 293.7h0M356.1 263.6h0M364.3 327.2h0M356.5 257.6h0M364.4 286.4h0M358.0 274.4h0M360.4 355.3h0M363.0 280.9h0M360.1 289.1h0M360.3 264.0h0M359.2 315.0h0M358.5 339.8h0M359.5 331.2h0M364.4 285.4h0M365.1 355.3h0M363.0 320.1h0M357.3 283.4h0M361.1 335.5h0M357.5 346.7h0M363.5 300.9h0M363.5 349.5h0M355.8 349.7h0M368.4 338.5h0M359.9 302.4h0M357.1 355.3h0M364.8 283.9h0M359.5 297.9h0M367.0 259.6h0M363.7 355.3h0M358.0 313.9h0M360.9 301.1h0M368.0 343.9h0M367.0 268.1h0M367.8 355.3h0M356.5 258.0h0M366.1 311.9h0M367.9 302.1h0M362.8 268.4h0M360.9 328.9h0M360.2 271.8h0M362.3 292.4h0M359.9 341.1h0M358.2 350.3h0M366.6 256.5h0M355.6 272.5h0M358.3 343.9h0M368.0 284.4h0M368.2 299.2h0M362.3 355.3h0M363.7 257.4h0M359.3 355.3h0M363.2 306.0h0M367.9 287.4h0M365.2 308.5h0M364.7 327.4h0M358.8 302.4h0M355.8 310.5h0M362.3 261.8h0M363.3 299.3h0M362.8 318.9h0M359.9 279.1h0M358.7 273.0h0M367.8 269.6h0M359.5 295.1h0M362.8 316.2h0M369.1 265.0h0M365.2 285.4h0M358.8 349.7h0M355.7 340.9h0M366.1 269.7h0M369.0 254.2h0M364.1 301.3h0M359.6 274.8h0M358.2 265.1h0M365.2 264.8h0M359.5 333.0h0M368.4 308.4h0M357.6 294.4h0M361.3 297.8h0M366.4 257.7h0M367.3 313.4h0M360.9 269.6h0M359.6 252.7h0M365.4 252.8h0M357.3 303.4h0M364.6 284.5h0M362.5 274.8h0M358.8 293.2h0M361.3 267.8h0M356.4 317.5h0M362.7 331.6h0M365.1 338.3h0M356.2 282.6h0M361.2 310.2h0M360.5 291.7h0M357.6 276.8h0M362.9 295.3h0M361.8 327.2h0M366.9 323.9h0M365.5 272.6h0M360.5 344.7h0M368.5 264.8h0M361.1 355.3h0M361.5 281.4h0M365.2 330.6h0M361.1 355.3h0M369.2 355.3h0M358.2 282.0h0M359.5 296.0h0M363.7 266.3h0M364.7 260.0h0M365.9 274.2h0M365.8 348.9h0M363.2 273.7h0M355.6 317.2h0M362.5 300.9h0M355.6 255.1h0M356.1 303.4h0M362.2 264.0h0M363.1 296.5h0M368.2 322.2h0M366.4 284.1h0M362.2 341.5h0M359.2 317.5h0M364.7 258.3h0M364.8 316.8h0M367.2 269.6h0M368.8 286.4h0M366.8 325.4h0M362.8 304.0h0M358.0 313.8h0M366.8 316.4h0M357.4 261.6h0M364.8 321.5h0M362.3 261.3h0M364.7 355.3h0M358.8 296.9h0M365.9 273.5h0M369.1 332.8h0M362.9 273.3h0M367.8 310.6h0M361.4 261.6h0M368.8 278.0h0M359.2 303.3h0M357.5 304.1h0M360.8 314.4h0M358.6 345.7h0M368.7 286.4h0M366.9 270.8h0M364.6 298.3h0M368.6 341.8h0M364.1 306.9h0M357.3 312.4h0M361.4 289.2h0M361.4 334.1h0M359.0 309.8h0M364.9 289.6h0M358.3 283.3h0M367.9 315.2h0M362.9 355.3h0M368.2 263.4h0M359.4 314.4h0M361.4 263.7h0M367.9 292.4h0M361.5 355.3h0M365.9 319.6h0M359.4 297.6h0M357.4 305.9h0M357.0 341.3h0M359.3 286.4h0M359.4 296.4h0M361.3 355.3h0M361.9 262.5h0M369.0 313.9h0M365.5 258.4h0M363.9 318.0h0M364.9 355.3h0M359.9 355.3h0M368.4 318.8h0M364.9 295.7h0M368.9 301.7h0M368.0 323.9h0M363.4 258.5h0M368.0 296.6h0M364.8 307.8h0M357.9 290.3h0M365.6 276.9h0M361.6 314.7h0M361.2 275.9h0M361.8 293.6h0M358.2 299.2h0M367.3 282.3h0M365.6 355.3h0M365.0 287.8h0M363.4 285.5h0M361.1 321.0h0M364.4 261.0h0M356.3 286.1h0M366.2 290.8h0M356.8 283.9h0M368.2 284.1h0M361.9 355.3h0M360.0 327.6h0M359.1 289.5h0M359.7 272.5h0M357.1 342.4h0M362.1 310.4h0M365.3 262.5h0M360.4 284.3h0M368.8 283.0h0M365.9 277.9h0M363.6 317.2h0M363.1 282.6h0M364.0 340.5h0M361.1 319.7h0M365.1 309.8h0M360.3 281.7h0M364.9 307.2h0M358.5 278.1h0M361.4 355.3h0M363.9 271.6h0M359.7 259.2h0M358.4 310.9h0M361.1 292.4h0M364.0 311.3h0M356.4 263.7h0M366.8 340.5h0M359.1 259.9h0M358.1 304.3h0M363.3 355.3h0M358.7 289.5h0M363.3 276.9h0M355.6 305.0h0M356.1 283.2h0M357.9 299.9h0M363.1 325.4h0M355.9 255.1h0M356.3 292.6h0M360.7 263.0h0M359.4 355.3h0M357.6 355.3h0M362.5 270.7h0M358.6 277.2h0M358.7 258.8h0M359.7 337.6h0M368.9 327.6h0M359.1 355.3h0M360.7 289.3h0M365.2 355.3h0M363.3 316.8h0M359.7 355.3h0M368.7 271.7h0M356.1 330.8h0M360.8 283.0h0M360.2 272.6h0M363.9 272.7h0M366.4 343.0h0M367.3 305.4h0M356.1 348.1h0M368.8 260.0h0M368.5 355.3h0M360.2 321.0h0M362.0 291.6h0M368.5 344.8h0M356.4 341.7h0M361.7 314.9h0M365.7 286.9h0M359.0 262.2h0M364.9 256.6h0M366.2 307.4h0M367.1 274.0h0M359.0 319.9h0M362.4 254.7h0M357.1 286.8h0M361.0 274.1h0M366.3 262.3h0M368.2 263.6h0M364.2 305.5h0M361.3 275.1h0M361.4 275.5h0M360.0 248.1h0M366.9 341.7h0M367.9 256.6h0M360.1 292.9h0M367.1 268.4h0M366.2 283.1h0M367.8 317.3h0M358.5 329.4h0M368.1 267.2h0M364.6 265.0h0M365.5 273.6h0M357.5 267.7h0M355.7 312.3h0M365.5 355.3h0M359.2 271.6h0M357.1 355.3h0M366.8 299.3h0" stroke="#a45fa8" stroke-width="2.3" stroke-linecap="round" fill="none" stroke-opacity="0.66"/>
<path d="M356.2 322.8h0M358.5 264.7h0M365.1 271.4h0M356.9 267.5h0M365.2 276.5h0M356.8 355.3h0M362.5 335.2h0M363.8 347.1h0M358.7 286.1h0M363.6 258.2h0M359.6 272.5h0M363.9 353.1h0M359.8 347.5h0M368.1 281.8h0M368.4 338.3h0M358.7 270.2h0M360.4 354.4h0M366.3 323.5h0M359.9 300.6h0M362.1 278.7h0M359.1 280.7h0M362.1 263.1h0M358.6 272.0h0M363.2 298.9h0M359.2 322.4h0M365.0 255.1h0M363.3 296.0h0M361.9 307.2h0M359.5 338.6h0M358.3 261.2h0M363.4 323.3h0M367.7 294.7h0M360.2 316.3h0M355.7 307.0h0M355.9 320.0h0M360.9 334.2h0M357.2 355.3h0M360.5 300.9h0M362.1 352.4h0M368.3 282.5h0M362.3 254.4h0M357.3 321.6h0M357.8 302.6h0M367.5 280.6h0M364.9 257.0h0M356.7 322.6h0M361.5 293.7h0M364.1 254.9h0M365.2 295.4h0M362.3 343.0h0M364.2 340.6h0M368.7 307.9h0M362.4 355.3h0M361.7 303.9h0M357.9 344.1h0M364.0 265.3h0M358.8 329.5h0M367.8 272.9h0M355.6 349.5h0M365.4 275.3h0M368.8 317.0h0M365.4 282.1h0M364.7 314.9h0M356.1 355.3h0M368.6 264.5h0M366.2 332.2h0M365.9 348.8h0M364.1 254.4h0M364.0 308.0h0M364.2 316.6h0M368.5 294.0h0M360.5 287.8h0M357.0 254.4h0M357.2 279.8h0M359.1 270.7h0M363.5 270.2h0M364.3 306.3h0M368.4 307.8h0M357.0 285.3h0M367.6 302.7h0M359.7 355.3h0M362.2 265.1h0M367.4 282.1h0M357.9 355.3h0M359.1 274.1h0M361.8 255.1h0M365.5 311.2h0M365.6 275.0h0M356.9 307.3h0M358.3 335.7h0M368.4 276.2h0M361.8 337.2h0M367.2 313.7h0M365.8 342.1h0M358.0 288.4h0M363.5 262.0h0M356.5 271.3h0M360.6 350.5h0M368.6 261.8h0M365.0 271.8h0M360.8 281.0h0M358.9 273.3h0M360.7 274.5h0M358.4 319.7h0M364.1 282.9h0M359.5 306.3h0M365.0 263.7h0M357.2 279.0h0M356.8 285.4h0M368.3 280.7h0M363.4 305.9h0M368.3 270.0h0M358.2 292.1h0M364.8 355.3h0M365.6 319.8h0M365.3 270.2h0M358.9 279.8h0M358.4 355.3h0M363.2 290.4h0M361.3 293.1h0M357.1 257.3h0M360.6 274.2h0M362.9 254.2h0M359.3 279.5h0M367.9 280.9h0M361.3 268.2h0M366.2 355.3h0M365.2 290.2h0M357.4 355.3h0M357.5 308.6h0M364.4 310.3h0M362.3 293.4h0M357.0 305.8h0M365.1 297.7h0M360.4 310.7h0M361.4 278.8h0M361.3 319.4h0M368.7 355.3h0M356.4 304.5h0M359.8 298.0h0M362.1 266.8h0M369.1 288.9h0M365.6 277.6h0M358.8 261.5h0M358.8 329.4h0M362.9 317.2h0M360.1 254.2h0M359.0 355.3h0M358.8 298.3h0M364.4 335.6h0M359.8 276.1h0M358.9 280.4h0M361.6 276.1h0M363.2 272.3h0M366.2 305.9h0M368.8 268.8h0M361.6 297.5h0M363.7 273.8h0M369.1 306.9h0M365.6 315.8h0M367.7 355.3h0M368.2 316.7h0M361.7 269.1h0M361.6 301.2h0M356.5 354.0h0M365.4 351.1h0M359.4 258.9h0M356.8 330.2h0M361.1 255.7h0M358.5 355.3h0M368.7 335.8h0M368.1 275.3h0M356.7 282.6h0M363.6 307.7h0M367.4 269.6h0M360.1 319.8h0M364.5 266.8h0M357.1 340.4h0M357.3 305.4h0M367.1 291.0h0M359.9 257.4h0M365.6 278.0h0M362.1 307.8h0M359.2 274.9h0M369.2 263.3h0M368.6 274.8h0M367.3 283.4h0M358.3 322.5h0M363.9 340.9h0M366.6 287.5h0M355.8 283.0h0M359.1 260.9h0M367.2 276.4h0M362.0 299.3h0M366.9 305.6h0M358.5 262.3h0M368.2 274.2h0M361.0 318.1h0M362.2 267.8h0M368.2 291.5h0M363.8 355.3h0M356.0 300.9h0M367.5 294.1h0M366.8 273.6h0M360.5 320.5h0M355.7 266.6h0M368.7 288.8h0M356.7 346.6h0M359.9 324.7h0M358.0 315.6h0M362.8 301.3h0M360.1 317.9h0M356.3 315.1h0M363.7 318.9h0M363.2 261.2h0M363.0 254.2h0M356.6 309.7h0M363.5 355.3h0M360.7 355.3h0M359.2 255.8h0M357.6 260.6h0M356.6 259.2h0M355.9 331.0h0M366.7 316.0h0M355.6 261.8h0M368.2 268.1h0M364.8 355.3h0M360.6 322.1h0M359.9 263.0h0M357.1 271.9h0M366.1 355.3h0M357.1 275.5h0M366.5 289.8h0M364.1 238.9h0M359.3 279.5h0M365.6 317.9h0M357.2 316.3h0M368.1 297.8h0M362.2 256.6h0M357.6 310.9h0M361.3 297.4h0M363.3 289.7h0M363.2 273.2h0M366.5 291.5h0M366.0 346.2h0M361.1 274.9h0M360.4 295.1h0M369.0 304.3h0M356.1 367.4h0M362.2 262.1h0M357.0 272.1h0M361.3 276.3h0M365.7 298.6h0M360.1 338.6h0M355.6 293.3h0M360.4 276.5h0M361.3 280.1h0M358.3 290.3h0M361.7 355.3h0M368.9 304.1h0M364.0 260.4h0M363.5 301.0h0M360.3 318.3h0M368.2 269.4h0M366.3 355.3h0M368.4 273.2h0M363.3 285.3h0M363.9 327.4h0M357.8 311.8h0M362.3 267.4h0M359.9 263.4h0M361.5 349.2h0M362.1 335.6h0M363.5 355.3h0M367.0 347.6h0M358.4 325.7h0M362.7 265.4h0M366.8 279.5h0M362.9 355.3h0M363.5 280.6h0M361.2 336.4h0M355.9 313.8h0M368.8 308.8h0M368.7 280.7h0M359.2 341.8h0M356.6 355.3h0M358.6 355.3h0M356.1 266.3h0M364.6 254.9h0M363.7 260.8h0M355.9 321.0h0M355.8 331.9h0M367.2 273.4h0M368.3 355.3h0M363.6 291.2h0M365.5 355.3h0M357.6 303.8h0M366.5 258.1h0M365.7 281.7h0M366.1 297.2h0M359.8 311.4h0M367.7 261.4h0M363.8 315.6h0M356.5 278.5h0M357.3 310.1h0M363.5 270.9h0M364.2 303.4h0M357.4 263.0h0M357.4 281.5h0M359.2 277.4h0M365.3 272.2h0M363.1 339.7h0M359.7 261.7h0M364.7 270.0h0M364.5 266.6h0M359.1 290.9h0M367.7 348.3h0M355.9 303.2h0M361.9 278.6h0M368.9 288.7h0M356.6 299.8h0M364.0 325.3h0M362.2 324.4h0M357.9 263.6h0M366.3 318.2h0M355.7 355.3h0M364.2 276.6h0M368.1 292.2h0M363.3 270.7h0M358.3 295.3h0M360.2 249.9h0M360.8 355.3h0M357.4 293.6h0M359.5 289.1h0M362.1 289.9h0M362.5 262.4h0M362.1 266.0h0M363.7 284.7h0M360.6 266.1h0M359.5 322.8h0M362.3 320.4h0M363.6 265.7h0M368.7 255.1h0M358.3 318.5h0M363.4 294.2h0M362.8 307.6h0M358.4 326.2h0M364.5 299.5h0M368.4 276.5h0M361.7 276.5h0M368.0 294.0h0" stroke="#a45fa8" stroke-width="2.3" stroke-linecap="round" fill="none" stroke-opacity="0.66"/>
<path d="M368.1 305.2h0M357.9 274.9h0M363.3 282.0h0M357.2 355.3h0M360.6 312.3h0M360.4 291.2h0M360.6 291.9h0M368.5 271.9h0M357.6 355.3h0M369.2 270.8h0M363.4 306.2h0M367.1 278.2h0M369.3 254.9h0M360.0 268.0h0M360.7 321.6h0M363.5 329.2h0M362.1 320.7h0M368.7 255.5h0M363.7 346.9h0M366.0 280.7h0M361.0 338.7h0M365.1 255.0h0M358.8 303.5h0M369.1 257.2h0M362.9 332.7h0M355.6 340.8h0M368.1 301.2h0M360.1 278.2h0M356.7 355.3h0M358.2 262.9h0M361.5 307.0h0M368.6 333.0h0M368.4 305.8h0M369.0 355.3h0M366.2 355.3h0M367.8 315.8h0M368.0 343.1h0M359.3 301.8h0M363.1 295.2h0M362.0 258.1h0M367.5 355.3h0M359.4 325.7h0M364.3 306.1h0M362.1 282.1h0M366.7 274.4h0M368.5 258.5h0M360.0 259.7h0M356.1 257.5h0M363.4 265.6h0M362.5 302.0h0M357.4 269.2h0M363.4 318.4h0M368.6 320.0h0M357.2 301.9h0M357.6 262.8h0M364.0 295.0h0M360.2 355.3h0M355.9 266.5h0M364.0 317.3h0M360.2 292.7h0M355.9 291.0h0M362.1 258.2h0M357.3 255.0h0M366.8 274.4h0M355.8 258.9h0M359.6 274.6h0M362.1 272.8h0M364.5 255.8h0M367.8 355.3h0M362.2 318.0h0M366.2 305.1h0M362.1 283.8h0M360.0 285.5h0M359.9 333.2h0M358.5 243.7h0M365.9 309.9h0M361.5 275.2h0M361.3 279.9h0M368.9 355.3h0M361.5 269.0h0M364.2 244.6h0M355.6 268.5h0M362.0 320.9h0M369.2 234.4h0M357.6 308.1h0M368.9 355.3h0M366.8 302.8h0M367.1 301.8h0M358.6 281.9h0M357.9 355.3h0M360.1 295.3h0M361.5 309.1h0M366.4 252.3h0M357.8 308.7h0M357.8 332.5h0M356.2 284.0h0M362.7 301.1h0M367.1 254.6h0M361.9 355.3h0M364.0 299.9h0M365.2 294.8h0M364.1 313.5h0M357.6 299.2h0M363.5 308.1h0M363.0 262.2h0M365.4 342.5h0M357.1 307.0h0M365.6 257.0h0M367.1 304.3h0M364.2 264.5h0M355.6 316.0h0M365.0 309.0h0M359.7 355.3h0M365.0 256.8h0M364.4 355.3h0M362.8 286.4h0M356.0 282.2h0M362.3 320.7h0M360.6 272.8h0M360.0 269.6h0M366.3 318.6h0M361.7 334.8h0M359.0 316.8h0M362.1 269.1h0M367.8 346.5h0M357.6 265.3h0M359.5 287.6h0M358.8 285.4h0M368.5 293.2h0M360.6 324.6h0M356.6 260.4h0M365.0 299.1h0M357.3 355.3h0M367.8 296.1h0M364.2 256.4h0M358.9 310.5h0M356.6 325.3h0M368.8 296.3h0M358.4 293.5h0M364.9 355.3h0M362.2 355.3h0M356.7 291.2h0M356.4 283.4h0M361.8 320.4h0M365.4 277.9h0M358.0 291.7h0M359.8 257.7h0M363.7 284.0h0M357.4 285.0h0M365.3 284.2h0M364.1 321.0h0M368.1 256.3h0M357.5 269.6h0M364.6 292.3h0M357.3 354.8h0M361.5 334.2h0M365.8 268.1h0M369.1 307.9h0M366.3 252.7h0M368.7 292.8h0M365.6 344.6h0M363.7 256.7h0M356.2 277.1h0M359.3 299.9h0M362.6 272.7h0M362.6 277.7h0M359.0 309.5h0M369.2 278.1h0M368.5 257.8h0M364.7 255.3h0M356.1 312.2h0M366.7 358.2h0M361.3 349.7h0M356.2 338.6h0M364.5 297.3h0M366.0 286.5h0M366.2 355.3h0M360.8 296.7h0M362.1 284.3h0M357.6 332.0h0M356.3 291.4h0M367.5 298.1h0M360.3 355.3h0M368.5 258.8h0M361.6 300.3h0M363.4 289.3h0M357.7 355.3h0M359.9 305.1h0M363.0 355.3h0M359.6 299.2h0M359.6 258.7h0M364.5 276.2h0M357.5 307.8h0M366.3 307.0h0M358.2 334.3h0M360.2 289.2h0M365.3 269.0h0M361.8 329.8h0M360.8 315.5h0M363.9 315.5h0M364.3 263.8h0M360.1 324.5h0M363.0 355.3h0M359.7 260.8h0M355.9 326.2h0M363.2 260.3h0M357.0 296.6h0M357.7 269.7h0M364.4 298.1h0M366.4 355.3h0M365.5 355.3h0M357.4 301.2h0M366.8 355.3h0M365.8 266.3h0M367.6 355.3h0M359.2 315.2h0M367.9 261.6h0M355.9 303.7h0M364.7 261.6h0M364.4 280.0h0M361.7 278.2h0M368.7 346.2h0M357.4 263.1h0M359.3 258.9h0M359.8 267.8h0M359.3 277.7h0M356.1 274.6h0M368.0 273.6h0M359.2 290.8h0M364.2 337.5h0M363.8 286.3h0M362.7 278.8h0M364.9 341.8h0M360.9 272.3h0M365.9 331.9h0M368.5 279.4h0M356.6 316.2h0M359.9 301.8h0M367.6 299.7h0M363.3 349.0h0M369.3 284.7h0M368.8 290.0h0M363.8 281.5h0M365.9 257.5h0M363.7 311.6h0M359.4 355.3h0M362.7 355.3h0M362.9 268.7h0M362.3 294.4h0M368.1 287.0h0M365.7 352.8h0M358.3 341.0h0M366.3 317.4h0M364.1 288.4h0M368.9 290.1h0M363.7 237.7h0M362.3 275.7h0M365.2 275.1h0M356.0 355.3h0M361.4 355.3h0M356.6 296.1h0M362.5 273.9h0M366.1 275.5h0M357.4 293.0h0M364.2 355.3h0M365.5 261.9h0M363.9 275.6h0M366.2 323.3h0M360.9 290.4h0M357.9 293.5h0M363.6 340.2h0M356.1 257.1h0M360.1 303.3h0M360.7 258.1h0M367.4 278.6h0M364.8 277.8h0M369.2 262.3h0M364.8 320.1h0M361.6 344.4h0M359.0 355.3h0M365.3 316.8h0M364.4 355.3h0M367.4 351.3h0M363.9 259.2h0M363.8 296.1h0M357.6 266.0h0M360.2 355.3h0M367.5 270.8h0M356.4 352.5h0M360.1 258.4h0M356.3 355.3h0M368.5 316.5h0M363.0 254.4h0M368.4 279.9h0M356.1 282.1h0M364.7 290.2h0M360.9 274.9h0M368.7 266.5h0M357.8 275.0h0M363.1 355.3h0M365.9 292.8h0M359.9 347.0h0M368.8 293.2h0M362.3 331.7h0M368.5 330.3h0M365.7 317.5h0M357.0 316.5h0M368.5 296.3h0M356.8 257.6h0M367.0 355.3h0M355.9 296.1h0M364.5 261.5h0M356.7 315.3h0M356.3 258.3h0M366.1 278.6h0M367.3 289.9h0M361.0 329.1h0M357.0 310.8h0M356.7 344.8h0M359.0 337.6h0M363.2 278.1h0M367.1 265.0h0M360.8 355.3h0M360.2 299.8h0M357.4 276.3h0M358.7 267.5h0M368.2 286.4h0M358.5 314.6h0M366.0 344.4h0M360.0 294.9h0M360.5 272.1h0M361.7 336.0h0M365.2 283.8h0M369.2 299.0h0M368.1 286.8h0M367.1 310.0h0M359.3 296.1h0M368.0 280.7h0M362.5 267.5h0M359.1 273.0h0M360.7 276.1h0M362.2 314.0h0M368.2 311.2h0M359.7 322.7h0M367.2 341.0h0M356.9 275.2h0M357.2 295.1h0M366.1 297.8h0M366.1 355.3h0M365.2 255.2h0M360.0 254.7h0" stroke="#a45fa8" stroke-width="2.3" stroke-linecap="round" fill="none" stroke-opacity="0.66"/>
<path d="M364.7 323.9h0M356.4 267.0h0M361.4 283.4h0M359.0 314.4h0M359.3 355.3h0M358.0 355.3h0M358.3 351.7h0M367.9 283.2h0M361.7 316.1h0M366.0 349.6h0M358.3 251.5h0M365.1 325.6h0M362.0 316.0h0M357.5 260.4h0M366.2 355.3h0M359.6 292.8h0M360.8 255.4h0M358.6 265.9h0M357.1 256.7h0M363.3 280.5h0M357.4 331.0h0M361.1 258.6h0M366.3 308.7h0M366.3 341.2h0M366.0 278.6h0M357.1 355.3h0M362.4 287.0h0M362.0 263.7h0M366.9 286.1h0M358.6 286.7h0M363.8 288.7h0M363.8 287.8h0M366.6 281.3h0M358.9 347.0h0M358.0 305.4h0M363.4 259.2h0M362.5 310.4h0M368.7 276.2h0M356.1 278.7h0M356.0 317.8h0M358.6 355.3h0M360.8 348.9h0M364.7 347.0h0M359.1 355.3h0M360.2 290.1h0M364.5 259.3h0M366.9 274.3h0M360.7 296.0h0M361.3 269.9h0M358.4 254.6h0M360.8 307.2h0M362.3 265.9h0M366.5 300.1h0M356.5 260.8h0M362.8 259.2h0M367.0 260.0h0M364.9 262.6h0M362.4 284.6h0M356.5 276.0h0M357.2 265.8h0M360.8 301.6h0M363.6 264.8h0M367.0 337.7h0M366.2 270.1h0M357.9 355.3h0M363.9 274.3h0M368.4 272.0h0M359.2 262.1h0M369.0 355.3h0M359.3 337.2h0M363.6 280.0h0M357.1 261.2h0M365.0 312.2h0M363.0 296.6h0M363.2 315.6h0M358.1 301.0h0M363.4 272.6h0M358.4 296.9h0M359.8 300.2h0M358.8 312.4h0M356.6 258.6h0M368.0 332.8h0M357.7 319.5h0M355.6 287.0h0M366.3 280.5h0M362.8 291.3h0M363.7 300.2h0M367.4 277.7h0M357.8 315.6h0M363.5 270.2h0M365.7 241.7h0M363.2 267.2h0M367.0 343.1h0M361.2 301.9h0M368.6 257.0h0M360.4 283.0h0M356.3 343.3h0M363.5 272.6h0M356.4 322.5h0M363.0 349.0h0M356.6 292.7h0M361.6 349.5h0M367.0 273.6h0M366.0 285.2h0M367.2 283.5h0M361.2 319.6h0M358.0 324.0h0M368.1 318.2h0M358.6 330.4h0M367.1 278.6h0M359.4 355.3h0M367.2 328.8h0M364.1 267.0h0M356.1 282.6h0M358.5 305.1h0M368.2 324.2h0M364.7 328.2h0M360.3 283.9h0M360.2 354.8h0M361.1 283.8h0M365.0 327.5h0M369.3 350.0h0M360.2 279.2h0M356.7 289.8h0M360.3 352.5h0M362.9 263.3h0M368.0 279.1h0M365.5 312.0h0M358.9 296.2h0M362.3 280.6h0M358.7 281.5h0M368.5 295.9h0M356.3 292.1h0M358.7 254.4h0M356.3 342.9h0M356.6 317.6h0M367.5 254.6h0M358.6 336.8h0M358.2 352.8h0M364.4 278.3h0M365.0 312.5h0M361.1 355.3h0M359.7 286.5h0M361.6 257.4h0M359.6 262.4h0M364.0 276.3h0M357.5 310.9h0M365.8 290.6h0M358.7 257.2h0M361.6 263.1h0M363.7 308.5h0M356.9 320.8h0M364.0 311.2h0M367.2 265.3h0M358.1 252.3h0M368.3 262.5h0M356.2 277.2h0M355.7 303.6h0M361.9 355.3h0M368.1 294.8h0M360.8 332.3h0M363.6 291.8h0M362.3 284.9h0M360.9 305.9h0M365.8 317.6h0M360.3 289.1h0M356.2 355.3h0M357.8 292.1h0M368.8 267.0h0M363.1 320.0h0M364.8 273.1h0M366.0 280.0h0M368.1 355.3h0M362.0 355.3h0M357.0 355.3h0M366.5 281.3h0M363.2 254.2h0M367.0 265.7h0M360.4 321.4h0M360.5 296.8h0M363.3 355.3h0M360.5 320.5h0M367.4 270.2h0M365.7 283.2h0M369.3 306.7h0M366.7 319.5h0M357.2 285.8h0M361.2 318.3h0M360.0 266.6h0M365.1 274.7h0M363.3 283.1h0M360.9 267.3h0M369.1 279.2h0M363.0 255.2h0M365.3 259.2h0M357.9 289.8h0M363.5 292.7h0M364.2 349.9h0M362.8 298.2h0M367.0 316.2h0M358.7 355.3h0M357.5 283.8h0M364.5 257.7h0M363.2 355.3h0M365.1 292.8h0M368.6 343.9h0M368.3 281.5h0M364.6 280.3h0M362.4 289.5h0M362.1 317.4h0M355.7 318.8h0M368.2 330.0h0M359.5 296.1h0M361.4 278.6h0M359.4 321.1h0M367.3 255.2h0M355.6 275.1h0M359.3 277.5h0M356.4 305.2h0M363.3 274.2h0M365.0 278.1h0M359.1 285.3h0M365.4 262.6h0M357.8 345.8h0M367.2 262.7h0M365.4 283.9h0M360.3 310.3h0M367.1 259.3h0M364.4 268.3h0M367.8 256.9h0M357.8 305.5h0M356.0 258.2h0M357.3 306.3h0M366.2 283.6h0M365.8 278.7h0M368.9 355.3h0M366.5 283.2h0M356.0 294.4h0M358.9 338.3h0M368.5 269.7h0M358.4 301.0h0M359.7 284.6h0M360.8 297.5h0M362.7 340.5h0M360.2 279.1h0M366.2 314.9h0M366.9 288.7h0M368.7 259.3h0M357.8 285.0h0M365.6 294.0h0M359.7 355.3h0M361.7 318.3h0M359.8 289.2h0M361.9 260.0h0M356.5 353.5h0M364.9 360.1h0M367.4 267.5h0M357.3 283.6h0M359.8 355.3h0M362.6 349.0h0M357.7 340.0h0M368.0 270.3h0M356.0 307.2h0M365.4 274.7h0M362.5 261.5h0M365.5 266.6h0M361.4 322.7h0M359.3 355.3h0M368.7 334.9h0M363.6 283.3h0M364.8 278.2h0M368.2 274.4h0M356.5 268.4h0M362.1 257.4h0M361.4 278.5h0M361.9 270.1h0M368.6 281.4h0M360.9 278.6h0M367.3 235.0h0M363.8 259.5h0M360.6 315.1h0M363.0 272.1h0M359.7 354.9h0M359.1 275.4h0M357.5 261.7h0M357.3 238.9h0M359.6 270.1h0M362.5 300.9h0M358.6 332.3h0M363.5 281.1h0M362.9 293.4h0M365.5 279.8h0M361.8 355.3h0M367.0 308.6h0M359.6 326.1h0M364.7 323.2h0M358.3 346.7h0M363.3 293.3h0M368.0 364.0h0M358.9 270.8h0M356.0 351.9h0M361.9 261.1h0M366.4 282.6h0M364.4 282.7h0M357.0 349.9h0M357.4 291.3h0M357.5 355.3h0M357.9 296.6h0M356.9 296.6h0M358.7 295.9h0M362.4 313.6h0M361.8 316.4h0M363.0 312.7h0M362.7 293.6h0M357.2 355.3h0M360.3 276.8h0M363.9 259.7h0M365.9 277.0h0M366.7 292.0h0M367.0 283.1h0M360.7 353.4h0M365.5 263.0h0M356.8 339.6h0M357.1 326.8h0M357.3 266.2h0M361.5 277.7h0M356.9 332.2h0M357.3 312.2h0M366.8 296.9h0M356.3 276.9h0M363.6 289.0h0M358.7 296.9h0M361.6 261.6h0M364.0 282.6h0M362.6 329.5h0M364.0 278.5h0M357.9 316.1h0M367.6 266.9h0M367.7 294.6h0M362.4 355.3h0M356.2 303.1h0M362.0 258.9h0M357.9 281.0h0M368.1 355.3h0M359.0 312.6h0M356.2 355.3h0M362.7 265.2h0M364.2 281.0h0M358.0 261.4h0M367.4 347.8h0M359.6 309.0h0" stroke="#a45fa8" stroke-width="2.3" stroke-linecap="round" fill="none" stroke-opacity="0.66"/>
<rect x="349.88" y="273.38" width="25.09" height="48.20" fill="none" stroke="#c29ac6" stroke-width="0.8"/>
<line x1="349.88" y1="292.66" x2="374.96" y2="292.66" stroke="#c29ac6" stroke-width="1.2"/>
<line x1="396.78" y1="254.10" x2="396.78" y2="298.44" stroke="#d6cc52" stroke-width="0.8"/>
<line x1="396.78" y1="355.32" x2="396.78" y2="364.00" stroke="#d6cc52" stroke-width="0.8"/>
<path d="M397.8 319.5h0M402.0 345.8h0M395.5 336.4h0M393.5 355.3h0M400.7 310.2h0M393.6 355.3h0M397.4 355.3h0M392.0 355.3h0M402.2 354.6h0M398.4 316.4h0M397.0 321.4h0M395.0 327.2h0M396.3 355.3h0M395.1 355.3h0M398.6 355.3h0M395.8 350.4h0M398.6 353.6h0M399.3 263.7h0M401.9 293.8h0M398.1 355.3h0M397.9 266.5h0M391.1 304.6h0M402.7 354.9h0M390.4 353.9h0M390.0 355.3h0M399.6 291.8h0M398.0 355.3h0M400.9 284.3h0M398.3 283.4h0M397.0 255.0h0M392.8 355.3h0M394.1 267.5h0M399.3 355.3h0M402.6 350.6h0M398.4 274.1h0M398.0 279.8h0M400.0 355.3h0M395.1 355.3h0M396.9 355.3h0M398.9 287.1h0M392.3 328.6h0M399.5 301.3h0M396.1 298.9h0M401.0 278.2h0M400.4 355.3h0M396.7 355.3h0M399.0 355.3h0M403.5 297.2h0M394.2 355.3h0M392.5 292.2h0M396.6 293.5h0M399.6 355.3h0M402.9 355.3h0M398.3 355.3h0M395.5 355.3h0M402.2 349.5h0M394.3 355.3h0M397.0 355.3h0M399.9 342.0h0M395.8 275.8h0M401.1 297.7h0M402.0 350.1h0M402.3 350.8h0M390.3 275.3h0M395.3 297.5h0M396.7 289.1h0M398.9 352.5h0M403.6 255.0h0M402.7 355.3h0M393.2 300.7h0M400.1 281.5h0M391.3 286.3h0M400.6 306.6h0M391.2 342.1h0M401.5 355.3h0M396.5 364.0h0M400.3 355.3h0M397.2 354.3h0M401.8 353.6h0M394.2 355.3h0M391.4 316.0h0M398.2 355.3h0M391.3 355.3h0M392.2 348.7h0M390.0 355.3h0M396.5 355.3h0M396.8 355.3h0M400.9 334.4h0M399.9 261.9h0M401.2 258.6h0M398.3 355.3h0M390.9 355.3h0M393.9 293.4h0M391.8 337.3h0" stroke="#c7bd2c" stroke-width="2.3" stroke-linecap="round" fill="none" stroke-opacity="0.66"/>
<rect x="384.24" y="298.44" width="25.09" height="56.88" fill="none" stroke="#d6cc52" stroke-width="0.8"/>
<line x1="384.24" y1="349.54" x2="409.32" y2="349.54" stroke="#d6cc52" stroke-width="1.2"/>
<line x1="442.20" y1="254.10" x2="442.20" y2="279.16" stroke="#c29ac6" stroke-width="0.8"/>
<line x1="442.20" y1="327.36" x2="442.20" y2="355.32" stroke="#c29ac6" stroke-width="0.8"/>
<path d="M441.8 278.5h0M445.9 352.6h0M442.7 296.1h0M442.0 270.4h0M443.7 288.8h0M442.3 308.8h0M435.4 291.6h0M440.9 352.8h0M439.4 276.9h0M435.7 294.6h0M441.4 296.5h0M445.0 355.3h0M442.3 304.3h0M439.8 286.5h0M436.8 348.1h0M447.9 297.0h0M443.8 330.6h0M439.6 355.3h0M443.7 315.2h0M440.3 355.3h0M444.0 331.8h0M437.1 261.8h0M439.5 258.3h0M441.3 348.4h0M436.6 292.7h0M444.5 296.6h0M441.1 355.3h0M446.2 277.6h0M438.1 283.0h0M435.7 271.5h0M437.6 311.9h0M440.7 342.9h0M444.8 265.8h0M445.2 295.5h0M440.7 298.9h0M437.2 350.2h0M447.2 269.6h0M443.8 271.3h0M442.0 257.7h0M438.5 299.3h0M448.5 300.3h0M448.8 355.3h0M442.3 299.5h0M435.5 269.1h0M447.5 262.1h0M447.4 275.5h0M439.1 255.9h0M437.4 260.8h0M449.0 262.8h0M440.3 328.9h0M444.9 332.8h0M440.9 309.7h0M442.2 355.3h0M448.0 331.9h0M446.1 319.3h0M446.6 316.9h0M444.7 264.1h0M435.4 291.8h0M440.6 262.5h0M448.9 264.7h0M436.1 331.9h0M448.6 307.8h0M442.3 265.3h0M436.0 296.9h0M438.7 355.3h0M438.0 339.7h0M448.1 281.5h0M448.7 355.1h0M443.3 339.8h0M437.0 327.2h0M447.1 292.5h0M439.4 283.0h0M444.2 320.7h0M443.2 260.3h0M443.5 304.2h0M438.4 309.3h0M442.7 255.9h0" stroke="#a45fa8" stroke-width="2.3" stroke-linecap="round" fill="none" stroke-opacity="0.66"/>
<path d="M442.8 329.9h0M438.2 347.3h0M439.6 331.0h0M444.1 288.0h0M435.6 355.3h0M441.6 284.5h0M446.3 301.8h0M448.2 355.3h0M447.0 256.9h0M444.3 334.7h0M436.0 259.4h0M443.0 344.8h0M438.0 282.5h0M444.3 303.1h0M442.2 271.2h0M438.2 263.3h0M447.8 292.4h0M448.5 263.1h0M438.9 355.3h0M445.6 301.5h0M438.3 256.7h0M440.2 289.5h0M447.6 285.2h0M441.9 292.7h0M446.3 326.4h0M446.8 312.8h0M448.0 355.3h0M440.8 281.5h0M438.2 276.9h0M445.9 312.2h0M437.8 313.9h0M437.6 263.9h0M440.6 258.9h0M445.5 287.3h0M437.2 285.8h0M440.1 276.6h0M442.7 257.1h0M443.0 281.1h0M448.1 337.5h0M439.3 321.3h0M446.3 307.5h0M436.7 349.7h0M448.6 344.6h0M437.9 355.3h0M438.8 319.9h0M447.6 280.1h0M440.7 282.2h0M448.7 299.4h0M437.1 276.6h0M439.8 335.3h0M436.2 297.8h0M438.4 279.5h0M444.4 257.6h0M438.1 271.2h0M441.2 321.2h0M445.9 333.3h0M445.0 273.2h0M437.4 258.6h0M436.3 355.3h0M441.0 290.2h0M441.6 348.9h0M442.8 355.3h0M446.3 256.9h0M435.3 350.1h0M436.9 343.5h0M436.3 310.8h0M441.1 294.6h0M447.0 287.8h0M445.5 313.6h0M445.2 329.0h0M447.8 355.3h0M443.0 267.1h0M445.5 314.8h0M446.7 344.2h0M446.5 320.7h0M440.3 277.6h0M445.8 268.1h0" stroke="#a45fa8" stroke-width="2.3" stroke-linecap="round" fill="none" stroke-opacity="0.66"/>
<path d="M440.7 288.4h0M438.1 329.0h0M443.6 322.8h0M437.5 265.8h0M440.4 267.1h0M441.0 322.9h0M435.5 284.2h0M446.0 296.5h0M445.9 287.0h0M443.0 276.5h0M448.1 304.4h0M440.8 330.3h0M444.7 311.5h0M440.0 338.5h0M445.5 334.7h0M443.3 338.2h0M448.7 319.7h0M445.3 261.9h0M442.1 285.7h0M436.8 278.2h0M445.0 255.3h0M439.7 325.0h0M435.6 321.6h0M439.8 320.5h0M442.5 282.1h0M448.5 262.1h0M443.0 256.7h0M444.5 270.1h0M435.5 287.6h0M438.5 331.6h0M446.2 295.4h0M447.0 263.8h0M446.0 276.5h0M441.2 307.3h0M439.4 319.1h0M447.6 299.5h0M448.1 346.4h0M437.6 277.0h0M444.9 353.0h0M440.7 330.2h0M440.3 308.3h0M440.6 307.7h0M437.0 255.9h0M435.8 342.1h0M436.4 332.4h0M436.0 310.6h0M440.1 345.4h0M435.5 254.8h0M436.3 285.2h0M441.4 280.0h0M440.4 295.0h0M444.1 267.4h0M436.0 335.1h0M440.8 287.1h0M444.0 307.0h0M445.2 263.1h0M438.5 333.6h0M435.7 346.9h0M449.0 331.0h0M435.7 329.0h0M444.1 269.3h0M442.8 254.9h0M445.5 316.7h0M444.1 296.4h0M449.0 267.8h0M447.7 256.0h0M443.2 297.2h0M440.5 355.3h0M448.2 310.3h0M441.7 321.4h0M442.9 355.3h0M437.2 288.1h0M448.5 293.6h0M436.7 303.9h0M441.2 317.8h0M439.2 319.0h0M441.2 325.4h0" stroke="#a45fa8" stroke-width="2.3" stroke-linecap="round" fill="none" stroke-opacity="0.66"/>
<path d="M442.0 324.6h0M435.8 313.7h0M439.4 310.5h0M442.8 337.3h0M444.3 347.7h0M446.6 355.3h0M440.5 325.4h0M441.4 331.9h0M443.2 348.9h0M443.1 281.9h0M447.1 355.3h0M440.9 296.4h0M437.2 286.9h0M441.4 290.6h0M440.4 315.1h0M444.0 297.7h0M440.2 325.8h0M438.0 355.3h0M437.2 293.3h0M436.8 264.2h0M437.9 298.6h0M444.1 255.3h0M443.9 317.5h0M444.3 278.8h0M440.9 297.2h0M436.5 326.1h0M442.7 297.5h0M437.8 266.6h0M442.9 308.7h0M444.0 351.9h0M443.4 267.6h0M441.4 322.7h0M439.9 310.0h0M448.7 315.3h0M435.6 280.1h0M443.5 259.2h0M437.2 355.3h0M445.7 300.0h0M438.9 288.1h0M449.0 333.0h0M445.9 276.8h0M438.1 294.7h0M435.5 315.2h0M439.1 329.1h0M446.3 320.7h0M436.4 345.2h0M447.6 320.9h0M449.1 338.5h0M442.3 258.4h0M437.4 280.8h0M441.6 273.2h0M444.5 306.0h0M442.3 342.5h0M440.6 261.7h0M443.5 308.7h0M443.5 347.7h0M448.6 320.1h0M446.1 262.6h0M448.9 328.1h0M448.9 295.5h0M448.4 280.1h0M444.4 316.1h0M435.9 328.7h0M446.4 319.3h0M435.7 355.3h0M448.4 300.8h0M440.7 277.2h0M437.7 254.7h0M441.9 333.8h0M440.2 270.1h0M439.4 296.1h0M443.3 346.2h0M436.1 355.3h0M447.1 256.0h0M436.2 303.5h0M446.6 335.5h0" stroke="#a45fa8" stroke-width="2.3" stroke-linecap="round" fill="none" stroke-opacity="0.66"/>
<rect x="429.61" y="279.16" width="25.18" height="48.20" fill="none" stroke="#c29ac6" stroke-width="0.8"/>
<line x1="429.61" y1="299.41" x2="454.79" y2="299.41" stroke="#c29ac6" stroke-width="1.2"/>
<line x1="476.70" y1="348.09" x2="476.70" y2="351.95" stroke="#d6cc52" stroke-width="0.8"/>
<line x1="476.70" y1="355.32" x2="476.70" y2="355.32" stroke="#d6cc52" stroke-width="0.8"/>
<path d="M483.0 254.1h0M476.0 350.5h0M475.1 355.3h0M483.2 340.9h0M481.5 355.3h0M472.8 352.9h0M477.5 355.3h0M480.2 355.3h0M476.0 355.3h0M471.0 355.3h0M483.6 355.3h0M472.9 355.3h0M482.6 355.3h0M475.3 355.3h0M478.6 355.3h0M474.6 297.5h0M483.2 355.3h0M471.4 355.3h0M472.4 355.3h0M481.8 328.8h0M472.0 355.3h0M473.4 355.3h0M478.0 348.1h0" stroke="#c7bd2c" stroke-width="2.3" stroke-linecap="round" fill="none" stroke-opacity="0.66"/>
<rect x="464.11" y="351.95" width="25.18" height="3.37" fill="none" stroke="#d6cc52" stroke-width="0.8"/>
<line x1="464.11" y1="354.36" x2="489.29" y2="354.36" stroke="#d6cc52" stroke-width="1.2"/>
<rect x="341.80" y="216.60" width="75.60" height="11.70" fill="#fff" stroke="#333" stroke-width="0.9"/>
<text x="379.6" y="224.6" font-size="6.3" text-anchor="middle" fill="#1a1a1a" >Discovery</text>
<line x1="341.80" y1="374.60" x2="417.40" y2="374.60" stroke="#333" stroke-width="0.9" />
<line x1="362.42" y1="374.60" x2="362.42" y2="376.80" stroke="#333" stroke-width="0.8" />
<text transform="translate(362.4 383.2) scale(1 1.12)" x="0" y="0" font-size="6.2" text-anchor="middle" fill="#4d4d4d">CMV+</text>
<line x1="396.78" y1="374.60" x2="396.78" y2="376.80" stroke="#333" stroke-width="0.8" />
<text transform="translate(396.8 383.2) scale(1 1.12)" x="0" y="0" font-size="6.2" text-anchor="middle" fill="#4d4d4d">CMV-</text>
<rect x="421.50" y="216.60" width="75.90" height="11.70" fill="#fff" stroke="#333" stroke-width="0.9"/>
<text x="459.4" y="224.6" font-size="6.3" text-anchor="middle" fill="#1a1a1a" >Validation</text>
<line x1="421.50" y1="374.60" x2="497.40" y2="374.60" stroke="#333" stroke-width="0.9" />
<line x1="442.20" y1="374.60" x2="442.20" y2="376.80" stroke="#333" stroke-width="0.8" />
<text transform="translate(442.2 383.2) scale(1 1.12)" x="0" y="0" font-size="6.2" text-anchor="middle" fill="#4d4d4d">CMV+</text>
<line x1="476.70" y1="374.60" x2="476.70" y2="376.80" stroke="#333" stroke-width="0.8" />
<text transform="translate(476.7 383.2) scale(1 1.12)" x="0" y="0" font-size="6.2" text-anchor="middle" fill="#4d4d4d">CMV-</text>
<path d="M362.42 238.10 V234.90 H396.78 V238.10" fill="none" stroke="#666" stroke-width="0.6"/>
<text x="379.6" y="234.0" font-size="7.0" text-anchor="middle" fill="#1a1a1a" >2.884224e-19</text>
<path d="M442.20 238.10 V234.90 H476.70 V238.10" fill="none" stroke="#666" stroke-width="0.6"/>
<text x="459.4" y="234.0" font-size="7.0" text-anchor="middle" fill="#1a1a1a" >2.584031e-22</text>
<line x1="341.80" y1="228.30" x2="341.80" y2="375.05" stroke="#333" stroke-width="0.9" />
<line x1="339.60" y1="374.60" x2="341.80" y2="374.60" stroke="#333" stroke-width="0.8" />
<text transform="translate(338.8 377.1) scale(1 1.15)" x="0" y="0" font-size="6.3" text-anchor="end" fill="#4d4d4d">1.5</text>
<line x1="339.60" y1="350.50" x2="341.80" y2="350.50" stroke="#333" stroke-width="0.8" />
<text transform="translate(338.8 353.0) scale(1 1.15)" x="0" y="0" font-size="6.3" text-anchor="end" fill="#4d4d4d">2.0</text>
<line x1="339.60" y1="326.40" x2="341.80" y2="326.40" stroke="#333" stroke-width="0.8" />
<text transform="translate(338.8 328.9) scale(1 1.15)" x="0" y="0" font-size="6.3" text-anchor="end" fill="#4d4d4d">2.5</text>
<line x1="339.60" y1="302.30" x2="341.80" y2="302.30" stroke="#333" stroke-width="0.8" />
<text transform="translate(338.8 304.8) scale(1 1.15)" x="0" y="0" font-size="6.3" text-anchor="end" fill="#4d4d4d">3.0</text>
<line x1="339.60" y1="278.20" x2="341.80" y2="278.20" stroke="#333" stroke-width="0.8" />
<text transform="translate(338.8 280.7) scale(1 1.15)" x="0" y="0" font-size="6.3" text-anchor="end" fill="#4d4d4d">3.5</text>
<line x1="339.60" y1="254.10" x2="341.80" y2="254.10" stroke="#333" stroke-width="0.8" />
<text transform="translate(338.8 256.6) scale(1 1.15)" x="0" y="0" font-size="6.3" text-anchor="end" fill="#4d4d4d">4.0</text>
<line x1="339.60" y1="230.00" x2="341.80" y2="230.00" stroke="#333" stroke-width="0.8" />
<text transform="translate(338.8 232.5) scale(1 1.15)" x="0" y="0" font-size="6.3" text-anchor="end" fill="#4d4d4d">4.5</text>
<text x="325.3" y="302.2" font-size="7.8" font-weight="bold" text-anchor="middle" fill="#111" transform="rotate(-90 325.3 302.2)">log10( 24h_il1b_cmv)</text>
<text x="419.6" y="392.4" font-size="7.65" text-anchor="middle" fill="#111" font-weight="bold" >CMV_IgG_Serology</text>
<line x1="548.03" y1="233.61" x2="548.03" y2="270.60" stroke="#c29ac6" stroke-width="0.8"/>
<line x1="548.03" y1="297.93" x2="548.03" y2="338.13" stroke="#c29ac6" stroke-width="0.8"/>
<path d="M552.3 241.7h0M546.8 336.5h0M552.3 294.5h0M554.4 284.9h0M541.7 297.5h0M541.1 316.9h0M551.2 257.4h0M545.5 241.9h0M545.5 272.7h0M546.9 279.3h0M545.7 272.0h0M551.0 295.8h0M553.5 292.1h0M550.1 283.7h0M548.3 256.2h0M544.6 287.4h0M554.6 283.9h0M548.5 326.4h0M548.1 317.6h0M547.6 272.0h0M552.9 311.9h0M552.9 256.7h0M543.2 262.0h0M542.6 276.7h0M544.1 285.1h0M548.7 272.2h0M550.1 327.2h0M546.6 293.7h0M546.7 308.6h0M552.1 292.4h0M545.5 278.4h0M542.7 317.0h0M544.7 291.2h0M543.0 268.4h0M543.1 293.2h0M547.4 257.0h0M550.1 270.0h0M549.0 256.3h0M542.2 277.2h0M554.0 278.3h0M553.7 328.0h0M549.5 263.5h0M550.2 250.8h0M554.5 331.1h0M545.5 273.7h0M552.6 312.1h0M545.4 234.1h0M549.8 264.3h0M548.5 295.4h0M550.4 284.0h0M542.1 311.1h0M549.3 279.1h0M549.3 282.3h0M552.1 274.7h0M543.7 306.2h0M541.5 290.8h0M552.3 260.4h0M544.7 294.7h0M552.0 324.5h0M542.5 292.9h0M554.1 252.6h0M541.4 320.4h0M545.1 272.8h0M549.0 279.9h0M544.8 266.4h0M546.7 275.1h0M543.3 268.3h0M549.6 274.1h0M549.4 273.4h0M549.5 322.8h0M552.5 316.5h0M549.2 296.8h0M548.4 280.2h0M551.9 289.0h0M549.7 264.4h0M544.9 326.8h0M553.5 289.4h0M553.2 285.6h0M543.0 341.6h0M543.4 242.9h0M549.7 323.1h0M545.7 281.8h0M548.9 278.8h0M542.4 324.2h0M545.2 281.3h0M544.5 272.0h0M551.0 257.9h0M554.6 334.7h0M547.2 311.4h0M553.9 329.6h0M549.7 313.6h0M547.9 285.0h0M546.4 280.9h0M552.5 287.3h0M549.2 298.5h0M546.0 259.7h0M542.4 298.5h0M544.2 282.5h0M554.2 303.6h0M548.4 254.9h0M551.0 334.3h0M552.6 272.6h0M544.6 288.8h0M546.9 246.6h0M549.6 268.9h0M550.8 302.7h0M552.5 261.9h0M541.9 276.9h0M554.1 278.9h0M548.2 283.6h0M546.7 294.0h0M550.9 258.9h0M543.3 293.3h0M541.6 273.1h0M547.1 297.1h0M546.0 286.9h0M544.5 306.6h0M544.1 275.5h0M550.0 284.3h0M544.6 257.6h0M551.7 333.6h0M546.4 253.6h0M542.2 260.0h0M547.4 290.5h0M553.5 316.0h0M553.9 253.1h0M550.5 347.5h0M542.3 294.7h0M542.0 273.1h0M552.3 307.3h0M552.7 274.7h0M552.7 264.2h0M551.4 284.6h0M554.6 252.0h0M554.2 286.8h0M552.8 271.8h0M545.2 279.7h0M546.3 287.8h0M547.5 252.6h0M547.3 293.5h0M542.7 252.5h0M544.5 259.4h0M551.1 282.6h0M541.7 285.7h0M545.5 348.2h0M546.8 311.1h0M548.2 278.2h0M549.0 280.4h0M549.3 356.9h0M547.7 243.0h0M551.0 279.4h0M548.8 296.0h0M547.4 299.3h0M548.7 309.0h0M548.1 269.1h0M542.5 288.2h0M541.5 298.4h0M552.7 290.6h0M544.3 272.7h0M542.8 299.7h0M541.9 331.7h0M543.8 324.8h0M553.1 245.4h0M548.2 279.8h0M546.5 292.2h0M552.3 335.7h0M547.7 236.4h0M544.0 251.7h0M552.8 294.9h0M551.7 273.8h0M547.0 301.8h0M553.0 289.0h0M549.9 251.5h0M546.1 285.3h0M550.2 268.9h0M544.5 283.0h0M552.9 288.4h0M548.5 330.5h0M552.9 280.6h0M546.2 277.3h0M542.9 265.3h0M542.5 318.2h0M542.7 277.9h0M543.3 271.8h0M543.1 262.9h0M541.7 252.9h0M541.8 243.2h0M554.0 280.7h0M549.6 280.3h0M545.3 254.1h0M543.0 271.8h0M552.0 303.7h0M546.9 255.3h0M554.6 280.9h0M553.7 289.8h0M550.1 285.7h0M545.5 236.7h0M551.5 291.4h0M543.4 287.5h0M554.2 285.3h0M554.0 288.8h0M550.5 274.5h0M553.6 310.8h0M550.7 271.8h0M541.3 315.3h0M554.8 235.6h0M545.5 269.8h0M547.9 312.7h0M542.4 259.1h0M544.5 312.0h0M545.8 282.3h0M548.7 286.3h0M545.3 275.1h0M543.1 283.2h0M546.2 252.8h0M548.1 266.4h0M547.1 283.2h0M543.3 303.7h0M549.1 292.9h0M548.2 342.0h0M551.7 295.1h0M543.2 303.2h0M549.7 281.7h0M544.9 289.6h0M553.4 265.4h0M549.4 279.2h0M549.4 266.3h0M545.6 330.6h0M550.5 285.0h0M542.3 279.7h0M541.5 278.4h0M543.0 290.7h0M553.0 287.6h0M550.3 302.7h0M553.1 262.5h0M547.1 271.0h0M548.6 280.6h0M549.5 262.5h0M549.1 277.4h0M549.1 318.3h0M554.7 274.1h0M545.4 303.8h0M544.7 275.3h0M546.8 271.2h0M550.1 293.5h0M541.7 259.5h0M547.9 294.3h0M543.7 253.0h0M543.6 273.4h0M553.6 296.9h0M545.5 251.5h0M549.9 245.1h0M546.0 274.9h0M550.9 310.1h0M541.9 314.8h0M552.2 292.3h0M552.7 283.6h0M543.1 316.2h0M544.3 296.9h0M549.8 273.7h0M550.6 252.2h0M547.0 305.2h0M548.9 263.2h0M548.8 260.0h0M547.8 287.4h0M542.0 338.6h0M545.4 288.8h0M545.2 272.6h0M543.8 282.6h0M551.0 281.1h0M543.7 321.4h0M544.2 255.2h0M548.8 263.4h0M550.4 338.9h0M552.7 278.9h0M549.0 264.5h0M554.0 332.9h0M543.4 307.0h0M544.7 323.8h0M550.1 294.9h0M554.7 318.9h0M554.1 296.4h0M546.1 252.0h0M542.5 297.3h0M548.5 288.9h0M551.3 317.0h0M551.1 265.3h0M552.5 274.9h0M543.0 252.9h0M552.3 261.4h0M548.1 327.8h0M551.0 293.7h0M541.8 249.2h0M549.3 279.5h0M551.5 264.3h0M554.2 308.7h0M541.5 282.6h0M546.3 291.1h0M544.2 280.0h0M552.8 273.8h0M549.9 302.9h0M554.1 303.5h0M542.5 283.5h0M552.4 274.2h0M554.5 282.5h0M546.9 264.4h0M550.4 263.5h0M549.3 257.7h0M552.0 285.7h0M542.0 332.5h0M545.9 271.7h0M552.4 265.4h0M542.0 334.5h0M544.9 252.4h0M543.8 265.0h0M542.1 255.2h0M544.5 274.8h0M549.4 261.5h0M545.6 290.7h0M549.7 258.5h0M549.4 305.0h0M554.0 288.3h0M548.6 293.4h0M548.1 257.1h0M546.3 306.7h0M543.5 277.8h0M551.4 252.5h0M543.7 282.9h0M554.4 297.8h0M547.3 279.6h0M551.7 322.0h0M551.2 259.9h0M542.5 274.1h0M550.0 296.2h0M548.6 277.7h0M550.2 276.3h0M553.0 285.0h0M546.1 270.8h0M543.5 306.1h0M544.7 302.8h0M548.8 295.1h0M546.6 251.9h0M553.9 320.7h0M549.0 304.3h0M545.5 288.5h0M547.2 283.5h0M541.4 306.7h0M546.9 274.7h0M550.1 281.2h0M553.4 299.7h0" stroke="#a45fa8" stroke-width="2.3" stroke-linecap="round" fill="none" stroke-opacity="0.66"/>
<path d="M554.4 240.6h0M549.1 261.1h0M542.5 317.9h0M546.0 300.9h0M552.7 318.8h0M550.0 288.8h0M542.0 285.7h0M543.0 286.4h0M553.6 268.5h0M549.2 284.5h0M545.7 310.4h0M551.3 255.6h0M554.5 263.5h0M551.4 253.1h0M552.2 258.2h0M546.6 301.3h0M554.8 329.3h0M552.3 255.4h0M542.2 279.6h0M543.5 293.2h0M543.6 311.5h0M545.5 294.7h0M543.0 300.8h0M542.8 312.8h0M542.4 283.1h0M553.1 296.7h0M547.5 260.4h0M551.3 283.4h0M543.2 274.2h0M543.1 290.3h0M541.8 296.1h0M545.0 321.1h0M548.6 295.0h0M545.9 273.0h0M551.4 290.4h0M544.9 280.5h0M541.6 270.9h0M545.5 273.7h0M547.2 268.9h0M552.9 302.4h0M554.8 308.6h0M547.1 259.6h0M554.8 322.9h0M554.2 285.1h0M553.1 318.6h0M546.4 257.3h0M541.3 311.0h0M552.5 273.5h0M545.3 288.8h0M552.5 255.2h0M550.2 264.9h0M541.5 280.6h0M546.0 256.9h0M554.0 256.4h0M546.2 278.8h0M547.8 304.8h0M546.6 283.6h0M542.9 261.7h0M549.7 276.7h0M545.8 312.2h0M553.3 293.3h0M545.5 260.7h0M546.9 282.5h0M545.9 277.8h0M543.9 288.4h0M549.9 285.3h0M549.0 301.5h0M542.8 267.6h0M547.7 309.3h0M543.1 282.1h0M550.0 277.8h0M543.1 272.8h0M552.7 275.8h0M548.1 262.1h0M544.2 269.7h0M549.7 297.3h0M546.3 311.8h0M554.1 291.7h0M547.9 273.7h0M554.4 333.1h0M549.8 287.7h0M553.1 280.7h0M553.6 273.7h0M544.9 292.4h0M548.3 317.6h0M542.9 254.1h0M550.3 275.8h0M548.4 256.6h0M544.2 260.3h0M544.4 320.5h0M548.9 281.1h0M552.0 260.9h0M546.9 280.7h0M554.4 291.6h0M554.6 292.3h0M546.1 289.3h0M545.4 286.6h0M543.5 288.9h0M552.6 288.3h0M547.9 254.0h0M541.6 276.2h0M544.5 321.7h0M545.2 262.1h0M548.3 270.1h0M547.3 277.3h0M546.5 291.9h0M548.6 286.7h0M552.1 267.9h0M545.5 279.3h0M541.9 257.2h0M554.1 274.6h0M543.9 286.0h0M550.2 324.6h0M547.9 290.6h0M552.5 249.2h0M542.4 291.1h0M551.9 254.4h0M549.4 284.4h0M542.4 283.9h0M547.7 261.0h0M554.7 261.1h0M546.8 349.7h0M552.5 265.6h0M549.0 298.2h0M549.6 281.2h0M543.5 306.0h0M550.9 278.4h0M541.9 283.2h0M554.0 246.2h0M550.7 311.3h0M550.8 279.9h0M547.3 271.2h0M548.9 273.6h0M541.1 253.0h0M544.3 298.9h0M544.0 295.0h0M542.8 287.8h0M553.1 342.6h0M551.3 269.5h0M548.5 279.8h0M542.0 281.6h0M545.9 266.0h0M550.8 325.6h0M543.4 323.2h0M554.2 273.1h0M552.5 256.3h0M553.9 297.7h0M554.6 313.1h0M547.1 348.9h0M546.9 290.8h0M551.7 313.7h0M545.0 358.8h0M554.5 276.3h0M550.8 263.1h0M542.7 320.8h0M553.2 297.7h0M543.6 252.0h0M548.8 309.1h0M554.8 271.2h0M542.8 289.8h0M542.5 329.5h0M546.1 268.1h0M554.4 282.8h0M544.6 287.5h0M552.7 275.2h0M553.1 293.4h0M545.8 276.9h0M553.8 255.2h0M551.7 286.8h0M550.1 320.9h0M543.5 260.2h0M546.1 256.9h0M553.8 252.4h0M550.7 289.2h0M548.2 288.0h0M552.3 294.0h0M551.3 274.1h0M545.6 338.9h0M552.5 265.9h0M543.2 305.0h0M552.5 283.4h0M551.3 286.2h0M545.9 351.2h0M551.8 259.6h0M544.5 308.8h0M545.7 284.4h0M544.0 315.1h0M544.5 320.9h0M553.8 274.9h0M546.1 319.4h0M548.4 258.0h0M553.3 276.9h0M542.7 309.8h0M552.5 310.3h0M553.5 284.7h0M548.1 279.3h0M542.1 311.4h0M543.1 263.1h0M552.8 294.3h0M542.5 239.3h0M544.4 255.3h0M544.7 292.6h0M553.4 275.6h0M541.8 314.5h0M554.7 290.2h0M553.8 343.6h0M551.8 278.8h0M543.9 265.1h0M542.6 272.5h0M554.8 251.6h0M547.9 294.5h0M546.6 281.1h0M553.1 259.6h0M551.9 279.0h0M554.6 258.5h0M547.5 270.9h0M545.3 336.4h0M541.3 266.9h0M554.6 354.6h0M547.9 333.3h0M543.5 236.5h0M549.5 311.5h0M551.6 242.6h0M547.6 277.7h0M554.3 284.9h0M554.2 272.2h0M547.3 285.2h0M541.7 256.5h0M541.5 255.5h0M551.8 305.7h0M545.6 273.6h0M547.8 300.2h0M548.2 298.2h0M554.1 270.7h0M554.7 280.7h0M550.4 288.4h0M547.4 260.0h0M550.9 286.1h0M542.3 294.4h0M549.9 287.1h0M541.7 276.4h0M553.4 258.4h0M541.7 254.1h0M541.9 251.6h0M547.0 253.7h0M552.3 245.0h0M547.8 291.7h0M554.1 270.6h0M550.6 317.5h0M544.7 280.2h0M542.5 274.1h0M541.5 242.0h0M550.5 305.5h0M550.0 270.4h0M545.9 261.7h0M549.0 333.3h0M546.0 277.0h0M545.1 313.7h0M550.8 269.0h0M541.8 280.9h0M549.7 269.0h0M542.8 270.7h0M543.2 329.0h0M549.6 324.9h0M546.2 263.5h0M548.6 278.0h0M546.6 276.7h0M549.0 260.8h0M547.3 307.8h0M550.8 300.1h0M554.1 255.5h0M548.3 239.1h0M553.8 299.2h0M554.4 276.5h0M546.9 312.2h0M548.8 284.0h0M543.7 295.7h0M544.7 269.9h0M543.5 311.3h0M544.0 278.5h0M548.1 321.3h0M549.0 294.0h0M545.5 279.3h0M552.3 296.0h0M553.9 288.6h0M551.6 291.3h0M554.6 322.2h0M552.2 255.6h0M547.7 294.5h0M548.2 293.2h0M550.2 287.9h0M547.0 276.1h0M551.8 274.8h0M554.3 276.0h0M551.6 261.7h0M546.7 276.5h0M552.6 350.8h0M545.1 277.9h0M548.0 280.9h0M547.9 291.8h0M547.9 305.9h0M551.6 285.3h0M551.2 294.6h0M543.5 287.1h0M545.2 256.6h0M552.8 269.1h0M552.7 254.5h0M552.6 255.1h0M544.6 276.5h0M545.7 309.1h0M543.4 261.8h0M549.2 272.9h0M548.2 271.8h0M545.0 271.2h0M553.7 264.7h0M547.4 254.9h0M549.7 302.1h0M554.6 311.2h0M548.5 326.2h0M541.4 268.9h0M549.1 340.4h0M550.5 256.1h0M549.1 260.8h0M552.2 297.9h0M542.9 272.5h0M551.9 285.5h0M543.8 314.4h0M545.3 287.6h0M543.7 258.8h0M542.3 287.0h0M547.3 297.8h0M541.5 280.0h0M554.6 296.9h0M543.6 243.5h0M551.3 263.3h0M554.3 292.7h0M547.6 267.5h0M550.5 330.5h0M550.2 298.7h0M553.8 301.3h0M548.9 292.1h0M543.6 281.8h0M551.3 297.4h0M548.2 295.2h0M549.8 329.9h0M552.5 256.4h0M547.9 320.8h0M550.4 252.1h0M554.8 272.1h0M547.5 280.1h0" stroke="#a45fa8" stroke-width="2.3" stroke-linecap="round" fill="none" stroke-opacity="0.66"/>
<path d="M543.3 331.2h0M552.1 264.3h0M544.8 275.7h0M541.2 286.9h0M544.8 238.6h0M541.7 266.1h0M541.2 298.6h0M545.7 327.5h0M546.8 313.2h0M545.2 297.5h0M543.9 286.5h0M541.9 299.4h0M547.2 328.9h0M552.9 299.1h0M551.2 279.9h0M546.9 310.2h0M547.3 280.7h0M553.0 336.8h0M541.9 274.7h0M542.7 270.9h0M547.0 276.3h0M542.9 321.4h0M554.6 256.0h0M550.6 249.0h0M552.4 279.6h0M542.8 282.6h0M546.6 268.6h0M546.2 270.0h0M553.0 310.6h0M545.8 310.1h0M550.6 281.3h0M547.4 313.7h0M547.2 320.6h0M541.8 263.3h0M543.5 259.8h0M549.6 280.5h0M552.9 339.9h0M551.6 288.4h0M548.2 304.2h0M552.6 252.4h0M550.6 252.9h0M549.9 302.9h0M554.1 272.7h0M544.7 293.2h0M543.5 322.8h0M550.9 321.5h0M549.8 265.4h0M545.0 322.8h0M550.9 304.8h0M544.1 289.7h0M554.7 272.3h0M552.9 284.0h0M541.3 295.9h0M549.3 285.0h0M550.2 318.6h0M553.8 288.7h0M554.3 252.2h0M542.9 270.5h0M544.7 254.0h0M549.7 304.7h0M553.6 293.6h0M545.9 254.5h0M548.2 306.2h0M547.9 318.6h0M549.4 265.6h0M544.6 339.4h0M548.6 290.9h0M546.6 336.0h0M543.3 293.9h0M545.9 295.6h0M549.6 277.9h0M546.4 260.1h0M545.2 330.7h0M545.9 239.5h0M546.3 249.8h0M544.9 283.1h0M542.7 253.1h0M543.0 272.2h0M545.8 260.9h0M553.1 260.6h0M547.9 296.6h0M541.9 287.2h0M544.5 260.1h0M544.9 267.7h0M544.3 292.7h0M549.4 261.1h0M549.1 264.3h0M547.0 289.7h0M544.8 264.5h0M553.2 257.9h0M552.7 303.1h0M546.9 260.7h0M553.0 273.8h0M541.3 248.8h0M554.2 270.8h0M554.5 282.6h0M544.7 260.9h0M548.2 273.4h0M550.5 296.0h0M551.8 256.0h0M542.8 257.9h0M551.0 314.3h0M541.8 266.5h0M545.3 277.5h0M543.0 309.7h0M548.3 304.2h0M554.4 264.5h0M544.1 261.5h0M543.3 282.9h0M547.5 305.4h0M550.2 262.0h0M549.0 264.1h0M548.2 278.2h0M551.1 288.3h0M550.5 257.7h0M543.9 291.2h0M547.4 338.4h0M550.3 295.8h0M554.8 297.6h0M546.0 286.9h0M550.3 268.7h0M546.3 322.6h0M545.7 281.3h0M543.1 308.7h0M543.1 263.6h0M549.5 272.8h0M554.1 266.1h0M541.4 254.6h0M554.3 254.3h0M544.4 263.2h0M552.2 272.7h0M550.8 288.3h0M547.7 290.7h0M550.1 297.7h0M550.9 294.2h0M542.3 295.3h0M552.4 305.2h0M545.4 263.9h0M549.2 264.4h0M545.1 282.0h0M554.6 254.1h0M551.3 277.2h0M548.7 276.7h0M552.3 289.9h0M546.2 287.3h0M552.5 286.8h0M551.7 274.8h0M548.2 268.5h0M550.5 294.2h0M554.1 293.8h0M544.0 269.5h0M552.5 299.0h0M549.6 265.6h0M554.7 300.7h0M548.3 282.3h0M553.8 278.8h0M543.9 284.0h0M554.7 326.2h0M549.6 255.6h0M554.9 296.1h0M543.2 276.5h0M543.7 341.0h0M548.5 272.7h0M545.8 241.0h0M542.1 297.7h0M546.0 275.6h0M549.2 288.9h0M542.5 261.2h0M553.1 295.2h0M542.4 272.2h0M549.5 282.1h0M541.4 269.7h0M553.8 293.1h0M553.1 276.8h0M541.2 261.4h0M545.2 252.0h0M547.3 286.1h0M544.3 283.9h0M552.4 307.9h0M545.5 300.1h0M552.3 296.5h0M552.1 267.8h0M547.4 281.8h0M541.5 272.6h0M547.8 283.0h0M544.3 278.1h0M551.4 292.6h0M547.4 267.1h0M554.7 293.4h0M550.7 313.4h0M551.8 279.9h0M549.8 261.6h0M546.5 258.0h0M546.6 256.1h0M550.9 252.3h0M551.1 314.1h0M552.4 335.7h0M546.1 275.6h0M551.2 294.8h0M553.4 284.9h0M547.1 272.9h0M547.7 283.8h0M552.7 316.2h0M549.9 272.0h0M548.8 255.4h0M551.5 282.7h0M554.3 321.9h0M551.0 261.8h0M546.1 335.5h0M549.4 340.6h0M542.8 310.0h0M541.8 285.2h0M547.3 268.7h0M548.4 270.6h0M554.8 270.4h0M541.4 274.4h0M544.9 275.1h0M554.0 260.6h0M543.4 269.5h0M554.0 301.3h0M554.2 294.7h0M541.5 292.2h0M552.5 284.8h0M543.3 279.4h0M551.4 352.0h0M552.1 282.2h0M551.3 240.9h0M544.4 268.5h0M541.5 349.1h0M554.1 277.3h0M547.6 276.6h0M545.2 276.1h0M552.7 286.9h0M546.8 269.6h0M551.7 314.3h0M543.1 300.7h0M548.6 292.8h0M554.4 298.3h0M550.7 283.9h0M552.7 317.3h0M544.6 287.4h0M541.8 265.5h0M552.1 313.0h0M549.7 311.0h0M548.9 266.6h0M548.7 266.4h0M542.7 309.9h0M541.8 246.2h0M552.1 265.6h0M541.8 293.0h0M548.7 282.0h0M545.1 322.3h0M548.5 322.6h0M550.0 320.3h0M542.5 311.4h0M544.5 296.8h0M550.3 285.7h0M545.8 277.8h0M549.9 287.0h0M547.7 266.8h0M553.5 287.2h0M551.2 245.8h0M542.1 322.9h0M547.6 258.1h0M541.5 270.9h0M551.3 321.9h0M548.5 254.2h0M549.4 265.1h0M552.7 271.5h0M551.0 297.6h0M543.8 296.4h0M542.3 283.8h0M550.7 257.7h0M550.9 254.4h0M552.8 255.2h0M551.9 290.4h0M541.5 317.7h0M554.8 317.7h0M542.3 276.1h0M553.4 302.0h0M549.5 272.8h0M546.9 286.9h0M541.4 261.1h0M544.4 260.3h0M547.2 279.7h0M544.8 276.5h0M554.1 278.9h0M544.1 305.1h0M544.7 319.8h0M548.2 276.1h0M552.7 256.9h0M548.5 322.5h0M550.9 307.1h0M553.9 276.4h0M544.5 307.8h0M541.6 272.3h0M553.8 283.1h0M552.9 269.1h0M552.7 280.0h0M543.8 314.1h0M553.7 255.6h0M541.4 271.5h0M552.0 269.8h0M554.0 272.1h0M549.2 321.9h0M548.7 306.9h0M545.2 286.1h0M545.2 284.9h0M545.7 275.6h0M553.2 268.3h0M553.0 260.2h0M553.5 285.0h0M543.4 301.4h0M543.5 280.0h0M554.7 276.2h0M551.5 273.7h0M552.4 300.1h0M543.1 329.1h0M550.4 255.8h0M543.9 298.5h0M552.0 282.9h0M548.9 320.1h0M542.2 323.1h0M546.8 281.8h0M550.0 321.0h0M542.3 295.1h0M541.3 256.3h0M552.2 295.2h0M553.0 291.4h0M541.8 255.4h0M543.7 261.4h0M541.8 267.9h0M552.6 289.3h0M543.9 303.4h0M551.4 264.5h0M551.8 294.3h0M545.2 261.9h0M549.3 260.1h0M553.6 276.4h0M550.7 286.2h0M541.9 321.9h0M551.7 264.0h0M546.1 288.0h0M553.6 290.8h0M552.8 295.0h0M541.7 284.5h0M544.8 293.4h0M551.3 301.2h0M550.1 288.3h0M545.7 341.7h0" stroke="#a45fa8" stroke-width="2.3" stroke-linecap="round" fill="none" stroke-opacity="0.66"/>
<path d="M550.3 323.7h0M548.4 319.3h0M545.7 310.0h0M550.0 280.1h0M552.1 291.4h0M546.6 258.5h0M548.3 301.6h0M548.9 270.2h0M542.5 295.7h0M545.7 267.3h0M551.8 267.3h0M549.7 252.3h0M554.0 310.8h0M543.7 260.1h0M550.8 298.4h0M545.8 279.5h0M542.8 342.0h0M549.4 321.7h0M552.4 291.2h0M545.3 286.8h0M550.6 294.5h0M552.9 289.8h0M548.6 285.9h0M550.2 275.1h0M550.5 307.3h0M546.9 290.8h0M546.2 296.4h0M545.8 292.3h0M549.4 309.6h0M549.9 325.3h0M547.5 273.9h0M554.3 292.8h0M554.8 332.6h0M554.9 257.1h0M546.9 321.9h0M544.2 266.6h0M552.8 300.8h0M551.3 274.4h0M554.6 263.1h0M550.5 337.8h0M553.5 285.7h0M547.4 260.4h0M545.6 340.4h0M553.8 278.8h0M544.3 258.5h0M553.7 287.0h0M553.6 317.8h0M545.2 266.8h0M547.7 291.6h0M551.1 282.8h0M548.2 292.2h0M554.5 309.0h0M544.4 299.0h0M544.6 252.5h0M546.0 291.1h0M546.3 273.2h0M550.9 276.5h0M542.4 286.0h0M554.9 321.6h0M553.7 278.1h0M554.5 257.5h0M554.1 311.7h0M546.5 319.4h0M547.8 285.0h0M552.9 304.7h0M541.5 297.0h0M554.4 285.1h0M544.9 253.1h0M548.7 268.7h0M544.3 287.6h0M546.7 345.8h0M552.8 268.0h0M543.4 261.3h0M544.2 242.9h0M543.4 307.0h0M552.6 254.3h0M544.3 252.9h0M543.6 314.7h0M543.4 305.8h0M548.3 292.8h0M553.2 297.1h0M544.8 280.2h0M543.9 288.3h0M554.8 276.8h0M551.8 291.9h0M554.3 305.9h0M542.2 297.0h0M549.2 253.8h0M542.7 255.9h0M548.9 287.3h0M549.7 296.8h0M544.3 272.4h0M548.7 324.2h0M544.1 273.0h0M553.7 293.5h0M551.8 254.5h0M554.9 274.7h0M545.6 278.9h0M551.7 296.2h0M551.1 280.3h0M545.8 306.0h0M545.6 275.1h0M548.9 302.7h0M549.6 277.1h0M544.5 313.8h0M546.2 260.9h0M544.8 274.0h0M547.3 260.2h0M550.1 278.4h0M552.8 288.9h0M543.2 274.7h0M546.3 304.1h0M546.7 284.2h0M553.3 258.5h0M554.9 257.4h0M547.8 315.6h0M549.1 270.5h0M548.6 313.9h0M554.9 271.9h0M554.7 353.8h0M551.6 265.6h0M551.5 252.3h0M544.1 284.4h0M551.7 272.6h0M553.1 302.4h0M548.4 281.4h0M546.4 257.6h0M552.8 260.3h0M542.9 253.0h0M545.9 277.9h0M544.8 279.1h0M553.9 273.1h0M547.9 280.5h0M551.4 279.1h0M544.8 269.3h0M549.2 251.7h0M542.2 278.1h0M543.7 320.8h0M544.3 301.2h0M552.9 336.5h0M549.5 290.4h0M546.6 253.1h0M541.7 293.6h0M543.2 315.1h0M543.4 273.3h0M553.1 287.4h0M546.5 314.5h0M550.0 276.0h0M550.4 280.3h0M541.9 251.4h0M543.7 262.8h0M551.1 339.7h0M544.1 310.7h0M551.2 277.7h0M548.4 268.4h0M550.9 279.6h0M541.9 305.9h0M544.1 290.8h0M554.0 285.3h0M548.5 310.4h0M552.9 260.0h0M551.4 277.0h0M547.6 274.4h0M543.0 296.4h0M549.0 265.5h0M546.3 306.8h0M548.9 282.3h0M550.6 233.7h0M548.5 337.1h0M548.4 315.2h0M554.4 277.5h0M553.3 309.2h0M542.1 301.7h0M550.3 323.0h0M546.5 296.4h0M550.9 253.1h0M553.0 271.3h0M543.5 285.5h0M552.7 283.3h0M543.0 292.5h0M548.7 303.7h0M543.1 316.3h0M543.3 263.6h0M546.8 308.0h0M554.8 262.7h0M542.2 287.5h0M554.4 255.3h0M548.5 255.2h0M541.1 320.6h0M554.5 254.8h0M545.2 310.5h0M543.4 310.2h0M544.4 306.8h0M554.8 321.8h0M541.5 289.9h0M552.6 266.9h0M543.3 287.8h0M549.4 324.0h0M551.7 263.2h0M547.0 283.1h0M553.8 301.0h0M548.8 274.6h0M546.8 292.3h0M548.6 292.7h0M549.6 249.8h0M549.9 301.8h0M542.7 296.4h0M551.5 266.3h0M550.2 288.7h0M546.4 249.8h0M554.9 309.5h0M551.8 282.0h0M546.4 282.7h0M552.0 311.3h0M548.9 352.1h0M545.6 280.2h0M552.6 254.3h0M549.2 323.9h0M546.2 267.7h0M553.6 255.8h0M552.7 299.9h0M545.1 286.4h0M543.1 262.3h0M549.6 340.5h0M552.0 281.0h0M544.6 279.8h0M547.2 291.5h0M549.1 279.9h0M541.2 325.3h0M542.1 276.2h0M547.9 258.6h0M546.0 281.7h0M547.7 276.2h0M546.0 287.0h0M554.0 260.3h0M552.0 276.3h0M548.9 278.7h0M548.4 320.3h0M545.7 302.0h0M550.3 261.2h0M551.7 298.6h0M551.1 253.2h0M545.0 317.4h0M543.3 288.2h0M551.4 291.9h0M551.7 282.5h0M547.0 308.2h0M541.5 301.7h0M550.9 347.7h0M549.8 282.7h0M548.7 290.9h0M549.7 276.6h0M551.2 325.2h0M552.3 298.2h0M554.8 324.3h0M542.4 318.3h0M545.6 286.7h0M545.5 357.3h0M546.7 291.5h0M548.7 305.1h0M543.2 254.6h0M552.1 275.0h0M552.3 259.5h0M553.8 300.7h0M544.4 276.3h0M553.6 277.4h0M546.3 289.5h0M553.7 260.7h0M550.8 310.6h0M546.8 353.6h0M544.0 306.2h0M543.1 309.2h0M549.0 308.9h0M550.6 261.3h0M547.8 317.7h0M549.6 276.6h0M544.2 290.1h0M552.2 261.4h0M550.6 270.0h0M542.7 284.5h0M550.8 288.3h0M542.0 260.4h0M546.2 253.6h0M547.0 325.0h0M542.2 274.6h0M550.1 318.0h0M543.7 257.9h0M546.5 298.0h0M546.5 272.5h0M550.2 294.0h0M550.3 338.4h0M546.5 265.2h0M549.2 276.3h0M552.2 264.4h0M548.7 266.3h0M543.3 270.8h0M553.3 332.3h0M548.1 268.7h0M544.1 319.4h0M551.4 337.0h0M545.6 281.5h0M543.6 271.9h0M546.9 282.9h0M549.0 271.8h0M550.7 293.1h0M544.1 286.8h0M551.8 281.9h0M550.9 309.4h0M547.2 310.2h0M548.5 309.0h0M547.3 294.9h0M547.4 303.8h0M546.2 269.8h0M545.2 268.0h0M554.1 295.0h0M547.5 292.8h0M553.6 324.5h0M544.6 302.5h0M552.0 268.8h0M544.4 271.1h0M553.6 272.6h0M552.8 274.5h0M549.5 280.6h0M552.7 294.6h0M544.8 280.1h0M553.8 264.8h0M552.1 308.5h0M542.7 258.9h0M548.3 308.5h0M549.3 298.3h0M543.1 278.1h0M541.6 317.8h0M543.4 292.4h0M553.1 262.9h0M546.0 286.6h0M541.9 317.9h0M547.3 298.9h0M541.8 287.0h0M550.2 285.7h0M544.1 281.4h0M543.4 291.9h0M551.4 269.2h0M548.7 322.2h0M542.3 290.1h0M550.3 317.2h0M549.2 280.1h0M553.1 308.0h0M547.8 263.8h0M552.7 305.2h0M546.4 256.4h0" stroke="#a45fa8" stroke-width="2.3" stroke-linecap="round" fill="none" stroke-opacity="0.66"/>
<rect x="535.42" y="270.60" width="25.22" height="27.34" fill="none" stroke="#c29ac6" stroke-width="0.8"/>
<line x1="535.42" y1="283.46" x2="560.64" y2="283.46" stroke="#c29ac6" stroke-width="1.2"/>
<line x1="582.57" y1="255.32" x2="582.57" y2="286.68" stroke="#d6cc52" stroke-width="0.8"/>
<line x1="582.57" y1="309.19" x2="582.57" y2="342.15" stroke="#d6cc52" stroke-width="0.8"/>
<path d="M582.8 324.9h0M589.1 302.3h0M587.9 294.8h0M579.6 285.2h0M588.9 259.7h0M575.8 247.3h0M582.5 342.2h0M582.1 321.4h0M578.7 315.9h0M576.3 304.4h0M576.3 292.0h0M580.8 330.9h0M578.7 318.5h0M586.4 293.2h0M587.0 312.2h0M578.6 299.5h0M581.1 255.6h0M583.9 276.8h0M583.7 298.5h0M587.1 284.6h0M583.5 302.3h0M587.6 282.3h0M585.6 255.0h0M585.1 291.9h0M586.8 324.2h0M580.8 302.6h0M581.5 311.4h0M578.9 314.7h0M580.7 297.3h0M579.5 332.8h0M583.3 288.0h0M585.5 308.6h0M580.0 268.5h0M585.9 290.6h0M578.6 298.1h0M587.8 258.1h0M585.0 317.6h0M579.0 275.2h0M582.8 273.1h0M584.9 296.9h0M587.2 331.5h0M583.8 299.0h0M581.3 278.0h0M581.7 294.1h0M588.1 305.3h0M588.4 292.3h0M584.4 297.0h0M578.0 291.8h0M587.8 308.3h0M584.6 300.5h0M578.4 301.7h0M578.3 244.9h0M581.0 301.6h0M576.0 292.7h0M589.1 308.9h0M582.4 304.2h0M579.0 289.3h0M586.2 295.3h0M585.6 299.4h0M582.9 328.9h0M585.4 328.6h0M580.5 305.0h0M587.5 266.8h0M588.8 300.9h0M585.5 305.9h0M576.0 309.7h0M581.0 317.4h0M589.0 303.6h0M586.3 307.7h0M581.3 308.8h0M575.8 267.5h0M583.6 339.1h0M580.6 292.9h0M583.7 304.7h0M588.6 330.6h0M577.5 329.3h0M581.2 313.2h0M581.7 305.8h0M576.5 306.5h0M580.5 289.9h0M577.5 290.1h0M583.4 287.8h0M579.3 243.2h0M579.7 339.1h0M580.6 291.7h0M577.1 271.3h0M576.9 262.1h0M585.7 301.8h0M587.5 296.3h0M579.8 293.3h0M577.5 268.2h0M583.0 298.3h0M580.0 322.6h0" stroke="#c7bd2c" stroke-width="2.3" stroke-linecap="round" fill="none" stroke-opacity="0.66"/>
<rect x="569.96" y="286.68" width="25.22" height="22.51" fill="none" stroke="#d6cc52" stroke-width="0.8"/>
<line x1="569.96" y1="298.74" x2="595.18" y2="298.74" stroke="#d6cc52" stroke-width="1.2"/>
<line x1="628.33" y1="241.65" x2="628.33" y2="272.20" stroke="#c29ac6" stroke-width="0.8"/>
<line x1="628.33" y1="300.34" x2="628.33" y2="347.78" stroke="#c29ac6" stroke-width="0.8"/>
<path d="M621.9 267.2h0M630.8 282.7h0M629.8 264.5h0M630.0 277.4h0M627.5 296.7h0M630.8 297.5h0M631.3 297.7h0M633.9 290.6h0M628.5 270.7h0M623.4 258.2h0M632.0 306.7h0M634.7 291.6h0M629.7 257.4h0M622.6 275.1h0M633.7 301.0h0M627.1 290.0h0M626.3 330.3h0M630.7 279.9h0M631.2 278.8h0M634.6 302.5h0M629.1 277.0h0M624.6 298.0h0M622.4 317.0h0M624.7 299.9h0M623.9 276.8h0M627.3 279.1h0M630.6 290.6h0M634.7 255.2h0M626.6 266.6h0M630.2 293.2h0M626.4 269.8h0M626.4 289.8h0M627.3 320.9h0M624.0 296.6h0M631.7 290.9h0M634.1 275.2h0M622.2 346.0h0M626.3 316.3h0M621.6 298.8h0M625.2 282.6h0M624.3 288.9h0M634.1 312.4h0M632.2 271.8h0M632.4 337.2h0M633.4 244.4h0M622.6 291.1h0M626.4 297.7h0M634.6 257.5h0M633.5 299.6h0M630.5 346.3h0M631.3 277.1h0M627.0 304.0h0M627.6 317.2h0M630.8 312.8h0M625.5 264.2h0M622.3 274.9h0M630.3 309.2h0M622.6 307.1h0M635.2 287.5h0M630.5 282.5h0M625.0 292.7h0M633.8 306.4h0M622.2 273.6h0M624.3 246.7h0M634.0 292.5h0M625.6 294.3h0M627.5 310.8h0M631.5 319.3h0M632.5 286.3h0M624.4 292.5h0M633.1 290.2h0M633.3 273.9h0M633.8 323.0h0M622.0 273.2h0M626.7 284.1h0M621.3 335.5h0M628.3 260.1h0" stroke="#a45fa8" stroke-width="2.3" stroke-linecap="round" fill="none" stroke-opacity="0.66"/>
<path d="M629.6 302.3h0M631.5 313.4h0M627.3 279.2h0M631.7 284.6h0M628.1 259.0h0M629.7 315.1h0M625.4 289.7h0M623.0 287.4h0M629.1 260.8h0M626.4 293.5h0M634.3 328.4h0M626.0 284.3h0M624.5 293.5h0M628.3 301.5h0M630.3 316.2h0M628.9 297.8h0M621.7 299.0h0M627.5 276.1h0M624.7 299.3h0M628.5 287.0h0M627.9 263.2h0M627.6 282.7h0M633.0 261.7h0M629.0 291.4h0M634.4 334.8h0M626.9 246.7h0M632.1 278.6h0M630.9 278.5h0M627.3 261.8h0M627.9 321.4h0M623.0 330.6h0M632.6 269.8h0M627.2 269.3h0M631.9 284.5h0M622.7 282.7h0M626.2 262.3h0M624.2 313.0h0M633.2 246.1h0M624.9 255.9h0M621.5 296.9h0M630.7 267.9h0M625.0 298.3h0M623.7 286.1h0M629.8 282.4h0M622.5 281.6h0M632.5 278.4h0M635.0 306.4h0M625.6 283.3h0M634.2 270.5h0M629.0 315.9h0M634.8 276.6h0M630.6 277.5h0M624.3 289.0h0M628.6 285.3h0M623.7 281.2h0M629.2 294.3h0M623.9 301.3h0M631.4 287.5h0M632.1 290.9h0M628.8 298.0h0M623.6 267.4h0M634.2 262.7h0M632.6 259.0h0M630.2 272.2h0M625.7 335.2h0M628.3 290.1h0M630.3 271.6h0M634.3 298.1h0M630.8 272.1h0M631.1 316.6h0M624.6 298.4h0M622.3 300.9h0M629.0 307.6h0M626.8 339.0h0M635.0 292.8h0M630.4 242.6h0M628.7 318.1h0" stroke="#a45fa8" stroke-width="2.3" stroke-linecap="round" fill="none" stroke-opacity="0.66"/>
<path d="M631.8 346.3h0M622.3 307.2h0M624.8 306.0h0M625.6 271.2h0M626.7 299.7h0M624.8 338.3h0M626.3 293.8h0M632.4 267.4h0M626.7 307.9h0M625.8 278.5h0M629.2 300.8h0M624.6 242.2h0M635.1 265.4h0M635.3 274.7h0M625.9 290.9h0M633.8 317.2h0M627.4 294.0h0M632.7 310.3h0M633.7 314.0h0M626.6 314.4h0M624.6 291.4h0M634.8 283.0h0M630.9 297.1h0M625.5 270.7h0M631.4 289.2h0M627.5 294.9h0M624.6 345.5h0M634.2 296.2h0M622.3 264.4h0M623.3 298.3h0M624.4 258.5h0M628.9 286.0h0M628.5 277.0h0M631.3 315.9h0M624.4 271.2h0M634.4 279.9h0M633.9 325.9h0M630.8 272.9h0M634.6 297.4h0M622.0 285.6h0M625.5 278.0h0M624.4 286.0h0M635.0 272.5h0M630.9 277.3h0M622.7 280.5h0M633.6 294.3h0M626.3 274.1h0M629.2 315.7h0M633.1 272.6h0M635.0 308.7h0M633.8 315.8h0M622.8 321.4h0M627.8 298.5h0M631.6 275.2h0M634.5 287.0h0M627.8 321.7h0M623.9 275.4h0M630.2 269.7h0M625.9 260.3h0M632.0 314.7h0M632.9 295.8h0M625.6 256.7h0M635.2 288.9h0M628.6 276.7h0M631.8 283.8h0M633.4 263.4h0M632.8 264.6h0M628.7 284.4h0M635.3 265.2h0M631.4 257.1h0M633.3 300.3h0M629.8 275.1h0M632.2 280.7h0M625.8 298.2h0M627.0 295.6h0M627.6 314.9h0M626.6 294.5h0" stroke="#a45fa8" stroke-width="2.3" stroke-linecap="round" fill="none" stroke-opacity="0.66"/>
<path d="M633.0 290.3h0M627.6 297.5h0M633.0 273.3h0M634.5 273.1h0M632.6 319.2h0M629.4 266.5h0M633.1 289.1h0M628.7 297.0h0M624.1 286.5h0M623.3 267.7h0M629.4 294.3h0M630.0 312.0h0M629.7 262.3h0M634.9 317.8h0M625.0 314.3h0M624.7 295.0h0M627.4 299.6h0M630.4 257.3h0M634.3 309.9h0M621.8 257.4h0M625.7 297.4h0M631.2 269.3h0M626.6 277.4h0M621.4 330.1h0M621.9 274.0h0M631.6 264.1h0M634.8 271.3h0M630.6 282.3h0M628.3 269.9h0M624.0 301.7h0M634.1 262.4h0M626.5 293.0h0M634.7 271.9h0M633.5 321.3h0M628.8 321.5h0M621.5 288.6h0M629.1 298.3h0M632.9 282.6h0M632.7 299.0h0M634.8 320.4h0M624.6 279.6h0M624.7 322.3h0M624.4 271.3h0M627.1 320.1h0M624.0 264.2h0M630.1 324.0h0M635.1 292.4h0M629.4 290.7h0M623.5 272.4h0M629.0 298.5h0M627.9 282.1h0M622.1 308.6h0M622.1 335.2h0M626.9 256.8h0M625.2 274.7h0M634.6 298.5h0M633.0 284.0h0M627.7 298.8h0M621.6 265.5h0M624.5 297.5h0M628.2 277.0h0M632.3 271.8h0M622.3 296.5h0M626.5 328.8h0M631.6 277.4h0M629.3 288.3h0M622.5 343.1h0M627.6 283.6h0M625.7 284.8h0M633.0 289.0h0M623.9 268.4h0M632.9 281.5h0M621.6 277.1h0M628.6 297.4h0M623.7 265.3h0M632.5 266.0h0" stroke="#a45fa8" stroke-width="2.3" stroke-linecap="round" fill="none" stroke-opacity="0.66"/>
<rect x="615.54" y="272.20" width="25.58" height="28.14" fill="none" stroke="#c29ac6" stroke-width="0.8"/>
<line x1="615.54" y1="285.87" x2="641.12" y2="285.87" stroke="#c29ac6" stroke-width="1.2"/>
<line x1="663.37" y1="255.32" x2="663.37" y2="289.89" stroke="#d6cc52" stroke-width="0.8"/>
<line x1="663.37" y1="318.84" x2="663.37" y2="343.76" stroke="#d6cc52" stroke-width="0.8"/>
<path d="M660.8 278.5h0M660.9 322.5h0M665.0 279.9h0M667.7 289.9h0M658.3 330.4h0M661.7 310.1h0M667.1 270.3h0M665.9 280.2h0M664.8 297.5h0M668.8 291.7h0M662.8 325.3h0M663.1 313.5h0M661.9 336.0h0M662.8 307.9h0M661.2 325.2h0M663.6 337.3h0M665.4 360.7h0M657.1 268.6h0M658.7 296.1h0M669.3 297.3h0M664.2 303.5h0M664.3 293.5h0M661.9 308.4h0M657.4 362.2h0M658.8 313.4h0M669.1 304.2h0M658.4 312.0h0" stroke="#c7bd2c" stroke-width="2.3" stroke-linecap="round" fill="none" stroke-opacity="0.66"/>
<rect x="650.58" y="289.89" width="25.58" height="28.94" fill="none" stroke="#d6cc52" stroke-width="0.8"/>
<line x1="650.58" y1="305.17" x2="676.16" y2="305.17" stroke="#d6cc52" stroke-width="1.2"/>
<rect x="527.30" y="216.50" width="76.00" height="12.00" fill="#fff" stroke="#333" stroke-width="0.9"/>
<text x="565.3" y="224.7" font-size="6.3" text-anchor="middle" fill="#1a1a1a" >Discovery</text>
<line x1="527.30" y1="374.20" x2="603.30" y2="374.20" stroke="#333" stroke-width="0.9" />
<line x1="548.03" y1="374.20" x2="548.03" y2="376.40" stroke="#333" stroke-width="0.8" />
<text transform="translate(548.0 382.8) scale(1 1.12)" x="0" y="0" font-size="6.2" text-anchor="middle" fill="#4d4d4d">CMV+</text>
<line x1="582.57" y1="374.20" x2="582.57" y2="376.40" stroke="#333" stroke-width="0.8" />
<text transform="translate(582.6 382.8) scale(1 1.12)" x="0" y="0" font-size="6.2" text-anchor="middle" fill="#4d4d4d">CMV-</text>
<rect x="607.30" y="216.50" width="77.10" height="12.00" fill="#fff" stroke="#333" stroke-width="0.9"/>
<text x="645.8" y="224.7" font-size="6.3" text-anchor="middle" fill="#1a1a1a" >Validation</text>
<line x1="607.30" y1="374.20" x2="684.40" y2="374.20" stroke="#333" stroke-width="0.9" />
<line x1="628.33" y1="374.20" x2="628.33" y2="376.40" stroke="#333" stroke-width="0.8" />
<text transform="translate(628.3 382.8) scale(1 1.12)" x="0" y="0" font-size="6.2" text-anchor="middle" fill="#4d4d4d">CMV+</text>
<line x1="663.37" y1="374.20" x2="663.37" y2="376.40" stroke="#333" stroke-width="0.8" />
<text transform="translate(663.4 382.8) scale(1 1.12)" x="0" y="0" font-size="6.2" text-anchor="middle" fill="#4d4d4d">CMV-</text>
<path d="M548.03 238.30 V235.10 H582.57 V238.30" fill="none" stroke="#666" stroke-width="0.6"/>
<text x="565.3" y="234.2" font-size="7.0" text-anchor="middle" fill="#1a1a1a" >2.097912e-10</text>
<path d="M628.33 238.30 V235.10 H663.37 V238.30" fill="none" stroke="#666" stroke-width="0.6"/>
<text x="645.8" y="234.2" font-size="7.0" text-anchor="middle" fill="#1a1a1a" >0.02212283</text>
<line x1="527.30" y1="228.50" x2="527.30" y2="374.65" stroke="#333" stroke-width="0.9" />
<line x1="525.10" y1="371.90" x2="527.30" y2="371.90" stroke="#333" stroke-width="0.8" />
<text transform="translate(524.3 374.4) scale(1 1.15)" x="0" y="0" font-size="6.3" text-anchor="end" fill="#4d4d4d">3.0</text>
<line x1="525.10" y1="331.70" x2="527.30" y2="331.70" stroke="#333" stroke-width="0.8" />
<text transform="translate(524.3 334.2) scale(1 1.15)" x="0" y="0" font-size="6.3" text-anchor="end" fill="#4d4d4d">3.5</text>
<line x1="525.10" y1="291.50" x2="527.30" y2="291.50" stroke="#333" stroke-width="0.8" />
<text transform="translate(524.3 294.0) scale(1 1.15)" x="0" y="0" font-size="6.3" text-anchor="end" fill="#4d4d4d">4.0</text>
<line x1="525.10" y1="251.30" x2="527.30" y2="251.30" stroke="#333" stroke-width="0.8" />
<text transform="translate(524.3 253.8) scale(1 1.15)" x="0" y="0" font-size="6.3" text-anchor="end" fill="#4d4d4d">4.5</text>
<text x="511.2" y="301.8" font-size="7.8" font-weight="bold" text-anchor="middle" fill="#111" transform="rotate(-90 511.2 301.8)">log10( 24h_il1ra_cmv)</text>
<text x="605.3" y="392.2" font-size="7.65" text-anchor="middle" fill="#111" font-weight="bold" >CMV_IgG_Serology</text>
<line x1="362.42" y1="429.16" x2="362.42" y2="460.74" stroke="#c29ac6" stroke-width="0.8"/>
<line x1="362.42" y1="493.67" x2="362.42" y2="543.40" stroke="#c29ac6" stroke-width="0.8"/>
<path d="M364.7 477.1h0M368.7 470.2h0M360.7 486.5h0M362.8 510.3h0M364.4 493.7h0M364.7 476.4h0M367.2 442.7h0M369.2 469.8h0M365.8 454.9h0M356.1 546.4h0M365.8 475.5h0M357.1 487.1h0M368.3 490.9h0M359.3 472.5h0M363.6 497.0h0M359.3 496.0h0M367.9 481.1h0M365.0 469.6h0M364.3 491.0h0M358.8 477.4h0M364.5 482.9h0M367.1 481.0h0M357.6 464.0h0M356.8 463.4h0M359.9 477.6h0M367.3 474.5h0M369.0 441.6h0M359.7 466.9h0M356.7 465.5h0M364.1 450.5h0M366.7 472.8h0M359.9 469.0h0M368.6 468.7h0M362.0 485.8h0M368.7 462.0h0M359.4 464.9h0M362.1 519.1h0M367.1 533.4h0M369.2 510.3h0M364.4 450.4h0M359.2 479.9h0M361.7 435.4h0M356.8 510.1h0M365.7 535.9h0M363.7 526.7h0M358.4 441.3h0M362.1 478.9h0M363.5 441.4h0M368.7 470.9h0M359.3 489.5h0M367.1 465.2h0M365.3 459.8h0M361.1 448.2h0M360.5 490.4h0M363.3 530.7h0M360.7 503.7h0M357.6 477.9h0M362.2 458.1h0M359.2 522.0h0M367.0 531.8h0M361.7 470.3h0M365.6 477.5h0M364.8 460.6h0M359.9 468.3h0M369.0 472.8h0M362.1 475.4h0M366.4 481.2h0M357.6 494.3h0M366.0 467.9h0M365.2 510.9h0M366.4 544.3h0M356.3 449.9h0M357.1 520.1h0M357.0 522.4h0M362.3 531.5h0M358.2 514.8h0M357.9 439.6h0M356.6 476.7h0M363.7 464.2h0M358.1 486.6h0M360.6 445.4h0M362.7 495.7h0M357.7 456.2h0M364.8 465.0h0M359.3 497.0h0M361.5 468.8h0M356.2 469.6h0M367.1 524.9h0M360.7 499.8h0M356.8 438.4h0M355.7 493.3h0M367.8 490.9h0M364.7 478.9h0M358.9 490.5h0M357.0 483.7h0M368.6 528.4h0M362.6 465.2h0M356.9 462.7h0M367.2 489.0h0M361.6 450.9h0M358.2 442.4h0M365.8 462.6h0M356.1 455.4h0M356.0 461.2h0M365.8 434.0h0M364.7 459.7h0M368.8 522.4h0M368.8 491.6h0M361.8 497.9h0M360.0 481.8h0M363.9 441.5h0M367.0 512.2h0M356.9 504.3h0M366.1 554.2h0M358.6 454.5h0M365.9 445.4h0M358.4 493.3h0M360.8 460.9h0M360.3 511.1h0M365.6 490.2h0M360.4 472.7h0M356.6 491.7h0M356.5 449.5h0M366.5 474.0h0M367.4 478.1h0M360.5 474.2h0M366.6 441.8h0M356.8 466.6h0M368.9 524.7h0M367.3 439.7h0M365.9 451.6h0M359.1 459.8h0M361.2 458.6h0M360.5 488.3h0M361.2 451.2h0M367.4 545.8h0M355.8 466.0h0M359.6 472.0h0M357.9 484.4h0M355.8 445.4h0M363.8 457.4h0M362.4 554.0h0M365.5 485.0h0M369.3 488.9h0M355.9 466.9h0M363.0 461.3h0M367.3 438.5h0M367.9 513.4h0M368.7 538.1h0M362.7 507.9h0M360.4 534.9h0M363.7 449.4h0M356.3 467.8h0M358.7 473.6h0M359.7 433.6h0M358.4 528.9h0M357.7 461.3h0M360.4 458.2h0M356.4 470.6h0M363.7 447.8h0M362.5 474.7h0M364.1 478.2h0M367.4 489.7h0M357.5 520.2h0M359.6 555.9h0M364.9 498.8h0M362.8 440.1h0M361.2 551.2h0M365.6 462.1h0M359.5 513.6h0M356.3 536.9h0M360.6 473.2h0M359.2 539.3h0M367.1 497.9h0M357.5 444.8h0M361.8 489.2h0M361.5 482.4h0M357.8 458.0h0M360.0 557.3h0M355.9 472.2h0M367.9 480.1h0M362.8 474.2h0M356.1 462.8h0M368.2 473.3h0M357.3 450.0h0M357.0 442.1h0M363.0 524.0h0M355.8 547.9h0M367.3 475.1h0M357.2 446.4h0M366.2 447.9h0M359.3 528.3h0M359.5 531.1h0M362.6 456.1h0M361.4 463.8h0M359.0 476.4h0M356.7 480.7h0M356.3 446.0h0M367.8 503.2h0M369.0 490.4h0M367.3 479.4h0M361.8 478.2h0M365.1 441.7h0M359.3 452.6h0M366.2 476.7h0M358.4 533.0h0M365.8 471.4h0M367.8 499.0h0M368.8 551.6h0M357.9 472.5h0M356.9 443.6h0M359.6 456.0h0M365.4 537.3h0M359.2 466.3h0M358.0 449.5h0M365.3 465.3h0M357.7 467.2h0M357.9 451.7h0M367.7 464.1h0M358.1 460.7h0M359.8 441.7h0M363.3 530.6h0M358.3 509.3h0M367.8 449.6h0M364.2 489.8h0M355.6 489.6h0M357.1 498.0h0M361.5 488.2h0M359.1 485.1h0M361.4 443.4h0M363.5 506.7h0M357.8 468.4h0M359.9 468.6h0M359.0 487.8h0M367.0 548.4h0M356.9 510.3h0M360.3 444.1h0M356.6 469.0h0M364.0 523.5h0M368.5 505.0h0M358.3 470.6h0M363.2 448.3h0M367.2 514.3h0M365.1 487.8h0M364.5 440.3h0M365.1 436.3h0M356.6 464.8h0M368.0 457.1h0M362.6 492.5h0M359.8 466.0h0M366.8 481.2h0M367.7 477.6h0M369.0 539.7h0M359.6 508.5h0M358.4 508.9h0M355.6 466.7h0M364.0 491.2h0M355.7 550.5h0M361.2 478.3h0M368.0 487.0h0M357.9 488.7h0M365.6 470.7h0M360.6 490.7h0M360.6 438.4h0M365.2 488.6h0M358.5 430.6h0M366.2 461.2h0M361.1 460.5h0M359.4 506.6h0M364.4 452.4h0M364.1 547.3h0M365.9 475.4h0M361.2 486.0h0M362.0 520.6h0M363.8 477.9h0M361.9 482.8h0M360.3 474.1h0M367.0 441.8h0M362.1 448.1h0M365.1 462.5h0M364.8 492.2h0M357.4 471.1h0M366.4 524.6h0M361.6 485.2h0M359.2 458.0h0M368.1 486.4h0M360.0 441.2h0M358.5 472.7h0M365.2 468.3h0M363.8 495.9h0M357.9 477.4h0M356.0 518.2h0M363.7 469.0h0M356.7 460.2h0M365.7 472.3h0M357.5 451.8h0M360.4 497.6h0M359.4 443.5h0M362.8 484.0h0M357.5 463.1h0M358.9 429.4h0M357.4 486.1h0M368.9 495.0h0M358.3 501.2h0M363.3 514.6h0M366.1 464.0h0M361.6 452.8h0M366.8 554.5h0M360.1 456.0h0M356.6 478.7h0M366.6 450.4h0M361.1 511.7h0M363.0 481.0h0M366.6 467.3h0M358.1 451.8h0M366.6 451.2h0M359.5 439.0h0M367.8 460.9h0M368.7 463.4h0M362.1 487.1h0M365.5 476.2h0M365.9 475.4h0M364.5 464.4h0M366.6 469.8h0M357.4 473.8h0M361.5 509.5h0M357.5 454.5h0M355.7 526.5h0M356.7 504.5h0M356.7 494.6h0M359.1 492.9h0M358.6 495.7h0M358.4 510.9h0M355.6 471.3h0M363.5 444.6h0M367.4 452.4h0M356.8 462.9h0M357.6 460.8h0M361.6 484.3h0M367.8 443.1h0M358.0 456.3h0M367.2 473.8h0M362.5 528.9h0M356.5 491.8h0M367.6 495.9h0M356.3 507.0h0M356.9 446.4h0M355.9 544.3h0M366.1 483.0h0M361.3 469.0h0" stroke="#a45fa8" stroke-width="2.3" stroke-linecap="round" fill="none" stroke-opacity="0.66"/>
<path d="M367.1 463.0h0M359.6 512.5h0M363.7 538.3h0M363.1 478.9h0M361.9 463.9h0M357.2 471.0h0M356.8 487.3h0M356.1 479.7h0M365.5 471.3h0M368.9 537.7h0M356.9 447.6h0M357.1 526.0h0M364.9 446.8h0M363.0 465.9h0M364.3 462.7h0M366.6 528.7h0M361.1 462.7h0M363.4 447.0h0M366.0 470.8h0M360.1 498.2h0M367.3 452.9h0M361.3 494.9h0M366.4 474.2h0M363.2 479.0h0M359.7 445.9h0M362.4 494.1h0M362.5 446.2h0M367.7 495.9h0M359.7 438.9h0M361.3 456.7h0M356.8 467.8h0M358.8 463.0h0M356.4 466.6h0M362.4 550.5h0M359.4 492.8h0M364.0 548.1h0M359.4 475.8h0M368.5 444.8h0M357.4 487.1h0M367.9 527.9h0M360.2 468.8h0M359.8 488.5h0M355.9 473.0h0M364.6 467.0h0M365.6 453.4h0M357.6 484.3h0M367.8 530.3h0M360.6 470.6h0M359.8 463.8h0M362.3 473.1h0M360.8 450.2h0M368.3 444.0h0M357.4 475.3h0M357.3 527.5h0M361.8 483.2h0M368.6 473.1h0M356.2 470.4h0M365.0 487.5h0M365.1 499.6h0M359.0 443.9h0M364.5 451.0h0M367.2 468.1h0M364.6 521.5h0M360.9 483.9h0M368.9 483.5h0M360.8 494.2h0M361.3 558.4h0M360.2 521.8h0M363.5 458.5h0M366.8 468.1h0M361.7 476.0h0M367.1 449.1h0M359.8 547.6h0M365.2 465.1h0M360.1 472.4h0M366.0 504.9h0M362.5 469.0h0M359.1 486.4h0M367.4 470.3h0M360.6 451.8h0M357.0 516.1h0M362.7 519.2h0M364.0 478.9h0M368.0 472.4h0M364.3 513.2h0M364.5 470.6h0M363.7 465.3h0M363.6 465.4h0M360.2 531.9h0M363.8 447.1h0M361.2 481.5h0M368.0 450.8h0M367.4 429.5h0M366.1 508.6h0M367.1 456.1h0M356.1 452.2h0M368.8 469.8h0M358.8 451.1h0M356.8 463.5h0M368.1 493.2h0M360.9 467.3h0M355.6 497.5h0M369.2 473.6h0M358.8 464.0h0M356.7 488.2h0M364.5 470.6h0M367.2 446.2h0M360.9 507.0h0M364.9 481.4h0M369.0 469.6h0M356.6 458.1h0M364.4 486.7h0M361.2 435.9h0M355.8 491.2h0M365.5 446.0h0M368.3 487.5h0M355.9 457.5h0M367.5 463.2h0M365.4 492.5h0M365.2 481.7h0M360.5 468.3h0M360.3 449.6h0M360.4 447.9h0M366.3 524.3h0M361.5 470.4h0M358.1 505.5h0M358.3 495.5h0M367.7 514.0h0M355.9 519.3h0M356.2 477.9h0M362.9 535.1h0M359.2 481.5h0M356.0 444.7h0M369.0 486.5h0M366.6 458.4h0M360.5 451.6h0M361.2 491.7h0M357.0 466.9h0M365.5 463.9h0M358.6 473.7h0M358.1 445.7h0M357.2 477.0h0M356.8 517.6h0M364.8 458.4h0M367.4 490.7h0M365.9 461.0h0M363.0 470.9h0M358.8 430.6h0M363.3 457.7h0M367.8 485.9h0M357.1 458.0h0M368.7 465.7h0M358.5 468.8h0M363.3 449.3h0M363.3 482.6h0M362.2 482.3h0M361.7 461.2h0M360.6 482.2h0M359.6 501.1h0M367.8 475.5h0M363.8 454.5h0M367.4 456.6h0M364.1 527.4h0M362.9 454.3h0M359.3 443.3h0M366.1 476.5h0M357.2 464.3h0M360.1 490.9h0M360.6 494.2h0M363.9 442.8h0M355.9 534.7h0M359.7 451.8h0M359.6 534.3h0M358.4 466.6h0M361.7 442.0h0M363.0 527.5h0M365.7 478.9h0M363.3 475.2h0M361.1 529.7h0M368.3 501.6h0M356.9 465.8h0M362.6 482.1h0M368.1 473.2h0M361.0 461.9h0M363.2 506.1h0M355.6 455.4h0M356.0 470.7h0M359.5 464.0h0M359.8 481.8h0M357.6 496.1h0M362.2 474.3h0M357.7 489.5h0M368.2 449.1h0M361.3 454.8h0M355.7 478.7h0M366.2 545.5h0M356.5 494.3h0M364.4 548.1h0M357.5 452.7h0M366.2 525.1h0M364.3 458.0h0M361.5 495.0h0M368.3 443.1h0M363.8 515.1h0M359.5 450.3h0M361.4 521.0h0M356.0 461.1h0M367.6 456.0h0M360.2 515.8h0M356.7 449.8h0M364.4 473.7h0M365.1 482.5h0M367.7 490.8h0M357.0 430.5h0M365.6 433.2h0M360.9 512.1h0M362.8 505.0h0M365.8 430.2h0M358.9 506.4h0M368.0 453.3h0M361.0 481.2h0M362.5 464.6h0M358.3 468.2h0M359.4 457.7h0M366.6 461.0h0M358.7 506.4h0M364.6 472.9h0M357.1 471.1h0M368.7 488.7h0M357.2 536.0h0M356.6 535.3h0M355.9 472.7h0M357.5 465.3h0M367.8 466.8h0M367.4 490.1h0M366.9 467.8h0M357.4 528.6h0M361.3 441.7h0M356.7 437.5h0M362.9 455.9h0M357.5 493.0h0M361.2 450.0h0M369.0 492.5h0M358.3 445.5h0M368.1 446.7h0M369.1 488.3h0M362.3 475.0h0M355.9 464.5h0M363.2 490.4h0M366.9 483.9h0M355.9 469.2h0M361.6 477.5h0M361.4 472.5h0M358.1 483.4h0M365.2 462.5h0M360.8 498.3h0M360.9 483.4h0M359.8 504.8h0M356.1 475.1h0M364.7 476.3h0M361.2 475.6h0M361.0 466.4h0M363.8 484.4h0M367.3 467.8h0M367.3 482.5h0M368.0 459.3h0M362.8 436.2h0M364.1 541.5h0M366.5 515.8h0M365.9 470.5h0M361.4 472.6h0M363.1 431.4h0M365.1 505.9h0M356.8 449.0h0M362.8 519.2h0M356.1 466.4h0M359.0 478.4h0M359.3 445.5h0M356.2 518.3h0M360.4 482.2h0M364.8 452.6h0M359.4 481.7h0M359.3 463.2h0M366.3 495.4h0M366.5 469.7h0M367.1 438.0h0M356.0 488.7h0M367.3 488.7h0M367.7 478.5h0M364.9 469.7h0M361.3 469.8h0M361.8 488.4h0M359.2 474.2h0M365.3 500.9h0M367.5 495.8h0M358.8 537.4h0M356.2 461.1h0M364.5 470.0h0M366.3 479.6h0M357.5 469.4h0M359.0 463.9h0M366.6 473.5h0M366.8 468.5h0M368.7 448.1h0M355.8 473.3h0M367.9 455.8h0M368.4 453.1h0M368.5 445.8h0M363.9 447.6h0M359.1 442.5h0M363.6 457.0h0M366.0 497.0h0M369.2 516.8h0M363.8 482.5h0M355.9 522.2h0M363.7 478.5h0M362.9 526.8h0M369.0 474.3h0M366.1 479.1h0M357.9 495.7h0M358.7 485.1h0M358.3 454.9h0M357.3 490.8h0M364.4 465.2h0M358.5 481.2h0M364.9 464.6h0M357.6 473.3h0M363.5 476.2h0M365.2 449.1h0M357.3 503.4h0M362.9 468.8h0M363.8 475.8h0M365.5 448.6h0M362.8 503.5h0M358.2 462.1h0M357.2 456.7h0M361.7 476.7h0M367.3 456.2h0M360.9 444.7h0M363.7 445.0h0M361.7 504.1h0M363.7 472.2h0M367.1 498.0h0M362.4 484.7h0M359.9 450.5h0M363.9 468.7h0M357.5 467.0h0M360.0 487.2h0M359.6 448.3h0M368.1 450.8h0" stroke="#a45fa8" stroke-width="2.3" stroke-linecap="round" fill="none" stroke-opacity="0.66"/>
<path d="M356.9 448.1h0M358.3 483.6h0M363.0 515.2h0M363.0 515.0h0M361.8 454.1h0M360.8 493.0h0M368.1 453.1h0M367.6 526.7h0M362.5 517.7h0M358.3 495.1h0M359.6 521.9h0M363.7 471.9h0M366.2 480.0h0M363.3 447.3h0M358.1 475.8h0M365.1 465.4h0M366.0 473.5h0M365.7 510.1h0M360.3 493.3h0M367.9 504.3h0M363.2 537.1h0M362.5 481.8h0M362.0 517.8h0M368.6 551.5h0M362.4 475.4h0M355.9 460.3h0M359.2 528.1h0M356.0 529.0h0M367.2 465.2h0M365.4 515.3h0M357.1 488.5h0M360.0 440.3h0M356.2 496.6h0M364.6 476.8h0M369.0 453.9h0M366.0 479.5h0M358.0 441.9h0M357.7 508.7h0M366.6 457.4h0M364.2 517.2h0M357.1 473.1h0M358.2 434.9h0M358.2 464.6h0M364.5 500.3h0M359.2 490.2h0M362.0 517.5h0M367.5 472.4h0M360.0 465.8h0M366.3 457.7h0M360.5 471.7h0M360.8 460.9h0M362.1 448.3h0M360.8 446.7h0M364.0 470.7h0M361.8 518.3h0M357.1 520.8h0M367.2 467.5h0M365.7 458.5h0M362.9 514.0h0M368.8 453.6h0M357.6 440.0h0M357.9 466.1h0M364.3 488.8h0M359.8 446.6h0M359.0 484.9h0M369.1 487.6h0M365.6 439.9h0M361.2 451.2h0M355.8 491.8h0M361.3 473.9h0M362.9 481.4h0M363.3 453.6h0M358.6 449.1h0M366.8 502.9h0M361.0 480.5h0M360.8 459.3h0M368.7 494.0h0M362.2 452.2h0M358.5 476.9h0M356.6 524.4h0M356.9 480.6h0M368.1 496.2h0M365.2 484.8h0M357.8 501.3h0M368.9 483.3h0M361.6 445.1h0M359.4 479.8h0M368.5 485.4h0M357.3 520.2h0M363.2 455.4h0M364.7 487.8h0M358.0 467.2h0M359.1 473.5h0M360.6 434.4h0M364.2 462.0h0M359.8 447.5h0M364.0 464.7h0M364.4 479.0h0M361.6 444.0h0M366.2 439.3h0M357.7 470.4h0M367.1 473.2h0M360.0 444.3h0M367.8 439.8h0M364.9 513.8h0M360.6 495.5h0M364.8 556.7h0M360.8 461.3h0M369.0 463.9h0M363.8 557.1h0M361.2 440.1h0M367.1 478.8h0M360.4 480.3h0M363.8 466.6h0M361.7 480.7h0M366.2 520.5h0M362.9 464.1h0M362.4 444.5h0M361.7 483.1h0M369.0 543.1h0M365.0 488.4h0M359.8 539.7h0M360.9 485.4h0M366.6 494.3h0M363.6 480.5h0M365.6 469.1h0M367.8 481.6h0M357.1 462.8h0M359.3 450.4h0M365.2 429.8h0M368.4 461.5h0M361.9 552.0h0M362.2 454.6h0M356.4 510.8h0M363.1 464.6h0M362.1 493.3h0M366.9 443.1h0M366.3 468.5h0M360.3 489.6h0M356.2 443.7h0M359.8 472.1h0M356.5 471.4h0M360.2 471.4h0M360.4 485.7h0M359.8 476.8h0M365.3 458.2h0M368.2 463.3h0M364.0 455.0h0M365.0 452.7h0M361.3 467.2h0M366.4 517.1h0M361.5 439.7h0M359.7 484.9h0M355.6 440.4h0M360.4 474.8h0M366.5 472.0h0M366.1 538.2h0M356.7 501.7h0M365.1 467.8h0M363.7 505.6h0M357.0 472.0h0M368.1 553.1h0M367.2 494.1h0M368.8 441.7h0M357.0 461.3h0M363.6 442.0h0M359.2 471.5h0M364.0 527.4h0M357.1 513.6h0M365.3 443.7h0M359.5 467.2h0M368.0 461.6h0M358.9 492.3h0M362.6 476.8h0M365.1 440.6h0M363.1 462.3h0M368.9 505.8h0M362.3 485.1h0M363.6 439.5h0M365.0 497.4h0M362.4 527.3h0M361.2 463.3h0M358.3 464.3h0M363.6 457.7h0M355.8 474.2h0M358.8 470.5h0M359.6 505.5h0M367.8 460.4h0M368.6 467.7h0M360.4 436.0h0M361.5 454.4h0M356.1 543.1h0M363.1 466.3h0M356.2 465.1h0M356.3 468.9h0M369.2 522.7h0M364.6 489.6h0M361.0 512.1h0M365.5 470.2h0M362.8 479.9h0M362.6 491.2h0M357.5 508.6h0M357.8 521.0h0M368.9 466.2h0M366.8 461.8h0M356.1 466.0h0M368.8 484.0h0M358.3 468.8h0M364.4 448.8h0M358.0 487.0h0M356.7 494.5h0M365.1 464.7h0M368.2 524.7h0M364.3 463.1h0M356.4 443.9h0M357.6 484.2h0M368.3 533.8h0M360.4 449.9h0M356.5 495.8h0M365.7 464.5h0M366.1 440.9h0M362.9 452.2h0M366.7 468.8h0M359.1 554.3h0M357.5 484.7h0M359.0 523.4h0M366.8 531.4h0M367.3 489.6h0M360.8 463.1h0M363.8 522.3h0M365.5 499.6h0M357.3 463.0h0M362.7 501.5h0M367.5 495.0h0M358.6 447.7h0M367.3 450.1h0M361.8 443.0h0M356.4 527.1h0M356.4 466.0h0M368.7 480.6h0M366.5 461.3h0M362.0 479.1h0M361.3 469.2h0M359.0 550.5h0M364.1 444.4h0M364.2 478.4h0M358.7 462.5h0M357.9 492.3h0M357.8 446.0h0M357.9 448.6h0M361.6 439.2h0M358.9 477.3h0M362.5 487.1h0M366.8 464.9h0M358.6 440.8h0M364.0 450.7h0M363.6 470.4h0M363.0 464.1h0M368.6 508.0h0M363.8 520.7h0M367.3 475.0h0M365.4 485.2h0M359.5 455.2h0M365.8 467.0h0M356.8 521.9h0M368.4 482.8h0M366.9 519.2h0M360.6 486.4h0M362.5 510.4h0M363.6 474.5h0M368.2 501.9h0M361.1 540.3h0M357.9 529.3h0M356.0 489.8h0M357.5 479.2h0M362.0 475.4h0M366.5 528.1h0M360.2 473.9h0M363.2 471.8h0M356.5 465.7h0M358.7 457.5h0M365.6 498.4h0M365.4 443.5h0M362.4 440.7h0M355.8 460.3h0M358.4 486.5h0M361.7 468.1h0M364.8 475.0h0M368.8 469.2h0M366.6 498.9h0M365.1 486.2h0M365.6 461.8h0M359.6 440.8h0M361.4 478.7h0M366.0 524.4h0M357.3 520.0h0M368.6 470.9h0M368.5 462.1h0M365.9 446.9h0M359.7 503.3h0M367.8 550.1h0M359.1 450.9h0M368.6 467.7h0M360.6 450.0h0M356.6 468.9h0M362.4 497.1h0M360.0 495.5h0M361.2 452.4h0M368.0 478.3h0M359.3 537.6h0M367.4 448.8h0M359.4 432.7h0M357.4 467.7h0M357.2 459.2h0M360.0 521.8h0M360.3 463.0h0M362.8 481.2h0M363.7 462.2h0M357.1 474.3h0M367.6 466.0h0M364.6 459.8h0M363.1 521.3h0M356.1 466.8h0M358.5 495.2h0M358.1 484.7h0M366.7 478.1h0M364.3 472.5h0M357.4 483.9h0M356.2 462.6h0M361.7 468.7h0M357.4 444.0h0M365.5 444.8h0M366.5 442.3h0M359.3 543.8h0M356.3 462.9h0M368.0 462.1h0M356.8 541.0h0M364.5 447.0h0M362.8 556.5h0M357.7 493.3h0M364.2 490.4h0M360.1 468.7h0M364.6 472.0h0M368.8 514.9h0M360.7 557.4h0M367.7 442.9h0M355.8 554.3h0M364.7 441.1h0M360.6 489.7h0M368.1 485.3h0" stroke="#a45fa8" stroke-width="2.3" stroke-linecap="round" fill="none" stroke-opacity="0.66"/>
<path d="M360.7 463.9h0M367.1 534.2h0M362.0 487.3h0M363.6 494.4h0M368.1 469.4h0M365.6 485.4h0M357.7 518.9h0M358.1 459.3h0M360.2 499.8h0M358.9 472.6h0M364.5 484.6h0M368.0 498.1h0M364.7 494.7h0M366.2 465.1h0M366.0 521.6h0M362.7 489.0h0M360.5 471.7h0M361.7 458.1h0M365.5 532.5h0M368.8 487.1h0M369.0 492.0h0M359.9 496.8h0M361.5 482.3h0M355.7 476.4h0M359.7 460.5h0M361.9 491.6h0M365.9 486.2h0M359.6 463.7h0M362.0 500.5h0M361.6 472.4h0M365.4 468.7h0M361.3 508.0h0M362.8 462.2h0M356.7 494.5h0M368.8 461.5h0M369.3 538.3h0M363.3 524.3h0M355.8 449.1h0M356.8 465.0h0M363.4 462.7h0M364.2 479.5h0M364.1 467.2h0M362.6 432.7h0M364.2 518.1h0M360.2 529.7h0M367.3 540.0h0M358.7 458.3h0M368.4 538.1h0M358.6 467.5h0M366.3 496.4h0M365.0 450.6h0M355.9 455.2h0M363.8 517.4h0M363.4 474.7h0M364.3 494.2h0M366.0 467.9h0M363.6 465.5h0M359.0 467.7h0M364.4 467.8h0M363.2 508.8h0M360.0 446.5h0M365.0 485.8h0M357.6 481.2h0M366.5 485.8h0M360.2 548.7h0M366.6 462.7h0M362.8 489.2h0M363.4 460.6h0M366.5 548.1h0M368.9 479.8h0M366.0 518.3h0M368.4 525.2h0M365.0 468.6h0M363.6 465.6h0M368.8 474.1h0M357.7 493.5h0M364.3 468.4h0M368.1 529.3h0M362.2 439.4h0M358.0 481.6h0M356.5 486.4h0M356.5 480.7h0M356.7 470.3h0M365.1 512.1h0M359.7 488.7h0M363.4 480.0h0M366.9 481.7h0M356.8 500.8h0M369.0 482.7h0M360.5 464.1h0M362.7 519.4h0M359.8 540.4h0M359.0 433.4h0M358.4 489.7h0M361.1 450.4h0M361.5 554.0h0M356.5 493.1h0M357.1 445.4h0M356.8 546.6h0M366.7 485.0h0M356.3 469.8h0M365.6 477.6h0M365.3 459.3h0M356.7 496.1h0M365.0 432.5h0M363.1 542.0h0M365.6 509.3h0M363.8 514.7h0M361.3 465.6h0M362.2 472.5h0M360.6 442.6h0M360.8 454.2h0M356.0 492.2h0M367.2 455.2h0M361.5 482.4h0M366.4 440.3h0M363.4 475.5h0M364.6 452.5h0M364.4 524.8h0M364.4 483.8h0M365.2 452.0h0M360.4 454.4h0M358.5 459.2h0M362.7 526.0h0M361.4 467.7h0M361.5 508.9h0M364.0 484.8h0M369.2 557.1h0M363.7 460.9h0M357.1 488.2h0M358.0 490.4h0M363.9 552.9h0M368.8 540.1h0M362.9 488.1h0M360.6 491.8h0M368.3 490.6h0M357.0 540.8h0M358.3 490.6h0M362.7 479.5h0M357.2 488.8h0M360.1 547.4h0M355.9 492.0h0M361.5 495.1h0M360.5 473.5h0M362.7 458.8h0M367.5 497.7h0M363.4 474.0h0M361.5 452.9h0M368.4 482.3h0M362.6 446.9h0M358.7 469.6h0M356.8 472.7h0M361.1 469.3h0M361.2 463.0h0M362.3 461.2h0M358.3 539.0h0M364.6 447.4h0M367.3 471.5h0M367.8 437.7h0M368.0 460.4h0M366.6 481.5h0M366.9 452.5h0M359.6 465.1h0M368.8 453.1h0M356.6 457.9h0M359.0 494.4h0M366.6 460.4h0M366.8 443.6h0M356.6 460.3h0M360.7 481.0h0M359.1 545.7h0M364.1 444.8h0M366.9 467.9h0M358.7 485.3h0M363.6 454.5h0M360.3 455.5h0M355.6 473.1h0M357.4 492.3h0M356.6 469.1h0M361.1 445.0h0M357.0 496.3h0M367.3 473.5h0M361.7 496.2h0M365.1 459.5h0M366.7 476.2h0M364.7 468.4h0M367.4 511.3h0M362.1 461.4h0M358.8 528.2h0M363.1 486.4h0M355.6 469.3h0M356.0 493.9h0M365.7 468.9h0M366.5 439.6h0M356.5 486.1h0M361.2 479.4h0M367.8 509.3h0M358.7 467.2h0M363.7 468.9h0M357.8 482.0h0M365.4 458.4h0M363.2 442.6h0M366.4 453.6h0M359.8 463.5h0M363.3 487.2h0M355.8 498.9h0M360.2 453.0h0M362.0 473.9h0M358.8 488.3h0M368.7 508.1h0M356.6 453.9h0M358.3 442.4h0M365.3 474.5h0M363.0 493.3h0M358.0 488.9h0M364.2 476.8h0M361.8 477.7h0M356.5 464.7h0M365.3 504.4h0M359.9 452.8h0M366.1 477.4h0M364.6 536.4h0M360.0 514.5h0M359.8 476.3h0M361.4 520.7h0M362.9 499.6h0M367.5 477.5h0M367.3 493.0h0M358.4 474.6h0M360.8 497.1h0M355.7 434.3h0M361.6 496.0h0M362.2 500.4h0M369.0 485.5h0M361.2 509.2h0M360.2 466.4h0M366.6 472.3h0M358.0 550.5h0M364.0 522.2h0M365.6 450.5h0M369.0 451.1h0M358.4 467.1h0M357.0 539.0h0M366.0 450.9h0M361.5 457.8h0M365.3 487.1h0M366.3 441.3h0M366.0 441.1h0M358.1 448.8h0M367.3 466.4h0M357.4 448.7h0M366.6 485.3h0M364.9 488.7h0M367.0 474.0h0M360.4 511.6h0M362.8 469.8h0M369.2 476.1h0M359.1 460.2h0M360.4 449.5h0M356.6 475.3h0M366.6 464.7h0M358.5 477.4h0M368.5 454.2h0M367.1 475.6h0M356.3 450.6h0M358.3 467.2h0M366.3 477.1h0M358.2 477.9h0M359.8 513.5h0M363.9 461.3h0M357.2 489.0h0M364.4 477.0h0M363.2 479.2h0M358.9 438.7h0M358.0 445.6h0M368.1 442.0h0M365.4 456.9h0M356.6 483.7h0M366.9 469.3h0M356.0 439.4h0M368.1 479.2h0M363.5 463.6h0M365.8 440.3h0M365.6 473.4h0M367.6 456.4h0M356.7 481.1h0M366.3 438.4h0M360.5 440.4h0M359.2 472.8h0M366.6 493.4h0M365.7 516.7h0M366.2 469.0h0M364.2 495.8h0M367.9 479.0h0M359.5 496.0h0M365.6 512.6h0M368.8 439.0h0M360.2 500.1h0M361.4 464.0h0M358.7 492.8h0M357.3 470.7h0M363.7 440.6h0M366.8 464.8h0M357.9 490.6h0M360.7 473.3h0M368.1 454.0h0M367.4 468.5h0M360.1 487.5h0M364.6 528.2h0M356.3 470.5h0M360.8 480.1h0M359.2 444.2h0M362.4 446.6h0M357.5 501.8h0M366.4 476.9h0M356.9 466.8h0M364.0 451.7h0M358.0 476.7h0M365.2 474.9h0M361.1 481.3h0M357.8 480.0h0M367.9 496.0h0M358.1 480.0h0M368.6 543.1h0M369.0 448.9h0M364.1 491.9h0M355.6 496.1h0M356.6 440.8h0M359.2 468.4h0M367.7 486.1h0M367.2 440.4h0M360.3 436.5h0M365.6 491.5h0M367.0 477.8h0M357.7 451.4h0M364.5 476.7h0M368.8 484.1h0M364.1 465.9h0M356.3 483.7h0M359.3 459.0h0M360.5 448.9h0M359.9 501.4h0M358.6 479.5h0M366.1 472.5h0M356.2 494.5h0M365.7 451.2h0M360.3 453.4h0M368.7 440.0h0M356.6 449.5h0M355.7 461.0h0" stroke="#a45fa8" stroke-width="2.3" stroke-linecap="round" fill="none" stroke-opacity="0.66"/>
<rect x="349.88" y="460.74" width="25.09" height="32.93" fill="none" stroke="#c29ac6" stroke-width="0.8"/>
<line x1="349.88" y1="474.18" x2="374.96" y2="474.18" stroke="#c29ac6" stroke-width="1.2"/>
<line x1="396.78" y1="432.52" x2="396.78" y2="478.22" stroke="#d6cc52" stroke-width="0.8"/>
<line x1="396.78" y1="516.52" x2="396.78" y2="556.84" stroke="#d6cc52" stroke-width="0.8"/>
<path d="M397.4 438.5h0M396.0 480.6h0M391.1 508.4h0M394.4 484.9h0M397.8 493.5h0M396.4 479.4h0M395.0 487.9h0M392.8 537.4h0M393.1 491.1h0M394.9 508.6h0M403.2 446.0h0M397.9 510.9h0M401.4 532.4h0M402.3 524.4h0M399.1 532.8h0M393.4 519.2h0M396.1 501.5h0M401.9 457.4h0M398.5 507.1h0M403.5 527.0h0M397.6 484.1h0M401.6 479.3h0M391.9 438.3h0M393.3 486.1h0M397.5 505.3h0M399.5 493.7h0M396.6 535.4h0M394.0 487.4h0M394.7 468.0h0M398.1 487.6h0M399.2 482.9h0M391.9 450.8h0M396.8 542.3h0M398.9 495.9h0M392.8 478.4h0M391.0 546.7h0M400.9 537.9h0M402.4 495.2h0M390.5 524.5h0M394.2 537.4h0M400.9 506.9h0M398.3 539.0h0M403.2 480.2h0M398.8 468.5h0M392.9 446.3h0M398.4 484.2h0M403.3 515.1h0M402.2 468.0h0M402.0 539.3h0M401.6 488.2h0M394.5 492.4h0M396.2 548.0h0M395.0 492.1h0M392.5 535.8h0M398.2 491.5h0M394.8 437.6h0M396.3 480.2h0M399.4 470.2h0M401.9 506.8h0M401.2 444.9h0M395.1 488.2h0M391.0 461.0h0M400.8 490.0h0M392.1 500.5h0M399.7 526.0h0M390.4 453.5h0M396.8 509.8h0M394.2 548.5h0M394.1 497.5h0M398.2 528.8h0M393.6 513.2h0M402.9 436.8h0M390.0 468.6h0M393.8 485.7h0M395.5 491.1h0M392.7 434.9h0M397.8 482.3h0M402.3 483.4h0M392.8 499.6h0M398.8 468.6h0M399.6 501.5h0M399.8 536.6h0M395.4 460.0h0M400.1 553.2h0M395.8 537.1h0M390.3 480.3h0M393.3 461.6h0M399.3 465.3h0M396.1 451.7h0M396.6 481.7h0M396.0 434.1h0M393.6 532.0h0M390.4 491.7h0" stroke="#c7bd2c" stroke-width="2.3" stroke-linecap="round" fill="none" stroke-opacity="0.66"/>
<rect x="384.24" y="478.22" width="25.09" height="38.30" fill="none" stroke="#d6cc52" stroke-width="0.8"/>
<line x1="384.24" y1="493.00" x2="409.32" y2="493.00" stroke="#d6cc52" stroke-width="1.2"/>
<line x1="441.95" y1="427.14" x2="441.95" y2="464.10" stroke="#c29ac6" stroke-width="0.8"/>
<line x1="441.95" y1="506.44" x2="441.95" y2="558.86" stroke="#c29ac6" stroke-width="0.8"/>
<path d="M448.1 472.2h0M444.3 470.0h0M436.5 490.3h0M439.9 434.5h0M448.8 487.4h0M442.6 543.8h0M436.5 477.0h0M443.0 489.3h0M446.2 463.7h0M435.1 517.9h0M436.4 524.2h0M446.1 494.9h0M446.0 454.6h0M442.1 452.4h0M442.5 429.1h0M438.8 474.6h0M443.6 468.7h0M439.8 484.2h0M445.1 492.4h0M442.5 456.8h0M447.8 461.8h0M439.1 453.8h0M438.5 471.8h0M438.7 479.9h0M445.5 548.2h0M444.5 538.7h0M440.1 482.0h0M441.2 489.1h0M439.0 546.0h0M446.0 432.0h0M437.9 439.1h0M443.5 490.2h0M442.6 497.4h0M440.9 477.8h0M439.0 437.8h0M447.2 490.7h0M442.0 517.4h0M438.3 500.9h0M435.5 448.5h0M445.3 447.3h0M443.6 488.9h0M446.5 494.1h0M435.6 448.5h0M435.5 495.0h0M441.1 498.0h0M437.2 449.4h0M436.9 454.5h0M443.7 494.8h0M438.3 478.4h0M436.8 530.5h0M445.3 486.5h0M436.4 461.7h0M437.4 466.8h0M438.5 551.3h0M444.9 474.3h0M444.4 476.3h0M437.8 449.4h0M447.7 438.5h0M439.3 492.2h0M442.5 465.3h0M435.6 488.9h0M443.0 495.5h0M439.4 533.2h0M437.3 489.4h0M442.0 505.4h0M444.0 461.4h0M441.4 460.4h0M436.2 542.1h0M442.3 471.2h0M438.8 437.9h0M443.1 498.6h0M441.4 446.3h0M440.0 485.1h0M442.0 479.3h0M437.3 454.0h0M435.5 539.3h0M445.5 486.0h0" stroke="#a45fa8" stroke-width="2.3" stroke-linecap="round" fill="none" stroke-opacity="0.66"/>
<path d="M442.1 455.2h0M448.4 463.1h0M442.3 443.5h0M436.0 501.3h0M443.3 428.8h0M441.6 454.1h0M444.1 450.5h0M437.6 437.7h0M440.3 555.3h0M439.8 487.7h0M439.5 470.0h0M446.9 530.7h0M441.7 536.5h0M443.1 468.8h0M443.5 490.4h0M439.8 478.8h0M438.1 479.1h0M440.3 464.3h0M435.4 494.7h0M445.5 439.8h0M439.1 439.4h0M435.7 508.7h0M438.4 530.1h0M447.9 472.4h0M435.7 488.3h0M447.9 551.1h0M436.7 482.9h0M438.3 556.6h0M441.7 554.9h0M435.7 516.8h0M444.8 468.0h0M448.5 485.1h0M443.7 465.9h0M448.3 506.2h0M446.3 474.3h0M446.1 505.6h0M441.2 558.6h0M443.8 549.0h0M448.0 551.3h0M443.5 476.6h0M447.6 528.3h0M447.9 525.8h0M445.0 500.9h0M446.7 476.9h0M447.1 498.9h0M438.1 521.0h0M436.4 472.8h0M444.4 501.1h0M439.6 541.5h0M445.4 458.8h0M442.4 518.5h0M447.7 464.4h0M437.9 493.1h0M437.8 501.3h0M446.0 454.3h0M435.2 447.0h0M435.4 445.4h0M446.6 485.4h0M445.7 435.7h0M444.4 549.5h0M441.7 452.9h0M442.7 457.4h0M443.5 455.3h0M438.0 503.5h0M440.9 448.0h0M438.6 474.2h0M446.7 484.0h0M435.8 484.6h0M435.7 470.2h0M436.3 436.1h0M436.0 494.3h0M448.5 527.2h0M441.7 474.0h0M447.0 491.7h0M447.1 440.6h0M438.7 524.1h0M444.1 468.0h0" stroke="#a45fa8" stroke-width="2.3" stroke-linecap="round" fill="none" stroke-opacity="0.66"/>
<path d="M446.7 444.8h0M445.8 438.0h0M437.5 483.9h0M441.5 486.7h0M440.1 444.3h0M445.8 527.0h0M448.3 437.7h0M448.0 532.4h0M444.0 468.9h0M436.6 467.2h0M441.5 474.5h0M435.7 451.8h0M443.7 440.7h0M436.9 479.5h0M437.0 489.3h0M446.5 477.6h0M440.0 500.0h0M448.3 509.2h0M440.3 487.5h0M438.5 479.8h0M446.4 529.2h0M438.6 501.2h0M435.5 495.0h0M447.0 531.8h0M437.2 468.8h0M438.7 496.4h0M442.5 444.8h0M444.4 552.6h0M437.6 481.1h0M444.5 501.0h0M444.6 543.7h0M435.9 494.5h0M445.3 465.9h0M442.1 475.0h0M448.5 432.8h0M438.4 483.7h0M446.8 470.5h0M437.4 469.0h0M438.7 460.8h0M446.1 468.7h0M441.5 537.5h0M436.6 472.7h0M439.2 461.2h0M440.8 483.2h0M440.9 439.2h0M444.6 484.6h0M442.2 473.2h0M442.6 463.6h0M439.1 505.0h0M437.4 464.7h0M442.2 481.1h0M439.1 471.2h0M437.1 501.3h0M435.9 498.2h0M437.1 519.9h0M440.8 471.1h0M446.6 470.1h0M439.9 464.2h0M448.2 510.6h0M441.2 520.0h0M442.9 506.1h0M446.0 531.2h0M441.3 454.1h0M440.6 484.2h0M444.0 504.0h0M435.1 494.8h0M448.5 484.5h0M439.7 471.0h0M446.4 478.6h0M443.6 467.0h0M444.5 453.2h0M438.0 503.6h0M445.9 466.8h0M441.1 523.4h0M445.4 474.9h0M445.6 479.7h0M437.7 528.9h0" stroke="#a45fa8" stroke-width="2.3" stroke-linecap="round" fill="none" stroke-opacity="0.66"/>
<path d="M439.5 499.2h0M442.0 479.8h0M441.6 445.0h0M437.1 491.3h0M440.7 467.5h0M436.3 466.8h0M441.4 499.2h0M435.5 506.3h0M436.3 549.2h0M442.4 472.1h0M446.3 472.3h0M446.3 519.1h0M437.4 473.5h0M444.7 487.0h0M439.3 500.8h0M435.6 504.8h0M435.9 483.6h0M445.4 463.0h0M439.4 501.5h0M443.1 438.5h0M443.9 529.2h0M448.8 450.7h0M440.1 461.4h0M443.2 548.7h0M441.6 475.7h0M447.3 531.2h0M443.3 463.4h0M448.0 556.3h0M442.5 438.1h0M441.5 442.8h0M448.6 431.5h0M438.8 483.6h0M441.7 534.1h0M441.8 522.1h0M442.8 474.3h0M441.8 501.9h0M441.0 550.6h0M435.2 431.8h0M444.5 436.6h0M436.5 514.9h0M440.5 464.4h0M438.9 465.1h0M446.4 461.8h0M442.7 487.3h0M445.9 472.7h0M448.6 466.4h0M435.8 438.3h0M441.6 489.1h0M439.2 443.7h0M438.9 463.4h0M446.2 548.1h0M447.3 490.6h0M441.5 466.1h0M444.2 530.7h0M435.3 475.9h0M439.0 504.0h0M448.4 558.8h0M435.6 467.4h0M439.6 478.6h0M444.2 534.4h0M436.5 542.5h0M448.8 445.9h0M448.1 535.3h0M447.0 474.3h0M439.3 468.7h0M448.3 473.7h0M447.8 511.5h0M443.1 478.4h0M438.5 513.7h0M441.8 540.0h0M436.6 467.1h0M439.0 436.1h0M439.1 439.1h0M442.6 491.4h0M438.4 461.4h0M439.8 547.3h0" stroke="#a45fa8" stroke-width="2.3" stroke-linecap="round" fill="none" stroke-opacity="0.66"/>
<rect x="429.39" y="464.10" width="25.12" height="42.34" fill="none" stroke="#c29ac6" stroke-width="0.8"/>
<line x1="429.39" y1="480.90" x2="454.50" y2="480.90" stroke="#c29ac6" stroke-width="1.2"/>
<line x1="476.35" y1="462.76" x2="476.35" y2="483.59" stroke="#d6cc52" stroke-width="0.8"/>
<line x1="476.35" y1="515.85" x2="476.35" y2="554.82" stroke="#d6cc52" stroke-width="0.8"/>
<path d="M481.2 509.3h0M471.7 544.2h0M479.0 491.2h0M482.7 494.8h0M482.9 506.2h0M478.9 492.5h0M477.1 511.5h0M481.8 526.4h0M477.7 481.8h0M475.9 475.2h0M471.7 470.9h0M478.0 468.3h0M471.6 547.3h0M473.0 474.4h0M481.8 533.4h0M477.5 520.9h0M472.4 472.5h0M475.1 508.2h0M481.6 507.2h0M470.6 500.1h0M470.5 478.8h0M475.6 523.1h0M469.9 466.6h0M483.1 500.5h0M479.7 520.0h0M474.5 462.9h0M476.5 512.2h0" stroke="#c7bd2c" stroke-width="2.3" stroke-linecap="round" fill="none" stroke-opacity="0.66"/>
<rect x="463.80" y="483.59" width="25.12" height="32.26" fill="none" stroke="#d6cc52" stroke-width="0.8"/>
<line x1="463.80" y1="503.75" x2="488.91" y2="503.75" stroke="#d6cc52" stroke-width="1.2"/>
<rect x="341.80" y="408.30" width="75.60" height="12.00" fill="#fff" stroke="#333" stroke-width="0.9"/>
<text x="379.6" y="416.5" font-size="6.3" text-anchor="middle" fill="#1a1a1a" >Discovery</text>
<line x1="341.80" y1="566.90" x2="417.40" y2="566.90" stroke="#333" stroke-width="0.9" />
<line x1="362.42" y1="566.90" x2="362.42" y2="569.10" stroke="#333" stroke-width="0.8" />
<text transform="translate(362.4 575.5) scale(1 1.12)" x="0" y="0" font-size="6.2" text-anchor="middle" fill="#4d4d4d">CMV+</text>
<line x1="396.78" y1="566.90" x2="396.78" y2="569.10" stroke="#333" stroke-width="0.8" />
<text transform="translate(396.8 575.5) scale(1 1.12)" x="0" y="0" font-size="6.2" text-anchor="middle" fill="#4d4d4d">CMV-</text>
<rect x="421.30" y="408.30" width="75.70" height="12.00" fill="#fff" stroke="#333" stroke-width="0.9"/>
<text x="459.1" y="416.5" font-size="6.3" text-anchor="middle" fill="#1a1a1a" >Validation</text>
<line x1="421.30" y1="566.90" x2="497.00" y2="566.90" stroke="#333" stroke-width="0.9" />
<line x1="441.95" y1="566.90" x2="441.95" y2="569.10" stroke="#333" stroke-width="0.8" />
<text transform="translate(441.9 575.5) scale(1 1.12)" x="0" y="0" font-size="6.2" text-anchor="middle" fill="#4d4d4d">CMV+</text>
<line x1="476.35" y1="566.90" x2="476.35" y2="569.10" stroke="#333" stroke-width="0.8" />
<text transform="translate(476.4 575.5) scale(1 1.12)" x="0" y="0" font-size="6.2" text-anchor="middle" fill="#4d4d4d">CMV-</text>
<path d="M362.42 430.50 V427.30 H396.78 V430.50" fill="none" stroke="#666" stroke-width="0.6"/>
<text x="379.6" y="426.4" font-size="7.0" text-anchor="middle" fill="#1a1a1a" >1.597178e-08</text>
<path d="M441.95 430.50 V427.30 H476.35 V430.50" fill="none" stroke="#666" stroke-width="0.6"/>
<text x="459.1" y="426.4" font-size="7.0" text-anchor="middle" fill="#1a1a1a" >0.007243799</text>
<line x1="341.80" y1="420.30" x2="341.80" y2="567.35" stroke="#333" stroke-width="0.9" />
<line x1="339.60" y1="560.20" x2="341.80" y2="560.20" stroke="#333" stroke-width="0.8" />
<text transform="translate(338.8 562.7) scale(1 1.15)" x="0" y="0" font-size="6.3" text-anchor="end" fill="#4d4d4d">3.5</text>
<line x1="339.60" y1="526.60" x2="341.80" y2="526.60" stroke="#333" stroke-width="0.8" />
<text transform="translate(338.8 529.1) scale(1 1.15)" x="0" y="0" font-size="6.3" text-anchor="end" fill="#4d4d4d">4.0</text>
<line x1="339.60" y1="493.00" x2="341.80" y2="493.00" stroke="#333" stroke-width="0.8" />
<text transform="translate(338.8 495.5) scale(1 1.15)" x="0" y="0" font-size="6.3" text-anchor="end" fill="#4d4d4d">4.5</text>
<line x1="339.60" y1="459.40" x2="341.80" y2="459.40" stroke="#333" stroke-width="0.8" />
<text transform="translate(338.8 461.9) scale(1 1.15)" x="0" y="0" font-size="6.3" text-anchor="end" fill="#4d4d4d">5.0</text>
<line x1="339.60" y1="425.80" x2="341.80" y2="425.80" stroke="#333" stroke-width="0.8" />
<text transform="translate(338.8 428.3) scale(1 1.15)" x="0" y="0" font-size="6.3" text-anchor="end" fill="#4d4d4d">5.5</text>
<text x="325.3" y="493.5" font-size="7.8" font-weight="bold" text-anchor="middle" fill="#111" transform="rotate(-90 325.3 493.5)">log10( 24h_il8_cmv)</text>
<text x="418.2" y="584.6" font-size="7.65" text-anchor="middle" fill="#111" font-weight="bold" >CMV_IgG_Serology</text>
<line x1="547.67" y1="432.76" x2="547.67" y2="468.31" stroke="#c29ac6" stroke-width="0.8"/>
<line x1="547.67" y1="491.00" x2="547.67" y2="524.71" stroke="#c29ac6" stroke-width="0.8"/>
<path d="M541.6 477.2h0M546.9 475.1h0M554.1 470.9h0M543.9 474.7h0M543.5 483.2h0M553.6 484.7h0M546.5 467.1h0M549.3 554.8h0M546.9 457.5h0M550.9 474.8h0M549.2 492.0h0M544.3 470.6h0M551.8 492.8h0M545.7 481.8h0M544.3 475.1h0M541.9 468.9h0M548.3 475.7h0M549.7 464.2h0M543.8 465.5h0M542.3 513.0h0M544.9 447.9h0M543.2 488.1h0M543.1 489.2h0M552.9 474.5h0M547.8 468.9h0M554.3 482.2h0M551.2 488.9h0M543.9 477.2h0M551.4 472.8h0M546.7 455.9h0M552.6 551.8h0M552.7 459.6h0M547.2 475.5h0M545.0 481.6h0M543.5 476.3h0M543.8 486.8h0M544.6 498.6h0M552.0 483.4h0M553.8 554.2h0M544.1 478.0h0M551.0 473.8h0M553.1 485.9h0M547.8 471.8h0M549.8 475.4h0M554.3 488.6h0M551.0 473.9h0M547.3 478.4h0M541.5 484.8h0M546.0 542.1h0M542.6 470.6h0M552.7 454.7h0M549.3 496.2h0M543.6 469.4h0M541.5 478.4h0M551.8 486.5h0M545.3 483.1h0M549.5 472.9h0M548.2 457.9h0M543.8 510.0h0M553.4 469.0h0M549.8 529.0h0M549.2 484.4h0M541.2 482.7h0M551.4 455.6h0M548.9 473.4h0M553.4 477.7h0M552.9 463.2h0M550.1 473.8h0M546.3 504.7h0M544.0 454.6h0M553.9 483.6h0M550.9 486.8h0M549.2 512.9h0M548.8 442.7h0M551.6 460.3h0M551.2 485.6h0M544.6 488.6h0M547.1 544.0h0M547.8 489.3h0M553.0 505.2h0M542.9 498.1h0M550.1 461.7h0M553.8 459.9h0M551.7 470.0h0M544.1 504.9h0M552.4 453.8h0M546.5 534.2h0M545.5 483.7h0M548.0 463.7h0M551.8 471.1h0M549.6 484.5h0M542.5 532.6h0M553.4 459.3h0M541.7 446.6h0M545.7 479.7h0M553.6 469.7h0M553.6 481.2h0M544.3 453.3h0M547.3 477.0h0M549.1 457.7h0M540.9 514.4h0M554.1 459.9h0M545.3 483.4h0M546.0 469.2h0M545.7 475.5h0M541.1 449.8h0M549.3 457.7h0M549.0 477.8h0M554.0 474.2h0M546.1 454.7h0M548.9 460.5h0M543.1 467.1h0M553.9 529.5h0M547.9 476.3h0M548.2 475.1h0M545.6 513.1h0M543.7 455.5h0M545.3 456.9h0M551.0 468.1h0M553.8 484.1h0M548.5 478.6h0M546.2 466.8h0M547.3 464.0h0M552.6 468.7h0M552.5 484.6h0M550.9 491.6h0M553.8 512.5h0M546.9 463.0h0M553.4 484.4h0M552.4 528.0h0M549.7 494.4h0M544.7 474.8h0M544.6 455.9h0M546.4 488.2h0M544.2 475.2h0M546.8 513.9h0M544.3 495.7h0M549.6 458.5h0M551.5 472.3h0M544.7 458.8h0M552.9 490.5h0M542.2 468.2h0M553.6 478.3h0M553.3 456.2h0M548.8 467.4h0M548.8 476.4h0M548.0 518.1h0M548.5 463.5h0M551.9 456.7h0M550.8 473.1h0M553.5 477.7h0M547.6 542.9h0M552.7 459.7h0M553.8 481.8h0M544.8 529.5h0M543.8 462.6h0M547.6 467.1h0M545.8 467.7h0M548.3 469.8h0M552.3 448.2h0M546.9 470.6h0M548.7 489.5h0M545.4 455.1h0M551.7 480.2h0M541.9 470.3h0M548.2 457.4h0M549.0 532.5h0M542.9 474.1h0M554.0 479.0h0M541.8 465.7h0M549.7 462.1h0M543.9 503.8h0M541.3 482.6h0M544.2 468.7h0M547.6 488.5h0M548.3 487.4h0M550.9 509.8h0M544.1 485.8h0M547.5 481.2h0M553.3 486.1h0M547.4 458.1h0M545.2 485.0h0M541.6 484.0h0M553.6 489.5h0M552.9 484.6h0M542.2 503.9h0M548.6 475.3h0M552.5 536.9h0M554.2 488.1h0M548.7 493.9h0M548.1 496.4h0M547.9 454.9h0M544.0 470.0h0M544.6 462.1h0M544.3 459.0h0M540.8 507.9h0M548.4 482.7h0M541.9 459.3h0M545.8 477.4h0M546.0 542.8h0M541.4 479.4h0M552.6 533.9h0M554.5 477.3h0M552.1 478.3h0M548.8 458.5h0M542.8 502.3h0M543.3 489.1h0M553.2 467.4h0M546.8 467.6h0M552.1 460.5h0M549.5 485.5h0M550.2 478.4h0M548.1 471.4h0M543.2 519.3h0M550.4 470.3h0M545.4 519.5h0M547.2 509.2h0M542.4 452.0h0M544.8 501.2h0M541.2 471.2h0M542.2 485.2h0M543.8 486.0h0M542.2 464.8h0M543.1 475.4h0M546.1 486.4h0M541.2 501.7h0M549.1 456.6h0M551.6 486.6h0M545.6 474.8h0M553.4 483.6h0M553.7 478.4h0M547.3 543.6h0M542.9 477.6h0M547.0 469.8h0M541.2 454.9h0M544.8 474.5h0M551.2 466.9h0M553.3 478.7h0M545.7 478.4h0M552.2 541.4h0M544.7 465.8h0M549.2 445.2h0M554.2 546.1h0M551.1 505.2h0M547.2 479.8h0M544.4 469.0h0M550.7 482.3h0M553.7 484.3h0M545.1 457.5h0M544.1 513.8h0M547.4 470.0h0M541.7 441.7h0M542.7 490.9h0M551.2 534.2h0M541.0 488.8h0M543.2 468.0h0M547.8 505.1h0M550.1 468.5h0M542.0 470.2h0M551.9 495.1h0M549.8 457.3h0M548.0 479.2h0M545.9 494.9h0M550.8 455.1h0M541.8 483.2h0M549.1 475.8h0M551.6 457.7h0M542.6 486.5h0M546.8 506.2h0M551.6 457.2h0M551.3 471.3h0M546.8 477.2h0M551.9 478.3h0M545.9 453.1h0M543.4 468.3h0M545.2 537.6h0M541.0 456.1h0M548.6 460.5h0M543.5 471.5h0M541.1 492.3h0M548.7 470.1h0M549.2 476.5h0M550.8 516.7h0M542.3 462.3h0M547.3 481.7h0M548.2 479.4h0M550.1 482.3h0M544.1 458.2h0M548.5 545.0h0M548.0 536.2h0M547.1 476.0h0M542.5 450.6h0M543.5 490.0h0M544.1 542.0h0M550.4 484.2h0M542.3 475.3h0M543.8 477.4h0M549.6 455.2h0M543.1 500.5h0M543.6 460.8h0M551.5 466.6h0M548.4 473.9h0M554.1 455.5h0M550.8 469.1h0M544.7 462.7h0M545.3 453.8h0M552.9 532.9h0M554.2 496.4h0M548.9 463.9h0M548.7 494.8h0M541.5 479.9h0M542.0 473.8h0M553.2 502.3h0M540.9 559.6h0M549.9 461.7h0M548.7 489.6h0M554.6 466.0h0M544.8 525.7h0M546.4 470.8h0M548.8 480.2h0M548.3 473.4h0M545.1 493.2h0M552.8 485.9h0M546.7 461.2h0M545.7 497.2h0M553.0 457.7h0M547.4 504.5h0M551.7 518.3h0M543.6 522.8h0M552.7 540.8h0M546.6 469.8h0M548.3 467.6h0M553.5 452.8h0M540.8 481.9h0M545.8 475.2h0M545.5 559.2h0M542.8 511.8h0M551.0 502.9h0M547.5 449.5h0M545.4 475.8h0M544.9 457.0h0M542.4 472.4h0M541.9 490.6h0M545.2 483.7h0M552.9 533.8h0M545.3 492.1h0M550.9 512.2h0M550.6 495.9h0M541.0 468.3h0M551.2 464.3h0" stroke="#a45fa8" stroke-width="2.3" stroke-linecap="round" fill="none" stroke-opacity="0.66"/>
<path d="M551.5 475.3h0M544.3 488.3h0M546.9 485.4h0M554.1 559.8h0M546.3 532.1h0M549.3 463.1h0M550.3 455.9h0M545.5 470.0h0M553.4 489.9h0M542.9 488.9h0M550.6 485.5h0M544.3 470.6h0M553.0 557.4h0M550.7 488.6h0M542.5 456.6h0M542.8 516.7h0M551.6 472.9h0M554.1 491.3h0M547.7 512.3h0M552.5 474.6h0M545.7 484.4h0M544.7 476.4h0M540.9 471.2h0M550.8 458.5h0M551.5 480.9h0M547.4 481.5h0M551.6 472.1h0M549.6 478.4h0M544.1 481.0h0M543.9 484.2h0M541.3 480.4h0M540.9 463.5h0M553.2 439.3h0M550.0 480.7h0M550.7 475.6h0M541.7 440.9h0M550.9 471.7h0M554.1 461.2h0M550.9 453.2h0M549.2 467.4h0M542.8 516.0h0M548.8 477.7h0M550.0 459.9h0M549.0 504.0h0M552.7 494.1h0M552.7 461.9h0M552.1 478.1h0M542.3 462.4h0M541.6 506.7h0M553.3 471.5h0M545.2 486.0h0M541.2 477.9h0M545.6 499.3h0M547.7 462.6h0M542.4 473.4h0M548.1 514.3h0M551.7 435.5h0M542.3 495.8h0M542.8 466.4h0M551.0 471.8h0M542.3 480.6h0M541.1 474.3h0M549.5 543.9h0M544.1 478.8h0M550.3 488.9h0M551.0 477.6h0M552.4 496.5h0M540.8 472.2h0M549.6 438.3h0M545.1 484.8h0M545.4 455.3h0M544.7 516.3h0M544.4 473.7h0M554.3 466.2h0M553.7 445.8h0M549.4 474.9h0M553.6 479.7h0M541.3 534.5h0M541.7 519.2h0M543.9 481.6h0M550.3 457.9h0M545.2 485.1h0M548.8 481.0h0M542.9 480.8h0M544.5 472.4h0M551.0 495.9h0M548.4 465.8h0M542.5 468.5h0M545.8 472.0h0M543.5 466.9h0M553.7 470.6h0M544.3 554.6h0M551.0 461.3h0M542.2 481.3h0M544.1 441.2h0M548.2 455.6h0M547.1 494.6h0M548.8 461.1h0M541.9 486.0h0M553.2 472.1h0M554.4 544.2h0M552.2 469.6h0M552.7 455.9h0M542.2 473.6h0M542.4 481.2h0M550.4 508.0h0M547.9 459.5h0M548.2 454.7h0M542.4 466.9h0M543.2 476.2h0M544.9 473.8h0M547.6 469.2h0M550.7 490.6h0M542.1 458.8h0M552.1 486.4h0M541.5 479.5h0M543.1 480.9h0M550.5 478.5h0M542.8 474.7h0M549.4 477.9h0M548.8 471.6h0M544.0 479.6h0M548.2 493.9h0M550.4 466.4h0M548.6 468.5h0M550.6 499.6h0M544.1 481.7h0M553.0 505.8h0M554.5 495.8h0M544.0 483.0h0M543.0 454.7h0M549.1 469.2h0M549.7 461.2h0M546.7 459.7h0M550.4 471.9h0M550.0 463.6h0M550.3 471.8h0M543.6 460.3h0M548.6 510.3h0M543.0 459.8h0M549.8 476.8h0M548.2 507.0h0M542.3 472.9h0M549.3 486.0h0M542.5 482.4h0M541.5 510.6h0M550.1 469.1h0M542.8 486.3h0M552.8 485.1h0M552.9 483.8h0M544.1 472.0h0M544.7 456.8h0M543.3 471.4h0M541.1 545.9h0M544.2 457.2h0M541.4 468.4h0M547.2 456.5h0M545.0 529.2h0M553.8 473.2h0M552.7 486.3h0M550.3 474.4h0M546.4 504.0h0M552.9 533.2h0M544.6 458.0h0M540.9 511.0h0M548.4 457.0h0M541.5 483.9h0M548.5 482.0h0M544.8 463.2h0M550.3 551.7h0M544.9 481.2h0M542.3 459.1h0M541.2 490.8h0M546.9 489.0h0M544.1 470.9h0M554.2 466.3h0M547.1 470.7h0M544.5 477.3h0M547.3 486.0h0M550.7 476.1h0M548.8 502.5h0M544.9 475.7h0M550.7 463.1h0M546.8 456.6h0M547.1 472.9h0M546.9 462.0h0M554.1 482.9h0M541.8 471.6h0M553.3 487.3h0M542.7 468.8h0M542.5 497.1h0M542.4 473.8h0M545.3 472.8h0M542.2 462.8h0M549.2 472.7h0M551.4 456.1h0M548.2 531.9h0M550.6 480.2h0M550.8 456.7h0M546.7 471.8h0M541.4 476.6h0M553.1 453.8h0M550.2 515.6h0M549.7 465.3h0M552.1 477.6h0M541.6 477.4h0M545.6 477.7h0M545.0 516.6h0M543.8 474.1h0M548.4 489.9h0M544.4 484.2h0M546.6 488.5h0M542.4 500.3h0M542.0 505.0h0M545.1 433.1h0M547.6 519.3h0M545.9 543.3h0M553.3 490.5h0M544.4 480.7h0M553.1 463.3h0M554.1 473.8h0M553.8 479.2h0M554.0 456.5h0M548.4 481.6h0M552.2 480.1h0M548.9 447.1h0M554.4 455.2h0M553.8 476.2h0M549.2 445.3h0M545.5 465.4h0M546.6 458.6h0M545.6 483.2h0M542.9 470.6h0M548.8 540.3h0M552.8 518.4h0M545.3 507.7h0M554.5 453.6h0M546.5 494.5h0M550.2 471.5h0M552.0 478.3h0M553.8 498.8h0M541.4 478.0h0M544.1 482.8h0M542.9 469.4h0M545.8 544.7h0M544.3 548.8h0M550.1 480.2h0M552.2 476.5h0M554.5 519.0h0M541.0 514.4h0M544.7 477.3h0M546.2 484.9h0M548.5 453.3h0M547.6 478.8h0M549.0 487.7h0M542.3 456.8h0M542.1 486.4h0M546.1 472.5h0M546.1 473.4h0M548.5 476.8h0M549.4 505.6h0M545.3 482.3h0M542.3 483.8h0M553.1 476.0h0M542.9 529.4h0M543.0 487.1h0M543.6 496.5h0M543.9 463.9h0M546.7 472.9h0M551.8 533.6h0M554.3 455.1h0M544.0 478.5h0M551.3 556.9h0M543.9 455.2h0M548.2 482.7h0M545.1 466.0h0M543.8 462.7h0M546.2 503.7h0M543.3 489.3h0M543.1 457.0h0M541.3 485.4h0M551.2 533.2h0M550.2 490.2h0M551.5 556.0h0M551.9 455.9h0M553.3 516.3h0M549.0 466.3h0M543.8 542.9h0M550.4 490.0h0M541.4 499.4h0M543.0 469.6h0M549.6 479.5h0M546.6 481.0h0M551.0 500.0h0M547.1 472.0h0M542.2 437.0h0M542.2 482.6h0M549.8 467.7h0M546.0 461.5h0M542.4 481.2h0M547.5 486.3h0M541.7 476.6h0M551.1 458.9h0M544.5 466.3h0M542.5 464.8h0M545.0 442.5h0M543.7 482.9h0M550.6 489.7h0M552.6 445.7h0M550.4 456.7h0M552.0 517.8h0M542.3 504.2h0M549.2 515.4h0M554.0 459.6h0M547.1 479.3h0M552.3 458.6h0M554.3 509.1h0M548.6 547.5h0M551.4 529.8h0M543.7 481.6h0M554.2 478.6h0M544.8 472.5h0M551.6 455.9h0M552.3 472.4h0M554.3 472.4h0M551.0 480.6h0M550.5 473.6h0M548.3 489.0h0M553.5 502.0h0M549.8 464.3h0M545.4 472.2h0M554.1 462.8h0M544.2 490.0h0M553.3 476.2h0M542.8 464.5h0M547.7 553.3h0M542.7 488.8h0M546.9 542.8h0M546.4 483.9h0M545.7 453.0h0M554.0 483.4h0M553.4 468.1h0M549.3 478.5h0M547.6 536.1h0M542.2 485.8h0M549.5 478.8h0M546.0 506.7h0M553.6 482.4h0M548.4 488.9h0M543.4 512.7h0" stroke="#a45fa8" stroke-width="2.3" stroke-linecap="round" fill="none" stroke-opacity="0.66"/>
<path d="M553.7 464.0h0M544.2 469.2h0M542.4 473.2h0M554.1 469.5h0M546.4 464.9h0M553.5 470.7h0M545.2 469.7h0M543.8 455.3h0M543.0 472.0h0M550.2 474.4h0M554.2 472.7h0M549.3 486.2h0M549.6 474.7h0M545.0 471.7h0M544.2 488.3h0M545.8 486.7h0M544.5 466.7h0M544.5 472.6h0M542.9 504.8h0M552.8 448.6h0M541.3 524.5h0M551.2 512.3h0M552.5 499.4h0M553.3 473.1h0M553.7 503.4h0M547.7 484.6h0M549.0 530.7h0M551.6 470.2h0M553.4 457.3h0M550.5 486.2h0M553.0 540.0h0M550.8 464.8h0M554.5 499.1h0M552.2 466.4h0M551.3 471.9h0M552.9 511.3h0M546.9 477.2h0M542.9 454.9h0M546.1 489.0h0M543.6 472.2h0M543.2 455.7h0M544.7 464.8h0M546.7 478.3h0M546.7 475.2h0M543.5 469.5h0M541.2 453.6h0M549.3 464.5h0M548.5 481.8h0M551.1 502.2h0M551.7 475.6h0M551.8 475.8h0M549.1 513.3h0M545.8 493.0h0M545.4 474.4h0M553.9 459.1h0M549.4 505.7h0M550.6 473.9h0M551.1 468.8h0M552.8 502.7h0M550.5 467.3h0M550.2 471.5h0M551.8 535.5h0M543.0 474.4h0M544.3 521.3h0M544.1 473.2h0M550.8 490.8h0M541.7 460.2h0M542.5 487.2h0M545.0 517.1h0M546.5 489.3h0M544.8 471.4h0M541.2 460.9h0M544.4 446.9h0M546.5 455.0h0M546.0 486.0h0M541.1 470.6h0M552.5 461.9h0M551.9 460.8h0M550.6 477.8h0M548.4 485.7h0M541.0 487.1h0M543.7 479.3h0M545.9 473.9h0M550.9 471.0h0M547.8 479.2h0M552.4 478.0h0M551.8 466.2h0M545.0 504.3h0M544.9 478.5h0M554.5 503.5h0M549.8 474.8h0M550.9 462.5h0M553.1 473.7h0M543.6 511.9h0M548.3 475.5h0M548.4 465.8h0M549.9 478.3h0M552.3 478.3h0M544.4 452.0h0M545.0 468.9h0M545.3 473.1h0M553.6 489.8h0M553.9 490.2h0M548.4 483.4h0M551.9 492.8h0M542.5 506.6h0M543.3 452.7h0M540.8 470.0h0M547.7 460.9h0M545.7 538.6h0M542.4 499.1h0M551.6 487.1h0M548.2 484.0h0M546.2 455.0h0M542.6 488.1h0M546.1 483.8h0M543.6 488.0h0M553.8 468.2h0M550.7 477.1h0M550.9 451.6h0M548.4 463.3h0M546.6 513.8h0M544.1 505.9h0M542.3 473.4h0M553.6 450.5h0M544.2 514.4h0M545.4 499.6h0M541.8 477.4h0M541.6 491.0h0M548.9 487.0h0M544.9 473.8h0M551.1 473.3h0M549.3 486.5h0M551.8 462.5h0M545.3 473.7h0M547.0 457.2h0M541.7 462.6h0M551.2 472.9h0M553.1 456.4h0M542.2 512.6h0M546.9 468.8h0M554.4 489.1h0M552.7 474.8h0M548.9 488.9h0M551.8 504.2h0M545.4 483.0h0M553.7 487.9h0M554.0 469.8h0M548.3 497.4h0M546.9 464.3h0M551.6 475.5h0M552.7 502.1h0M541.6 547.6h0M545.2 483.8h0M541.9 458.9h0M544.3 479.7h0M552.2 515.0h0M548.5 526.8h0M544.2 482.6h0M546.7 465.7h0M550.2 486.0h0M549.0 470.4h0M552.8 468.9h0M547.4 495.1h0M554.2 466.4h0M546.7 461.9h0M552.1 484.1h0M550.6 471.2h0M541.5 475.0h0M543.7 457.4h0M550.3 468.9h0M544.7 473.2h0M545.4 468.6h0M552.6 487.7h0M552.8 470.5h0M547.9 448.8h0M546.6 468.6h0M547.5 477.2h0M547.9 484.6h0M541.6 471.9h0M549.6 469.7h0M546.9 486.9h0M541.0 472.6h0M543.7 474.7h0M550.5 469.0h0M551.6 469.5h0M553.1 461.7h0M546.7 523.6h0M553.1 483.3h0M552.5 481.2h0M546.1 458.6h0M553.1 455.9h0M548.7 471.1h0M542.4 460.4h0M550.0 514.3h0M553.5 461.1h0M543.0 469.7h0M541.1 454.5h0M544.4 445.6h0M544.6 469.1h0M540.8 471.5h0M552.2 471.2h0M551.6 472.3h0M546.3 482.2h0M548.2 446.7h0M549.9 486.6h0M554.5 505.3h0M542.0 515.7h0M543.3 456.9h0M553.6 468.6h0M550.2 468.4h0M552.3 486.4h0M552.2 469.2h0M553.9 475.8h0M547.0 459.5h0M553.7 467.8h0M549.4 483.7h0M549.6 458.5h0M552.1 471.2h0M543.3 488.3h0M542.5 478.8h0M547.6 489.0h0M552.3 453.9h0M547.4 476.6h0M542.8 514.1h0M545.8 476.1h0M543.3 489.7h0M545.0 501.5h0M542.8 469.4h0M546.1 499.4h0M550.9 473.8h0M552.6 471.6h0M551.1 460.9h0M551.4 556.5h0M544.0 465.6h0M546.0 545.9h0M550.8 468.3h0M550.6 484.4h0M550.2 490.5h0M541.8 558.9h0M547.1 481.3h0M554.5 481.3h0M553.1 458.7h0M541.7 479.3h0M553.9 470.5h0M549.7 478.3h0M540.8 490.8h0M546.1 472.3h0M541.0 482.6h0M545.6 463.0h0M552.5 492.1h0M546.9 470.4h0M544.0 483.4h0M551.6 490.3h0M550.7 529.6h0M545.1 481.2h0M554.2 466.2h0M543.3 487.0h0M543.1 511.4h0M541.9 477.8h0M543.4 461.9h0M552.8 480.4h0M551.5 481.2h0M544.1 461.0h0M541.1 477.3h0M544.7 552.6h0M542.0 490.7h0M547.4 470.3h0M542.8 509.5h0M551.4 460.7h0M546.1 474.3h0M544.3 494.2h0M544.7 478.2h0M542.6 439.7h0M543.2 555.2h0M549.5 514.4h0M545.4 471.8h0M546.8 509.5h0M547.6 467.0h0M550.8 463.3h0M552.3 467.1h0M545.3 537.6h0M544.3 458.3h0M553.5 488.8h0M543.3 519.7h0M550.5 479.9h0M551.4 495.7h0M549.1 463.6h0M541.2 525.0h0M546.5 529.1h0M553.5 457.0h0M547.4 528.0h0M542.3 464.9h0M547.2 490.8h0M546.5 496.8h0M541.1 516.2h0M545.6 453.7h0M550.1 490.6h0M546.7 453.3h0M542.4 477.0h0M544.0 504.0h0M550.1 468.1h0M545.4 490.9h0M547.9 489.2h0M541.0 481.1h0M547.6 517.2h0M543.8 484.8h0M546.8 477.7h0M549.0 478.0h0M547.4 480.6h0M549.8 461.0h0M549.7 458.2h0M548.8 468.3h0M547.6 475.3h0M552.0 488.4h0M553.5 482.2h0M542.7 492.5h0M552.2 483.8h0M553.4 469.4h0M549.2 499.4h0M541.8 478.1h0M545.2 462.8h0M550.6 472.0h0M543.3 461.7h0M551.6 489.7h0M546.8 511.2h0M548.8 470.9h0M545.3 512.0h0M554.4 475.2h0M554.3 469.0h0M553.6 476.5h0M551.8 473.7h0M550.0 496.8h0M548.1 487.8h0M545.1 454.4h0M545.7 463.0h0M551.6 518.2h0M554.4 496.3h0M554.5 483.0h0M543.4 518.8h0M542.4 502.4h0M550.7 460.5h0M553.9 537.2h0M548.2 533.4h0M541.4 469.8h0M544.0 512.6h0M551.6 489.4h0M542.8 469.1h0M552.8 486.6h0M545.6 458.6h0" stroke="#a45fa8" stroke-width="2.3" stroke-linecap="round" fill="none" stroke-opacity="0.66"/>
<path d="M545.8 507.2h0M546.0 491.2h0M541.2 477.9h0M551.9 470.4h0M552.2 470.2h0M543.7 447.6h0M550.4 484.8h0M549.2 483.5h0M542.0 484.7h0M545.0 471.7h0M552.4 501.3h0M543.3 473.6h0M554.0 479.5h0M544.1 454.9h0M552.3 478.5h0M543.9 479.4h0M546.7 487.4h0M552.9 534.8h0M544.7 460.3h0M552.9 439.9h0M542.5 465.5h0M549.8 469.0h0M542.5 500.4h0M550.3 470.6h0M541.7 469.3h0M549.8 484.5h0M550.2 508.7h0M547.8 471.6h0M553.8 517.6h0M545.2 455.5h0M553.4 490.3h0M551.6 518.4h0M546.8 469.2h0M544.6 505.6h0M546.7 507.7h0M544.2 468.9h0M545.0 478.4h0M548.6 472.0h0M550.0 473.4h0M546.2 485.8h0M543.1 476.1h0M546.2 473.4h0M552.2 478.4h0M553.0 487.9h0M553.3 469.8h0M552.7 485.9h0M550.9 490.8h0M553.0 476.3h0M552.0 465.1h0M543.8 514.9h0M543.3 480.2h0M541.6 474.3h0M543.4 488.5h0M546.3 466.2h0M552.5 486.5h0M548.4 473.6h0M549.3 438.4h0M546.6 482.6h0M550.4 508.3h0M551.2 508.9h0M542.3 479.2h0M545.8 440.5h0M552.5 484.0h0M545.1 483.0h0M543.4 438.6h0M554.5 489.4h0M551.3 488.1h0M549.8 489.9h0M550.6 483.1h0M552.7 485.3h0M548.5 485.0h0M543.1 434.7h0M548.1 460.7h0M544.3 457.2h0M552.6 481.1h0M550.7 484.2h0M554.1 474.1h0M543.1 486.1h0M550.9 470.6h0M548.5 462.4h0M547.3 519.8h0M553.8 487.2h0M541.4 479.4h0M542.1 518.8h0M547.4 455.0h0M551.4 465.3h0M553.9 502.9h0M553.1 477.9h0M543.9 483.7h0M551.1 468.8h0M547.7 481.1h0M548.6 476.1h0M544.4 487.4h0M544.8 508.0h0M544.1 511.0h0M550.9 509.7h0M543.1 483.8h0M554.5 485.2h0M548.9 481.0h0M543.0 469.8h0M551.1 491.9h0M541.1 454.3h0M554.3 454.0h0M541.5 514.1h0M545.6 472.0h0M553.2 477.1h0M551.6 471.4h0M544.3 464.6h0M548.2 478.7h0M551.1 479.4h0M549.7 473.4h0M553.8 529.2h0M541.7 521.2h0M546.8 535.3h0M551.6 515.4h0M541.3 473.2h0M552.0 518.2h0M543.6 545.3h0M549.8 470.0h0M546.1 475.4h0M554.2 456.9h0M553.3 472.3h0M541.5 490.7h0M549.7 481.6h0M551.1 480.9h0M554.0 488.8h0M544.4 457.7h0M540.9 464.2h0M543.4 459.4h0M546.6 494.5h0M542.6 471.5h0M547.5 453.3h0M540.9 456.1h0M550.5 507.4h0M549.9 457.9h0M550.4 490.7h0M543.8 502.2h0M541.0 480.1h0M545.5 485.9h0M548.4 467.4h0M553.4 478.3h0M541.5 464.8h0M547.1 495.0h0M550.6 458.3h0M551.4 492.8h0M544.5 454.7h0M545.8 487.1h0M553.0 487.6h0M546.3 469.2h0M544.7 463.2h0M550.2 512.3h0M548.6 467.4h0M553.1 472.7h0M548.8 539.3h0M540.9 481.9h0M553.9 471.7h0M552.0 482.6h0M547.5 489.6h0M547.0 530.3h0M544.6 463.5h0M552.7 490.4h0M544.4 434.7h0M553.4 476.3h0M548.4 450.1h0M554.5 518.6h0M548.2 556.3h0M548.3 511.5h0M553.3 476.0h0M548.1 488.1h0M546.6 474.3h0M547.2 474.4h0M542.6 481.4h0M552.8 457.3h0M544.6 470.0h0M548.5 479.4h0M547.0 527.4h0M550.2 488.3h0M551.8 486.9h0M551.2 480.4h0M553.7 477.7h0M543.6 476.7h0M549.8 471.6h0M544.6 468.2h0M549.3 484.4h0M547.1 474.2h0M545.0 458.1h0M545.4 480.0h0M548.5 477.4h0M548.5 466.0h0M543.7 458.9h0M551.9 470.0h0M550.4 519.0h0M547.0 546.6h0M546.6 461.3h0M545.0 484.1h0M551.7 481.6h0M546.2 478.3h0M547.6 493.6h0M545.5 461.0h0M547.8 475.6h0M542.4 486.4h0M551.9 517.1h0M543.2 518.4h0M551.3 505.0h0M546.6 469.3h0M552.2 477.5h0M541.3 464.9h0M550.0 507.0h0M545.0 474.4h0M544.2 472.9h0M550.6 446.0h0M551.2 464.5h0M548.4 482.4h0M549.8 481.8h0M553.8 469.4h0M543.0 495.5h0M544.8 480.4h0M542.8 481.8h0M554.2 472.4h0M542.0 453.1h0M543.2 508.9h0M551.2 485.4h0M542.2 475.0h0M543.3 459.7h0M543.7 496.2h0M542.1 483.6h0M553.1 475.6h0M553.9 517.8h0M550.6 471.6h0M550.3 490.3h0M542.6 466.9h0M545.0 489.7h0M547.1 480.5h0M545.2 468.0h0M553.9 471.3h0M546.2 453.7h0M543.1 475.0h0M554.4 453.4h0M551.9 448.1h0M545.0 509.2h0M541.4 553.4h0M544.8 473.1h0M554.0 486.1h0M547.7 492.6h0M547.9 465.2h0M552.0 459.6h0M548.9 484.5h0M548.4 482.5h0M554.4 453.7h0M549.4 477.0h0M550.7 548.3h0M545.6 460.2h0M546.9 553.9h0M546.2 482.4h0M547.2 468.7h0M550.2 465.9h0M548.8 513.7h0M543.4 506.3h0M545.4 484.2h0M552.9 502.3h0M550.1 476.1h0M547.7 516.2h0M551.6 478.5h0M546.2 487.5h0M542.3 554.8h0M545.0 487.3h0M553.4 490.3h0M542.0 477.6h0M548.1 542.0h0M548.0 464.7h0M554.5 469.9h0M552.7 456.4h0M545.3 453.4h0M545.1 481.8h0M541.5 456.7h0M553.1 459.8h0M549.1 489.0h0M550.4 470.5h0M545.1 518.3h0M548.2 475.3h0M540.9 494.8h0M551.3 467.4h0M550.3 461.6h0M549.9 516.8h0M543.9 494.4h0M542.8 484.5h0M542.7 457.9h0M553.9 482.9h0M546.4 489.4h0M545.5 492.6h0M541.5 468.8h0M548.6 456.6h0M548.1 463.1h0M552.7 510.7h0M550.8 477.2h0M554.1 454.9h0M550.8 491.8h0M544.4 490.6h0M543.3 466.6h0M551.5 471.2h0M546.9 469.0h0M547.5 500.4h0M546.6 485.3h0M540.9 461.8h0M547.1 544.3h0M544.1 460.3h0M549.0 509.0h0M548.3 453.0h0M550.9 469.2h0M553.8 516.4h0M542.2 478.5h0M549.3 463.0h0M545.2 466.9h0M548.9 446.0h0M552.1 470.6h0M551.5 479.0h0M542.4 503.2h0M545.2 461.2h0M552.1 458.0h0M552.6 455.9h0M547.0 465.7h0M551.6 483.7h0M540.9 527.8h0M541.1 464.6h0M544.2 490.3h0M546.6 472.2h0M548.4 476.3h0M545.2 487.8h0M552.6 488.3h0M544.0 462.2h0M551.4 478.1h0M550.9 465.9h0M544.5 547.4h0M540.9 460.9h0M551.4 462.1h0M552.0 470.3h0M541.6 457.0h0M552.8 463.6h0M549.7 544.1h0M553.5 514.8h0M546.1 453.8h0M548.3 476.5h0M544.7 494.9h0M544.9 518.8h0M545.6 460.2h0M543.1 515.6h0M554.1 453.8h0M546.6 473.4h0M551.0 487.5h0M548.9 472.0h0" stroke="#a45fa8" stroke-width="2.3" stroke-linecap="round" fill="none" stroke-opacity="0.66"/>
<rect x="535.10" y="468.31" width="25.15" height="22.68" fill="none" stroke="#c29ac6" stroke-width="0.8"/>
<line x1="535.10" y1="478.74" x2="560.25" y2="478.74" stroke="#c29ac6" stroke-width="1.2"/>
<line x1="582.13" y1="448.09" x2="582.13" y2="478.74" stroke="#d6cc52" stroke-width="0.8"/>
<line x1="582.13" y1="515.51" x2="582.13" y2="558.43" stroke="#d6cc52" stroke-width="0.8"/>
<path d="M587.4 497.0h0M582.4 471.1h0M576.4 517.9h0M576.3 534.6h0M587.1 499.9h0M579.5 538.1h0M576.7 463.3h0M578.2 526.7h0M587.3 465.9h0M583.2 531.1h0M577.7 464.1h0M584.6 481.7h0M584.8 523.1h0M575.3 465.0h0M576.4 510.8h0M580.4 494.7h0M580.3 494.6h0M587.2 483.5h0M583.6 497.3h0M584.6 466.8h0M579.4 482.4h0M575.3 487.5h0M584.8 548.9h0M583.2 533.5h0M583.2 448.7h0M580.1 462.3h0M585.8 499.5h0M586.4 509.4h0M579.9 539.4h0M583.1 473.3h0M580.1 474.9h0M586.9 521.1h0M582.7 470.1h0M575.6 470.5h0M577.3 482.6h0M580.6 518.6h0M579.9 500.9h0M586.4 493.0h0M579.8 481.6h0M582.4 512.9h0M581.5 495.9h0M585.0 528.9h0M588.5 534.3h0M576.2 498.9h0M575.9 512.3h0M578.7 458.2h0M578.9 500.5h0M578.9 517.0h0M576.3 455.9h0M577.7 468.9h0M577.3 459.4h0M587.7 513.5h0M583.9 555.1h0M578.5 477.5h0M583.3 479.1h0M579.6 498.3h0M587.4 508.7h0M576.3 461.0h0M575.9 515.2h0M580.6 464.0h0M585.7 546.6h0M586.0 456.2h0M577.6 488.1h0M584.2 490.8h0M579.1 526.9h0M576.6 498.5h0M577.4 491.3h0M576.1 449.6h0M577.9 493.1h0M584.7 488.0h0M584.1 471.8h0M575.9 512.1h0M577.7 513.5h0M586.5 470.7h0M579.3 507.8h0M583.2 542.8h0M576.5 521.4h0M588.2 519.7h0M575.8 491.8h0M585.8 464.0h0M577.5 479.5h0M588.5 496.7h0M585.7 530.5h0M580.5 486.0h0M577.4 496.7h0M587.5 510.5h0M576.3 528.3h0M582.5 479.3h0M584.0 494.7h0M575.8 476.8h0M585.7 453.7h0M582.4 453.3h0M582.9 492.2h0" stroke="#c7bd2c" stroke-width="2.3" stroke-linecap="round" fill="none" stroke-opacity="0.66"/>
<rect x="569.55" y="478.74" width="25.15" height="36.78" fill="none" stroke="#d6cc52" stroke-width="0.8"/>
<line x1="569.55" y1="497.12" x2="594.70" y2="497.12" stroke="#d6cc52" stroke-width="1.2"/>
<line x1="627.80" y1="441.96" x2="627.80" y2="471.38" stroke="#c29ac6" stroke-width="0.8"/>
<line x1="627.80" y1="498.96" x2="627.80" y2="538.81" stroke="#c29ac6" stroke-width="0.8"/>
<path d="M621.3 473.8h0M621.6 493.0h0M625.0 509.0h0M624.5 493.3h0M625.5 475.4h0M630.1 496.7h0M634.6 539.3h0M624.3 442.3h0M621.4 493.3h0M623.7 478.4h0M624.3 484.7h0M633.2 487.3h0M623.5 518.2h0M623.6 517.8h0M625.0 484.0h0M621.9 482.5h0M621.9 464.7h0M634.6 483.3h0M632.7 538.4h0M625.5 483.1h0M622.4 486.3h0M625.9 476.4h0M624.9 478.6h0M631.2 510.0h0M626.9 471.8h0M631.0 472.4h0M629.5 492.4h0M621.7 481.9h0M630.8 504.8h0M624.2 447.8h0M624.9 473.3h0M621.5 483.4h0M624.1 455.0h0M626.8 492.4h0M632.6 477.3h0M626.1 470.1h0M633.2 485.4h0M629.1 504.1h0M632.6 466.8h0M628.3 463.7h0M624.1 478.7h0M620.9 488.5h0M623.5 457.7h0M623.1 450.5h0M628.7 540.9h0M625.6 494.1h0M625.5 494.8h0M630.0 472.4h0M626.2 485.5h0M633.9 475.6h0M625.8 558.0h0M622.5 540.5h0M626.2 481.6h0M629.0 493.9h0M622.6 469.0h0M633.2 458.6h0M632.4 508.9h0M630.9 486.2h0M622.6 488.0h0M626.9 539.1h0M623.5 531.5h0M625.3 478.1h0M630.1 487.0h0M623.6 476.8h0M630.7 471.8h0M626.2 451.9h0M621.5 460.6h0M633.7 478.9h0M633.1 451.8h0M628.6 480.2h0M626.7 478.4h0M633.4 514.8h0M629.5 494.3h0M629.4 534.6h0M629.7 475.1h0M630.6 478.3h0M624.0 473.2h0" stroke="#a45fa8" stroke-width="2.3" stroke-linecap="round" fill="none" stroke-opacity="0.66"/>
<path d="M627.9 498.0h0M628.3 515.5h0M629.3 462.5h0M623.6 555.3h0M629.7 513.6h0M630.7 493.5h0M621.8 453.4h0M626.5 448.9h0M630.7 542.8h0M626.3 457.8h0M629.6 485.5h0M628.8 532.5h0M624.5 482.4h0M630.0 498.9h0M631.1 501.3h0M627.8 487.4h0M632.1 482.4h0M630.7 536.1h0M623.9 465.2h0M624.3 470.7h0M622.8 450.0h0M629.0 471.1h0M632.3 488.0h0M626.7 489.7h0M631.1 515.2h0M631.4 537.4h0M624.5 561.2h0M630.2 474.7h0M627.6 536.5h0M629.3 555.3h0M630.3 540.4h0M626.9 540.2h0M621.1 514.6h0M631.2 505.3h0M630.8 503.2h0M634.5 467.4h0M632.5 484.6h0M628.1 465.0h0M630.9 458.0h0M627.0 466.2h0M626.5 531.6h0M631.3 496.9h0M632.6 492.4h0M629.4 469.6h0M630.8 493.9h0M626.5 477.5h0M632.1 498.6h0M631.0 449.1h0M622.9 538.4h0M632.4 488.8h0M633.1 492.1h0M625.9 474.5h0M626.0 494.6h0M625.1 475.9h0M622.2 487.3h0M628.5 494.7h0M629.7 515.7h0M625.3 452.0h0M630.9 448.6h0M634.3 472.1h0M627.8 479.9h0M620.9 496.5h0M623.8 476.5h0M621.0 551.5h0M625.5 531.2h0M626.3 489.7h0M631.3 517.1h0M630.6 479.8h0M626.1 446.5h0M633.8 471.6h0M628.8 466.1h0M634.8 542.9h0M628.1 498.4h0M631.2 444.8h0M631.4 498.1h0M627.7 497.0h0M628.6 482.9h0" stroke="#a45fa8" stroke-width="2.3" stroke-linecap="round" fill="none" stroke-opacity="0.66"/>
<path d="M624.1 512.6h0M623.4 536.9h0M633.5 506.6h0M627.2 449.8h0M625.3 460.7h0M626.0 469.5h0M622.8 490.5h0M625.7 557.2h0M625.0 448.1h0M622.8 469.3h0M625.3 453.8h0M626.1 527.5h0M627.0 530.3h0M621.5 505.8h0M621.2 514.2h0M628.3 490.3h0M634.6 482.2h0M634.2 453.9h0M630.1 476.6h0M625.1 489.2h0M633.0 524.1h0M633.0 471.9h0M626.1 477.4h0M631.2 475.7h0M624.6 521.3h0M621.7 472.8h0M624.9 462.0h0M632.4 475.7h0M631.5 480.8h0M624.0 476.8h0M624.2 487.0h0M629.9 521.8h0M630.8 482.7h0M634.6 451.1h0M627.6 482.2h0M626.5 472.7h0M625.8 470.2h0M633.7 473.4h0M632.5 476.4h0M633.4 511.6h0M625.2 478.5h0M624.7 543.0h0M623.2 453.4h0M634.2 496.4h0M627.2 481.6h0M632.2 455.0h0M633.8 493.9h0M628.8 486.4h0M630.7 512.5h0M625.5 536.8h0M622.8 474.8h0M620.9 488.3h0M632.8 495.1h0M626.4 478.2h0M629.2 498.9h0M626.8 485.1h0M622.6 496.5h0M625.6 474.1h0M624.9 495.8h0M634.7 519.8h0M622.2 488.3h0M624.6 490.1h0M634.2 450.1h0M630.9 453.9h0M628.4 457.6h0M632.9 528.9h0M627.2 496.7h0M632.7 530.2h0M631.7 482.8h0M622.7 472.8h0M634.6 538.7h0M622.6 497.8h0M624.2 539.1h0M630.5 456.3h0M631.3 513.3h0M626.5 496.8h0M632.8 493.3h0" stroke="#a45fa8" stroke-width="2.3" stroke-linecap="round" fill="none" stroke-opacity="0.66"/>
<path d="M630.0 451.3h0M626.6 489.4h0M624.6 463.3h0M627.1 490.8h0M630.5 546.7h0M628.2 476.0h0M633.9 476.1h0M634.5 460.8h0M629.0 489.3h0M634.3 482.0h0M628.6 481.1h0M622.9 475.7h0M626.4 485.8h0M632.2 512.8h0M633.6 462.3h0M622.0 453.6h0M633.8 476.3h0M632.1 534.1h0M628.4 474.3h0M629.8 542.3h0M626.5 465.5h0M624.7 495.9h0M632.0 481.8h0M633.3 449.9h0M626.0 498.9h0M628.9 474.3h0M628.6 485.8h0M627.3 534.6h0M625.5 497.3h0M628.9 533.4h0M627.6 491.4h0M623.3 513.6h0M621.2 470.7h0M622.0 541.3h0M622.8 536.4h0M621.5 478.9h0M634.6 479.4h0M629.2 476.7h0M622.6 485.4h0M628.7 471.6h0M631.4 460.0h0M628.5 501.3h0M622.2 532.1h0M628.6 497.8h0M626.5 473.7h0M629.4 463.9h0M621.1 475.2h0M625.4 456.8h0M630.6 485.1h0M620.9 494.5h0M630.5 480.8h0M631.8 491.9h0M623.6 473.5h0M626.8 484.6h0M623.7 523.0h0M621.1 468.2h0M634.5 474.2h0M630.7 467.0h0M630.0 478.5h0M634.1 560.6h0M623.6 459.9h0M628.3 487.5h0M630.6 482.4h0M633.2 515.0h0M631.8 473.4h0M630.5 523.0h0M627.5 464.7h0M621.0 527.0h0M626.6 509.4h0M630.6 475.5h0M634.4 459.8h0M624.1 469.0h0M627.5 474.4h0M632.8 462.1h0M631.0 519.5h0M625.5 466.0h0" stroke="#a45fa8" stroke-width="2.3" stroke-linecap="round" fill="none" stroke-opacity="0.66"/>
<rect x="615.02" y="471.38" width="25.55" height="27.59" fill="none" stroke="#c29ac6" stroke-width="0.8"/>
<line x1="615.02" y1="481.80" x2="640.57" y2="481.80" stroke="#c29ac6" stroke-width="1.2"/>
<line x1="662.80" y1="462.18" x2="662.80" y2="492.22" stroke="#d6cc52" stroke-width="0.8"/>
<line x1="662.80" y1="539.42" x2="662.80" y2="558.43" stroke="#d6cc52" stroke-width="0.8"/>
<path d="M658.1 522.6h0M665.7 495.7h0M668.2 492.4h0M658.2 503.3h0M666.7 466.9h0M667.3 495.3h0M658.3 490.5h0M656.9 491.1h0M658.1 540.4h0M665.7 517.5h0M658.4 487.3h0M663.4 489.7h0M666.0 476.6h0M668.3 555.0h0M660.1 482.7h0M657.1 541.0h0M660.3 505.1h0M660.6 464.4h0M667.3 555.9h0M656.0 472.5h0M660.7 530.4h0M656.4 522.9h0M658.6 463.4h0M657.9 539.2h0M661.7 496.6h0M667.9 555.0h0M668.9 531.2h0" stroke="#c7bd2c" stroke-width="2.3" stroke-linecap="round" fill="none" stroke-opacity="0.66"/>
<rect x="650.02" y="492.22" width="25.55" height="47.20" fill="none" stroke="#d6cc52" stroke-width="0.8"/>
<line x1="650.02" y1="510.00" x2="675.57" y2="510.00" stroke="#d6cc52" stroke-width="1.2"/>
<rect x="527.00" y="409.30" width="75.80" height="12.00" fill="#fff" stroke="#333" stroke-width="0.9"/>
<text x="564.9" y="417.5" font-size="6.3" text-anchor="middle" fill="#1a1a1a" >Discovery</text>
<line x1="527.00" y1="566.60" x2="602.80" y2="566.60" stroke="#333" stroke-width="0.9" />
<line x1="547.67" y1="566.60" x2="547.67" y2="568.80" stroke="#333" stroke-width="0.8" />
<text transform="translate(547.7 575.2) scale(1 1.12)" x="0" y="0" font-size="6.2" text-anchor="middle" fill="#4d4d4d">CMV+</text>
<line x1="582.13" y1="566.60" x2="582.13" y2="568.80" stroke="#333" stroke-width="0.8" />
<text transform="translate(582.1 575.2) scale(1 1.12)" x="0" y="0" font-size="6.2" text-anchor="middle" fill="#4d4d4d">CMV-</text>
<rect x="606.80" y="409.30" width="77.00" height="12.00" fill="#fff" stroke="#333" stroke-width="0.9"/>
<text x="645.3" y="417.5" font-size="6.3" text-anchor="middle" fill="#1a1a1a" >Validation</text>
<line x1="606.80" y1="566.60" x2="683.80" y2="566.60" stroke="#333" stroke-width="0.9" />
<line x1="627.80" y1="566.60" x2="627.80" y2="568.80" stroke="#333" stroke-width="0.8" />
<text transform="translate(627.8 575.2) scale(1 1.12)" x="0" y="0" font-size="6.2" text-anchor="middle" fill="#4d4d4d">CMV+</text>
<line x1="662.80" y1="566.60" x2="662.80" y2="568.80" stroke="#333" stroke-width="0.8" />
<text transform="translate(662.8 575.2) scale(1 1.12)" x="0" y="0" font-size="6.2" text-anchor="middle" fill="#4d4d4d">CMV-</text>
<path d="M547.67 431.50 V428.30 H582.13 V431.50" fill="none" stroke="#666" stroke-width="0.6"/>
<text x="564.9" y="427.4" font-size="7.0" text-anchor="middle" fill="#1a1a1a" >1.93309e-07</text>
<path d="M627.80 431.50 V428.30 H662.80 V431.50" fill="none" stroke="#666" stroke-width="0.6"/>
<text x="645.3" y="427.4" font-size="7.0" text-anchor="middle" fill="#1a1a1a" >0.0001987351</text>
<line x1="527.00" y1="421.30" x2="527.00" y2="567.05" stroke="#333" stroke-width="0.9" />
<line x1="524.80" y1="543.10" x2="527.00" y2="543.10" stroke="#333" stroke-width="0.8" />
<text transform="translate(524.0 545.6) scale(1 1.15)" x="0" y="0" font-size="6.3" text-anchor="end" fill="#4d4d4d">3.5</text>
<line x1="524.80" y1="512.45" x2="527.00" y2="512.45" stroke="#333" stroke-width="0.8" />
<text transform="translate(524.0 515.0) scale(1 1.15)" x="0" y="0" font-size="6.3" text-anchor="end" fill="#4d4d4d">4.0</text>
<line x1="524.80" y1="481.80" x2="527.00" y2="481.80" stroke="#333" stroke-width="0.8" />
<text transform="translate(524.0 484.3) scale(1 1.15)" x="0" y="0" font-size="6.3" text-anchor="end" fill="#4d4d4d">4.5</text>
<line x1="524.80" y1="451.15" x2="527.00" y2="451.15" stroke="#333" stroke-width="0.8" />
<text transform="translate(524.0 453.7) scale(1 1.15)" x="0" y="0" font-size="6.3" text-anchor="end" fill="#4d4d4d">5.0</text>
<text x="510.8" y="494.6" font-size="7.8" font-weight="bold" text-anchor="middle" fill="#111" transform="rotate(-90 510.8 494.6)">log10( 24h_mcp1_cmv)</text>
<text x="605.3" y="584.6" font-size="7.65" text-anchor="middle" fill="#111" font-weight="bold" >CMV_IgG_Serology</text>
<text x="325.6" y="623.6" font-size="18" textLength="8.6" lengthAdjust="spacingAndGlyphs">E</text>
<text x="354.9" y="621.0" font-size="13.5" text-anchor="start" fill="#111" >Cell counts</text>
<text x="478.8" y="621.2" font-size="12.0" text-anchor="start" fill="#111" >validated</text>
<circle cx="542.30" cy="616.00" r="2.20" fill="#e0e0e0" />
<text x="553.2" y="619.6" font-size="9.4" text-anchor="start" fill="#111" >no</text>
<circle cx="575.80" cy="616.00" r="2.20" fill="#cf98aa" />
<text x="587.1" y="619.6" font-size="9.4" text-anchor="start" fill="#111" >yes</text>
<line x1="441.10" y1="639.50" x2="441.10" y2="880.30" stroke="#333" stroke-width="0.8" />
<line x1="353.30" y1="837.20" x2="669.90" y2="837.20" stroke="#333" stroke-width="0.8" />
<path d="M367.3 831.5h0M397.1 847.9h0M393.3 863.7h0M371.5 868.2h0M389.4 870.0h0M500.1 765.9h0M504.7 773.3h0M509.6 776.8h0M488.9 782.7h0M492.4 787.7h0M493.1 792.6h0M493.1 796.8h0M498.4 789.8h0M503.6 789.1h0M513.1 792.6h0M514.1 796.8h0M505.7 795.4h0M504.0 800.3h0M509.9 801.3h0M513.8 802.0h0M486.5 802.4h0M489.6 804.1h0M496.6 803.8h0M506.1 804.1h0M518.7 798.5h0M520.4 803.1h0M525.7 797.8h0M527.8 802.4h0M532.0 799.9h0M533.4 804.1h0M533.1 807.6h0M539.7 792.6h0M542.9 786.6h0M550.2 777.5h0M555.5 773.3h0M567.1 776.4h0M568.5 777.5h0M570.2 798.9h0M542.5 807.3h0M552.7 814.3h0M536.9 820.9h0M483.3 814.6h0M493.1 813.6h0M494.2 817.8h0M493.1 820.6h0M490.7 821.6h0M494.5 823.4h0M498.4 818.8h0M497.7 823.4h0M502.2 823.0h0M503.3 811.8h0M513.1 810.1h0M508.2 812.9h0M505.7 826.9h0M509.6 827.6h0M502.9 832.5h0M494.2 838.8h0M499.6 766.1h0M504.8 772.4h0M510.1 777.4h0M566.1 776.6h0M550.4 778.0h0M496.0 806.0h0M500.0 808.0h0M516.0 815.0h0M488.0 809.0h0M491.0 828.0h0M528.0 791.0h0" stroke="#d9d9d9" stroke-width="4.4" stroke-linecap="round" fill="none" stroke-opacity="0.7"/>
<path d="M624.5 650.8h0M634.9 661.3h0M634.3 669.8h0M655.8 678.5h0M561.4 685.2h0M583.3 691.2h0M584.2 695.0h0M608.3 695.0h0M604.5 699.2h0M577.0 703.0h0M634.3 704.1h0M579.9 717.8h0M587.4 723.9h0M594.1 715.0h0M544.7 720.7h0M558.4 718.2h0M549.5 728.8h0M555.2 731.1h0M559.0 733.0h0M568.5 732.6h0M573.8 734.5h0M547.6 732.6h0M598.8 729.2h0M601.7 730.7h0M597.0 735.8h0M621.6 735.3h0M559.0 738.7h0M612.0 690.0h0M599.0 687.0h0M593.1 741.6h0M607.1 742.7h0M528.3 745.1h0M549.3 744.1h0M553.2 746.2h0M573.1 749.3h0M604.0 748.6h0M606.1 749.3h0M631.3 749.3h0M529.7 749.7h0M541.6 752.1h0M547.2 753.9h0M556.7 752.8h0M572.4 754.2h0M541.6 756.7h0M563.7 756.7h0M561.9 759.1h0M541.6 760.9h0M510.1 760.9h0M508.3 762.6h0M554.9 763.3h0M576.6 764.4h0M560.2 766.1h0M551.1 767.9h0M527.6 770.3h0M552.1 771.4h0M582.3 773.1h0M491.9 774.5h0M544.1 774.9h0M532.5 777.4h0M545.1 778.4h0M560.0 741.0h0M546.7 754.7h0M541.5 761.0h0M551.3 767.3h0M554.4 762.8h0M560.7 765.6h0M562.8 757.2h0M552.0 769.8h0M572.7 749.1h0M573.4 754.0h0M576.9 764.9h0M499.4 770.8h0M527.5 770.8h0M532.7 778.5h0M543.9 775.0h0M546.0 779.6h0M524.0 782.0h0M523.3 783.8h0M531.7 781.3h0M501.9 785.5h0M510.6 785.5h0M508.2 791.2h0M512.7 790.1h0M521.9 793.6h0M520.4 794.7h0M566.0 728.0h0M590.0 726.0h0" stroke="#b7647f" stroke-width="4.4" stroke-linecap="round" fill="none" stroke-opacity="0.6"/>
<line x1="546.60" y1="678.90" x2="561.40" y2="685.20" stroke="#b5677f" stroke-width="0.8" />
<line x1="556.10" y1="691.20" x2="583.30" y2="691.20" stroke="#b5677f" stroke-width="0.8" />
<line x1="554.20" y1="716.90" x2="577.00" y2="703.00" stroke="#b5677f" stroke-width="0.8" />
<line x1="603.60" y1="714.40" x2="584.20" y2="695.00" stroke="#b5677f" stroke-width="0.8" />
<line x1="652.00" y1="683.50" x2="655.80" y2="678.50" stroke="#b5677f" stroke-width="0.8" />
<text x="523.4" y="650.4" font-size="10.15" text-anchor="start" fill="#b3678a" >CD4+.Th1_HLA-DR+</text>
<text x="522.3" y="663.7" font-size="10.15" text-anchor="start" fill="#b3678a" >CD56+CD3+_HLA-DR+</text>
<text x="551.0" y="676.4" font-size="10.15" text-anchor="start" fill="#b3678a" >TCRvd1_HLA-DR+</text>
<text x="459.3" y="681.5" font-size="10.15" text-anchor="start" fill="#b3678a" >NKcells_HLA-DR+</text>
<text x="560.5" y="689.7" font-size="10.15" text-anchor="start" fill="#b3678a" >CD4+CD8+_HLA-DR+</text>
<text x="454.0" y="695.2" font-size="10.15" text-anchor="start" fill="#b3678a" >CD4-CD8+_HLA-DR+</text>
<text x="631.5" y="696.0" font-size="10.15" text-anchor="start" fill="#b3678a" >TCRvd1</text>
<text x="581.4" y="709.8" font-size="10.15" text-anchor="start" fill="#b3678a" >CD4+.Th1_PD1+</text>
<text x="454.7" y="721.8" font-size="10.15" text-anchor="start" fill="#b3678a" >CD4+.Tem_HLA-DR+</text>
<text x="559.0" y="723.5" font-size="10.15" text-anchor="start" fill="#b3678a" >CD8+_Temra_HLA-DR+</text>
<line x1="353.30" y1="639.50" x2="353.30" y2="880.80" stroke="#333" stroke-width="1.0" />
<line x1="352.80" y1="880.30" x2="669.90" y2="880.30" stroke="#333" stroke-width="1.0" />
<line x1="350.60" y1="837.20" x2="353.30" y2="837.20" stroke="#333" stroke-width="0.9" />
<text transform="translate(347.4 840.9) scale(1 1.2)" x="0" y="0" font-size="8.8" text-anchor="end" fill="#4d4d4d">0.0</text>
<line x1="350.60" y1="778.20" x2="353.30" y2="778.20" stroke="#333" stroke-width="0.9" />
<text transform="translate(347.4 781.9) scale(1 1.2)" x="0" y="0" font-size="8.8" text-anchor="end" fill="#4d4d4d">0.5</text>
<line x1="350.60" y1="719.20" x2="353.30" y2="719.20" stroke="#333" stroke-width="0.9" />
<text transform="translate(347.4 722.9) scale(1 1.2)" x="0" y="0" font-size="8.8" text-anchor="end" fill="#4d4d4d">1.0</text>
<line x1="350.60" y1="660.20" x2="353.30" y2="660.20" stroke="#333" stroke-width="0.9" />
<text transform="translate(347.4 663.9) scale(1 1.2)" x="0" y="0" font-size="8.8" text-anchor="end" fill="#4d4d4d">1.5</text>
<line x1="364.40" y1="880.30" x2="364.40" y2="883.00" stroke="#333" stroke-width="0.9" />
<text transform="translate(364.4 894.1) scale(1 1.2)" x="0" y="0" font-size="9.0" text-anchor="middle" fill="#4d4d4d">-0.4</text>
<line x1="441.10" y1="880.30" x2="441.10" y2="883.00" stroke="#333" stroke-width="0.9" />
<text transform="translate(441.1 894.1) scale(1 1.2)" x="0" y="0" font-size="9.0" text-anchor="middle" fill="#4d4d4d">0.0</text>
<line x1="517.80" y1="880.30" x2="517.80" y2="883.00" stroke="#333" stroke-width="0.9" />
<text transform="translate(517.8 894.1) scale(1 1.2)" x="0" y="0" font-size="9.0" text-anchor="middle" fill="#4d4d4d">0.4</text>
<line x1="594.50" y1="880.30" x2="594.50" y2="883.00" stroke="#333" stroke-width="0.9" />
<text transform="translate(594.5 894.1) scale(1 1.2)" x="0" y="0" font-size="9.0" text-anchor="middle" fill="#4d4d4d">0.8</text>
<text x="511.4" y="908.0" font-size="11.9" text-anchor="middle" fill="#111" font-weight="bold" >effectSize_discovery</text>
<text x="329.2" y="760.7" font-size="12" font-weight="bold" text-anchor="middle" fill="#111" transform="rotate(-90 329.2 760.7)">effectSize_validation</text>
</svg></body></html>
